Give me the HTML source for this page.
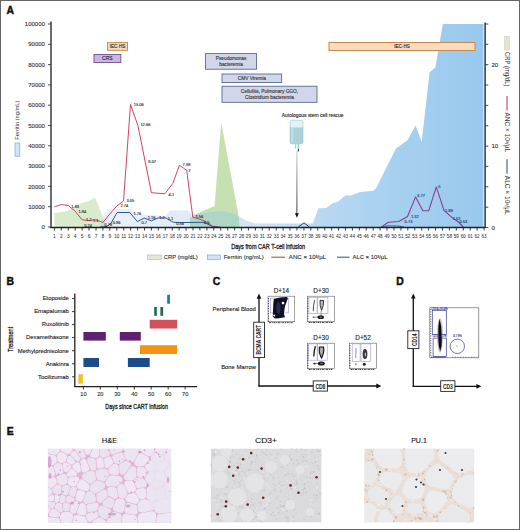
<!DOCTYPE html><html><head><meta charset="utf-8"><style>html,body{margin:0;padding:0;background:#fff;width:520px;height:530px;overflow:hidden}svg{display:block}</style></head><body><svg width="520" height="530" viewBox="0 0 520 530" font-family="Liberation Sans, sans-serif">
<defs>
<linearGradient id="fer" x1="50" y1="0" x2="485" y2="0" gradientUnits="userSpaceOnUse">
<stop offset="0" stop-color="#e8eff9"/><stop offset="0.16" stop-color="#e4ecf8"/><stop offset="0.35" stop-color="#d6e4f5"/><stop offset="0.5" stop-color="#c2daf2"/><stop offset="0.62" stop-color="#a8ceee"/><stop offset="0.8" stop-color="#90c4ec"/><stop offset="1" stop-color="#7ebbe8"/>
</linearGradient>
<linearGradient id="arr" x1="0" y1="151" x2="0" y2="214" gradientUnits="userSpaceOnUse"><stop offset="0" stop-color="#c8c8c8"/><stop offset="1" stop-color="#222"/></linearGradient>
<filter id="soft" x="0" y="0" width="1" height="1"><feGaussianBlur stdDeviation="0.5"/></filter>
<filter id="soft2" x="0" y="0" width="1" height="1"><feGaussianBlur stdDeviation="0.75"/></filter>
</defs>
<rect x="0" y="0" width="520" height="530" fill="#fff"/>
<polygon points="54.4,227.0 54.4,213.0 61.3,212.0 67.5,211.0 75.2,206.0 82.1,203.0 89.0,201.0 95.0,197.4 102.7,216.5 106.0,227.0" fill="#d9ebcc"/>
<polygon points="190.0,227.0 190.0,218.0 194.5,215.3 205.8,209.6 214.5,206.2 221.2,122.5 238.7,216.4 239.5,227.0" fill="#c6e0b2" />
<polygon points="100.0,227.0 104.0,214.0 108.0,209.0 130.0,209.0 137.0,214.0 165.0,216.0 170.8,210.4 188.5,210.4 192.0,215.0 200.0,213.0 222.0,210.7 235.0,214.0 245.0,220.0 255.0,223.6 312.7,223.6 318.5,208.2 326.0,208.0 333.0,203.0 337.9,201.7 345.2,195.6 351.4,195.6 360.0,191.9 373.4,190.7 376.0,188.2 395.8,148.7 407.7,140.0 415.6,125.5 421.7,141.9 429.6,72.2 435.4,67.5 442.8,24.0 483.5,24.0 483.5,227.0" fill="url(#fer)" fill-opacity="0.8"/>
<polygon points="103.0,217.4 100.0,227.0 106.0,227.0 103.0,217.4" fill="#c4dfcf"/>
<polygon points="194.5,215.3 190.0,218.0 190.0,227.0 239.5,227.0 238.7,216.4 238.7,216.2 235.0,214.0 222.0,210.7 200.0,213.0 198.1,213.5 194.5,215.3" fill="#acd6c6"/>
<polyline points="54.4,206.8 61.3,204.5 68.3,205.6 75.2,211.2 82.1,219.8 89.0,220.6 96.0,219.8 102.9,222.5 109.8,214.0 116.8,206.0 123.5,201.0 130.5,104.4 137.9,125.5 151.4,192.7 164.9,193.8 172.8,183.4 179.4,165.3 186.7,170.3 192.8,217.1 204.0,220.6 212.7,226.3 220.0,227.0" fill="none" stroke="#cc3a5e" stroke-width="0.95" stroke-linejoin="round"/>
<polyline points="100.0,227.0 107.0,226.5 110.8,223.5 117.1,212.5 129.8,212.5 137.4,221.6 144.1,218.1 151.5,220.8 158.3,217.9 165.7,217.9 173.1,222.2 179.8,222.6 204.0,222.3 212.7,226.8 218.0,227.0" fill="none" stroke="#2b5a8a" stroke-width="1" stroke-linejoin="round"/>
<polyline points="298.3,227 304,222.8 309.3,227" fill="none" stroke="#2b4a6a" stroke-width="1"/>
<polyline points="381.5,227.0 388.3,222.3 398.8,221.5 407.5,216.5 415.6,196.9 422.9,210.8 428.7,210.8 436.3,186.9 444.0,210.4 452.7,218.1 458.5,222.0 463.3,227.0" fill="none" stroke="#8a3f8f" stroke-width="1.1" stroke-linejoin="round"/>
<polyline points="381.5,227 388,225.8 398,226 404,227" fill="none" stroke="#2b4a7a" stroke-width="0.8"/>
<text x="133.7" y="105.9" font-size="4.0" text-anchor="start" fill="#2a2a2a" font-weight="normal"  stroke="#2a2a2a" stroke-width="0.12">15.06</text>
<text x="140.4" y="125.5" font-size="4.0" text-anchor="start" fill="#2a2a2a" font-weight="normal"  stroke="#2a2a2a" stroke-width="0.12">12.66</text>
<text x="148.3" y="163.4" font-size="4.0" text-anchor="start" fill="#2a2a2a" font-weight="normal"  stroke="#2a2a2a" stroke-width="0.12">8.07</text>
<text x="168.6" y="195.8" font-size="4.0" text-anchor="start" fill="#2a2a2a" font-weight="normal"  stroke="#2a2a2a" stroke-width="0.12">4.1</text>
<text x="182.6" y="166.0" font-size="4.0" text-anchor="start" fill="#2a2a2a" font-weight="normal"  stroke="#2a2a2a" stroke-width="0.12">7.98</text>
<text x="188.2" y="172.3" font-size="4.0" text-anchor="start" fill="#2a2a2a" font-weight="normal"  stroke="#2a2a2a" stroke-width="0.12">7</text>
<text x="126.5" y="201.6" font-size="4.0" text-anchor="start" fill="#2a2a2a" font-weight="normal"  stroke="#2a2a2a" stroke-width="0.12">3.05</text>
<text x="120.4" y="207.0" font-size="4.0" text-anchor="start" fill="#2a2a2a" font-weight="normal"  stroke="#2a2a2a" stroke-width="0.12">2.74</text>
<text x="71.3" y="207.6" font-size="4.0" text-anchor="start" fill="#2a2a2a" font-weight="normal"  stroke="#2a2a2a" stroke-width="0.12">1.83</text>
<text x="78.5" y="212.8" font-size="4.0" text-anchor="start" fill="#2a2a2a" font-weight="normal"  stroke="#2a2a2a" stroke-width="0.12">1.84</text>
<text x="133.4" y="214.9" font-size="4.0" text-anchor="start" fill="#2a2a2a" font-weight="normal"  stroke="#2a2a2a" stroke-width="0.12">1.76</text>
<text x="141.5" y="224.4" font-size="4.0" text-anchor="start" fill="#2a2a2a" font-weight="normal"  stroke="#2a2a2a" stroke-width="0.12">0.7</text>
<text x="147.7" y="219.2" font-size="4.0" text-anchor="start" fill="#2a2a2a" font-weight="normal"  stroke="#2a2a2a" stroke-width="0.12">1.16</text>
<text x="159.2" y="219.2" font-size="4.0" text-anchor="start" fill="#2a2a2a" font-weight="normal"  stroke="#2a2a2a" stroke-width="0.12">1.2</text>
<text x="167.7" y="219.8" font-size="4.0" text-anchor="start" fill="#2a2a2a" font-weight="normal"  stroke="#2a2a2a" stroke-width="0.12">1.1</text>
<text x="84.2" y="226.6" font-size="4.0" text-anchor="start" fill="#2a2a2a" font-weight="normal"  stroke="#2a2a2a" stroke-width="0.12">0.24</text>
<text x="112.7" y="224.3" font-size="4.0" text-anchor="start" fill="#2a2a2a" font-weight="normal"  stroke="#2a2a2a" stroke-width="0.12">0.86</text>
<text x="104.4" y="226.0" font-size="4.0" text-anchor="start" fill="#2a2a2a" font-weight="normal"  stroke="#2a2a2a" stroke-width="0.12">0.76</text>
<text x="176.2" y="225.3" font-size="4.0" text-anchor="start" fill="#2a2a2a" font-weight="normal"  stroke="#2a2a2a" stroke-width="0.12">0.56</text>
<text x="195.4" y="217.6" font-size="4.0" text-anchor="start" fill="#2a2a2a" font-weight="normal"  stroke="#2a2a2a" stroke-width="0.12">1.56</text>
<text x="203.8" y="224.1" font-size="4.0" text-anchor="start" fill="#2a2a2a" font-weight="normal"  stroke="#2a2a2a" stroke-width="0.12">0.5</text>
<text x="86" y="220.9" font-size="4.0" text-anchor="start" fill="#2a2a2a" font-weight="normal"  stroke="#2a2a2a" stroke-width="0.12">1.2</text>
<text x="93" y="221.9" font-size="4.0" text-anchor="start" fill="#2a2a2a" font-weight="normal"  stroke="#2a2a2a" stroke-width="0.12">1.1</text>
<text x="404.6" y="222.9" font-size="4.0" text-anchor="start" fill="#1c3560" font-weight="normal"  stroke="#1c3560" stroke-width="0.12">0.73</text>
<text x="411" y="217.6" font-size="4.0" text-anchor="start" fill="#1c3560" font-weight="normal"  stroke="#1c3560" stroke-width="0.12">1.32</text>
<text x="417.1" y="197.4" font-size="4.0" text-anchor="start" fill="#1c3560" font-weight="normal"  stroke="#1c3560" stroke-width="0.12">3.77</text>
<text x="438.3" y="188.3" font-size="4.0" text-anchor="start" fill="#1c3560" font-weight="normal"  stroke="#1c3560" stroke-width="0.12">5</text>
<text x="445" y="212.4" font-size="4.0" text-anchor="start" fill="#1c3560" font-weight="normal"  stroke="#1c3560" stroke-width="0.12">1.99</text>
<text x="452.7" y="220.4" font-size="4.0" text-anchor="start" fill="#1c3560" font-weight="normal"  stroke="#1c3560" stroke-width="0.12">1.02</text>
<text x="459.4" y="223.4" font-size="4.0" text-anchor="start" fill="#1c3560" font-weight="normal"  stroke="#1c3560" stroke-width="0.12">0.53</text>
<rect x="107.5" y="42.6" width="20.0" height="7.699999999999996" fill="#f7dcc0" stroke="#cf8c48" stroke-width="1"/>
<text x="117.5" y="48.1" font-size="4.6" text-anchor="middle" fill="#222" font-weight="normal"  stroke="#222" stroke-width="0.12">IEC-HS</text>
<rect x="94" y="54.5" width="26.799999999999997" height="8.0" fill="#ccb6de" stroke="#7a5c98" stroke-width="1"/>
<text x="107.4" y="60.3" font-size="5" text-anchor="middle" fill="#1e1e48" font-weight="normal"  stroke="#1e1e48" stroke-width="0.12">CRS</text>
<rect x="205.5" y="53.6" width="51.10000000000002" height="15.600000000000001" fill="#d2d6ea" stroke="#4a5a82" stroke-width="0.8"/>
<text x="231.1" y="60.1" font-size="4.8" text-anchor="middle" fill="#333" font-weight="normal"  stroke="#333" stroke-width="0.12">Pseudomonas</text>
<text x="231.1" y="66.1" font-size="4.8" text-anchor="middle" fill="#333" font-weight="normal"  stroke="#333" stroke-width="0.12">bacteremia</text>
<rect x="222" y="74" width="59.69999999999999" height="8.599999999999994" fill="#d2d6ea" stroke="#4a5a82" stroke-width="0.8"/>
<text x="251.8" y="80.0" font-size="4.8" text-anchor="middle" fill="#333" font-weight="normal"  stroke="#333" stroke-width="0.12">CMV Viremia</text>
<rect x="222" y="86.2" width="95" height="16.099999999999994" fill="#d2d6ea" stroke="#4a5a82" stroke-width="0.8"/>
<text x="269.5" y="93.0" font-size="4.8" text-anchor="middle" fill="#333" font-weight="normal"  stroke="#333" stroke-width="0.12">Cellulitis, Pulmonary GGO,</text>
<text x="269.5" y="99.0" font-size="4.8" text-anchor="middle" fill="#333" font-weight="normal"  stroke="#333" stroke-width="0.12">Clostridium bacteremia</text>
<rect x="329" y="42.5" width="146" height="8.0" fill="#f8dcc2" stroke="#c88848" stroke-width="1"/>
<text x="402.0" y="48.2" font-size="4.6" text-anchor="middle" fill="#222" font-weight="normal"  stroke="#222" stroke-width="0.12">IEC-HS</text>
<text x="312.7" y="117.2" font-size="5.2" text-anchor="middle" fill="#222" font-weight="normal" textLength="61.8" lengthAdjust="spacingAndGlyphs"  stroke="#222" stroke-width="0.12">Autologous stem cell rescue</text>
<rect x="290" y="120.3" width="13" height="23.5" rx="1.6" fill="#a8d3d9" stroke="#8dbcc4" stroke-width="0.5"/>
<rect x="290.3" y="120.6" width="12.4" height="7" rx="1.4" fill="#e2f1f2"/>
<rect x="291.3" y="128" width="1.6" height="14.5" fill="#c6e4e8"/>
<rect x="294.9" y="143.6" width="1.4" height="5" fill="#a8cdd2"/>
<rect x="297.7" y="143.6" width="1.4" height="6" fill="#9cc4ca"/>
<rect x="297.8" y="149" width="1.2" height="2.5" fill="#3a4a50"/>
<line x1="296.9" y1="151" x2="296.9" y2="214" stroke="url(#arr)" stroke-width="0.9"/>
<polygon points="294.9,213.3 298.8,213.3 296.9,217.8" fill="#111"/>
<line x1="51" y1="21.5" x2="51" y2="228" stroke="#3a3a3a" stroke-width="1.5"/>
<line x1="48" y1="227.0" x2="51" y2="227.0" stroke="#3a3a3a" stroke-width="0.9"/>
<text x="44.9" y="229.1" font-size="6.0" text-anchor="end" fill="#333" font-weight="normal"  stroke="#333" stroke-width="0.12">0</text>
<line x1="48" y1="206.7" x2="51" y2="206.7" stroke="#3a3a3a" stroke-width="0.9"/>
<text x="44.9" y="208.8" font-size="6.0" text-anchor="end" fill="#333" font-weight="normal"  stroke="#333" stroke-width="0.12">10000</text>
<line x1="48" y1="186.4" x2="51" y2="186.4" stroke="#3a3a3a" stroke-width="0.9"/>
<text x="44.9" y="188.5" font-size="6.0" text-anchor="end" fill="#333" font-weight="normal"  stroke="#333" stroke-width="0.12">20000</text>
<line x1="48" y1="166.1" x2="51" y2="166.1" stroke="#3a3a3a" stroke-width="0.9"/>
<text x="44.9" y="168.2" font-size="6.0" text-anchor="end" fill="#333" font-weight="normal"  stroke="#333" stroke-width="0.12">30000</text>
<line x1="48" y1="145.8" x2="51" y2="145.8" stroke="#3a3a3a" stroke-width="0.9"/>
<text x="44.9" y="147.9" font-size="6.0" text-anchor="end" fill="#333" font-weight="normal"  stroke="#333" stroke-width="0.12">40000</text>
<line x1="48" y1="125.5" x2="51" y2="125.5" stroke="#3a3a3a" stroke-width="0.9"/>
<text x="44.9" y="127.6" font-size="6.0" text-anchor="end" fill="#333" font-weight="normal"  stroke="#333" stroke-width="0.12">50000</text>
<line x1="48" y1="105.2" x2="51" y2="105.2" stroke="#3a3a3a" stroke-width="0.9"/>
<text x="44.9" y="107.3" font-size="6.0" text-anchor="end" fill="#333" font-weight="normal"  stroke="#333" stroke-width="0.12">60000</text>
<line x1="48" y1="84.9" x2="51" y2="84.9" stroke="#3a3a3a" stroke-width="0.9"/>
<text x="44.9" y="87.0" font-size="6.0" text-anchor="end" fill="#333" font-weight="normal"  stroke="#333" stroke-width="0.12">70000</text>
<line x1="48" y1="64.6" x2="51" y2="64.6" stroke="#3a3a3a" stroke-width="0.9"/>
<text x="44.9" y="66.7" font-size="6.0" text-anchor="end" fill="#333" font-weight="normal"  stroke="#333" stroke-width="0.12">80000</text>
<line x1="48" y1="44.3" x2="51" y2="44.3" stroke="#3a3a3a" stroke-width="0.9"/>
<text x="44.9" y="46.4" font-size="6.0" text-anchor="end" fill="#333" font-weight="normal"  stroke="#333" stroke-width="0.12">90000</text>
<line x1="48" y1="24.0" x2="51" y2="24.0" stroke="#3a3a3a" stroke-width="0.9"/>
<text x="44.9" y="26.1" font-size="6.0" text-anchor="end" fill="#333" font-weight="normal"  stroke="#333" stroke-width="0.12">100000</text>
<line x1="485.1" y1="22.6" x2="485.1" y2="228" stroke="#26364a" stroke-width="1.5"/>
<line x1="485.1" y1="227.5" x2="488.3" y2="227.5" stroke="#26364a" stroke-width="0.9"/>
<line x1="485.1" y1="207.2" x2="488.3" y2="207.2" stroke="#26364a" stroke-width="0.9"/>
<line x1="485.1" y1="186.8" x2="488.3" y2="186.8" stroke="#26364a" stroke-width="0.9"/>
<line x1="485.1" y1="166.4" x2="488.3" y2="166.4" stroke="#26364a" stroke-width="0.9"/>
<line x1="485.1" y1="146.1" x2="488.3" y2="146.1" stroke="#26364a" stroke-width="0.9"/>
<line x1="485.1" y1="125.8" x2="488.3" y2="125.8" stroke="#26364a" stroke-width="0.9"/>
<line x1="485.1" y1="105.4" x2="488.3" y2="105.4" stroke="#26364a" stroke-width="0.9"/>
<line x1="485.1" y1="85.0" x2="488.3" y2="85.0" stroke="#26364a" stroke-width="0.9"/>
<line x1="485.1" y1="64.7" x2="488.3" y2="64.7" stroke="#26364a" stroke-width="0.9"/>
<line x1="485.1" y1="44.3" x2="488.3" y2="44.3" stroke="#26364a" stroke-width="0.9"/>
<line x1="485.1" y1="24.0" x2="488.3" y2="24.0" stroke="#26364a" stroke-width="0.9"/>
<text x="491.4" y="67.3" font-size="6.2" text-anchor="start" fill="#333" font-weight="normal"  stroke="#333" stroke-width="0.12">20</text>
<text x="491.4" y="148.3" font-size="6.2" text-anchor="start" fill="#333" font-weight="normal"  stroke="#333" stroke-width="0.12">10</text>
<text x="491.4" y="229.5" font-size="6.2" text-anchor="start" fill="#333" font-weight="normal"  stroke="#333" stroke-width="0.12">0</text>
<line x1="50.3" y1="227.5" x2="485.5" y2="227.5" stroke="#222" stroke-width="1.6"/>
<line x1="54.4" y1="227.5" x2="54.4" y2="230.5" stroke="#222" stroke-width="0.9"/>
<text x="54.4" y="237.8" font-size="4.9" text-anchor="middle" fill="#333" font-weight="normal" stroke="#333" stroke-width="0.05">1</text>
<line x1="61.3" y1="227.5" x2="61.3" y2="230.5" stroke="#222" stroke-width="0.9"/>
<text x="61.3" y="237.8" font-size="4.9" text-anchor="middle" fill="#333" font-weight="normal" stroke="#333" stroke-width="0.05">2</text>
<line x1="68.3" y1="227.5" x2="68.3" y2="230.5" stroke="#222" stroke-width="0.9"/>
<text x="68.3" y="237.8" font-size="4.9" text-anchor="middle" fill="#333" font-weight="normal" stroke="#333" stroke-width="0.05">3</text>
<line x1="75.2" y1="227.5" x2="75.2" y2="230.5" stroke="#222" stroke-width="0.9"/>
<text x="75.2" y="237.8" font-size="4.9" text-anchor="middle" fill="#333" font-weight="normal" stroke="#333" stroke-width="0.05">4</text>
<line x1="82.1" y1="227.5" x2="82.1" y2="230.5" stroke="#222" stroke-width="0.9"/>
<text x="82.1" y="237.8" font-size="4.9" text-anchor="middle" fill="#333" font-weight="normal" stroke="#333" stroke-width="0.05">5</text>
<line x1="89.0" y1="227.5" x2="89.0" y2="230.5" stroke="#222" stroke-width="0.9"/>
<text x="89.0" y="237.8" font-size="4.9" text-anchor="middle" fill="#333" font-weight="normal" stroke="#333" stroke-width="0.05">6</text>
<line x1="96.0" y1="227.5" x2="96.0" y2="230.5" stroke="#222" stroke-width="0.9"/>
<text x="96.0" y="237.8" font-size="4.9" text-anchor="middle" fill="#333" font-weight="normal" stroke="#333" stroke-width="0.05">7</text>
<line x1="102.9" y1="227.5" x2="102.9" y2="230.5" stroke="#222" stroke-width="0.9"/>
<text x="102.9" y="237.8" font-size="4.9" text-anchor="middle" fill="#333" font-weight="normal" stroke="#333" stroke-width="0.05">8</text>
<line x1="109.8" y1="227.5" x2="109.8" y2="230.5" stroke="#222" stroke-width="0.9"/>
<text x="109.8" y="237.8" font-size="4.9" text-anchor="middle" fill="#333" font-weight="normal" stroke="#333" stroke-width="0.05">9</text>
<line x1="116.8" y1="227.5" x2="116.8" y2="230.5" stroke="#222" stroke-width="0.9"/>
<text x="116.8" y="237.8" font-size="4.9" text-anchor="middle" fill="#333" font-weight="normal" textLength="5.1" lengthAdjust="spacingAndGlyphs" stroke="#333" stroke-width="0.05">10</text>
<line x1="123.7" y1="227.5" x2="123.7" y2="230.5" stroke="#222" stroke-width="0.9"/>
<text x="123.7" y="237.8" font-size="4.9" text-anchor="middle" fill="#333" font-weight="normal" textLength="5.1" lengthAdjust="spacingAndGlyphs" stroke="#333" stroke-width="0.05">11</text>
<line x1="130.6" y1="227.5" x2="130.6" y2="230.5" stroke="#222" stroke-width="0.9"/>
<text x="130.6" y="237.8" font-size="4.9" text-anchor="middle" fill="#333" font-weight="normal" textLength="5.1" lengthAdjust="spacingAndGlyphs" stroke="#333" stroke-width="0.05">12</text>
<line x1="137.6" y1="227.5" x2="137.6" y2="230.5" stroke="#222" stroke-width="0.9"/>
<text x="137.6" y="237.8" font-size="4.9" text-anchor="middle" fill="#333" font-weight="normal" textLength="5.1" lengthAdjust="spacingAndGlyphs" stroke="#333" stroke-width="0.05">13</text>
<line x1="144.5" y1="227.5" x2="144.5" y2="230.5" stroke="#222" stroke-width="0.9"/>
<text x="144.5" y="237.8" font-size="4.9" text-anchor="middle" fill="#333" font-weight="normal" textLength="5.1" lengthAdjust="spacingAndGlyphs" stroke="#333" stroke-width="0.05">14</text>
<line x1="151.4" y1="227.5" x2="151.4" y2="230.5" stroke="#222" stroke-width="0.9"/>
<text x="151.4" y="237.8" font-size="4.9" text-anchor="middle" fill="#333" font-weight="normal" textLength="5.1" lengthAdjust="spacingAndGlyphs" stroke="#333" stroke-width="0.05">15</text>
<line x1="158.3" y1="227.5" x2="158.3" y2="230.5" stroke="#222" stroke-width="0.9"/>
<text x="158.3" y="237.8" font-size="4.9" text-anchor="middle" fill="#333" font-weight="normal" textLength="5.1" lengthAdjust="spacingAndGlyphs" stroke="#333" stroke-width="0.05">16</text>
<line x1="165.3" y1="227.5" x2="165.3" y2="230.5" stroke="#222" stroke-width="0.9"/>
<text x="165.3" y="237.8" font-size="4.9" text-anchor="middle" fill="#333" font-weight="normal" textLength="5.1" lengthAdjust="spacingAndGlyphs" stroke="#333" stroke-width="0.05">17</text>
<line x1="172.2" y1="227.5" x2="172.2" y2="230.5" stroke="#222" stroke-width="0.9"/>
<text x="172.2" y="237.8" font-size="4.9" text-anchor="middle" fill="#333" font-weight="normal" textLength="5.1" lengthAdjust="spacingAndGlyphs" stroke="#333" stroke-width="0.05">18</text>
<line x1="179.1" y1="227.5" x2="179.1" y2="230.5" stroke="#222" stroke-width="0.9"/>
<text x="179.1" y="237.8" font-size="4.9" text-anchor="middle" fill="#333" font-weight="normal" textLength="5.1" lengthAdjust="spacingAndGlyphs" stroke="#333" stroke-width="0.05">19</text>
<line x1="186.1" y1="227.5" x2="186.1" y2="230.5" stroke="#222" stroke-width="0.9"/>
<text x="186.1" y="237.8" font-size="4.9" text-anchor="middle" fill="#333" font-weight="normal" textLength="5.1" lengthAdjust="spacingAndGlyphs" stroke="#333" stroke-width="0.05">20</text>
<line x1="193.0" y1="227.5" x2="193.0" y2="230.5" stroke="#222" stroke-width="0.9"/>
<text x="193.0" y="237.8" font-size="4.9" text-anchor="middle" fill="#333" font-weight="normal" textLength="5.1" lengthAdjust="spacingAndGlyphs" stroke="#333" stroke-width="0.05">21</text>
<line x1="199.9" y1="227.5" x2="199.9" y2="230.5" stroke="#222" stroke-width="0.9"/>
<text x="199.9" y="237.8" font-size="4.9" text-anchor="middle" fill="#333" font-weight="normal" textLength="5.1" lengthAdjust="spacingAndGlyphs" stroke="#333" stroke-width="0.05">22</text>
<line x1="206.9" y1="227.5" x2="206.9" y2="230.5" stroke="#222" stroke-width="0.9"/>
<text x="206.9" y="237.8" font-size="4.9" text-anchor="middle" fill="#333" font-weight="normal" textLength="5.1" lengthAdjust="spacingAndGlyphs" stroke="#333" stroke-width="0.05">23</text>
<line x1="213.8" y1="227.5" x2="213.8" y2="230.5" stroke="#222" stroke-width="0.9"/>
<text x="213.8" y="237.8" font-size="4.9" text-anchor="middle" fill="#333" font-weight="normal" textLength="5.1" lengthAdjust="spacingAndGlyphs" stroke="#333" stroke-width="0.05">24</text>
<line x1="220.7" y1="227.5" x2="220.7" y2="230.5" stroke="#222" stroke-width="0.9"/>
<text x="220.7" y="237.8" font-size="4.9" text-anchor="middle" fill="#333" font-weight="normal" textLength="5.1" lengthAdjust="spacingAndGlyphs" stroke="#333" stroke-width="0.05">25</text>
<line x1="227.7" y1="227.5" x2="227.7" y2="230.5" stroke="#222" stroke-width="0.9"/>
<text x="227.7" y="237.8" font-size="4.9" text-anchor="middle" fill="#333" font-weight="normal" textLength="5.1" lengthAdjust="spacingAndGlyphs" stroke="#333" stroke-width="0.05">26</text>
<line x1="234.6" y1="227.5" x2="234.6" y2="230.5" stroke="#222" stroke-width="0.9"/>
<text x="234.6" y="237.8" font-size="4.9" text-anchor="middle" fill="#333" font-weight="normal" textLength="5.1" lengthAdjust="spacingAndGlyphs" stroke="#333" stroke-width="0.05">27</text>
<line x1="241.5" y1="227.5" x2="241.5" y2="230.5" stroke="#222" stroke-width="0.9"/>
<text x="241.5" y="237.8" font-size="4.9" text-anchor="middle" fill="#333" font-weight="normal" textLength="5.1" lengthAdjust="spacingAndGlyphs" stroke="#333" stroke-width="0.05">28</text>
<line x1="248.4" y1="227.5" x2="248.4" y2="230.5" stroke="#222" stroke-width="0.9"/>
<text x="248.4" y="237.8" font-size="4.9" text-anchor="middle" fill="#333" font-weight="normal" textLength="5.1" lengthAdjust="spacingAndGlyphs" stroke="#333" stroke-width="0.05">29</text>
<line x1="255.4" y1="227.5" x2="255.4" y2="230.5" stroke="#222" stroke-width="0.9"/>
<text x="255.4" y="237.8" font-size="4.9" text-anchor="middle" fill="#333" font-weight="normal" textLength="5.1" lengthAdjust="spacingAndGlyphs" stroke="#333" stroke-width="0.05">30</text>
<line x1="262.3" y1="227.5" x2="262.3" y2="230.5" stroke="#222" stroke-width="0.9"/>
<text x="262.3" y="237.8" font-size="4.9" text-anchor="middle" fill="#333" font-weight="normal" textLength="5.1" lengthAdjust="spacingAndGlyphs" stroke="#333" stroke-width="0.05">31</text>
<line x1="269.2" y1="227.5" x2="269.2" y2="230.5" stroke="#222" stroke-width="0.9"/>
<text x="269.2" y="237.8" font-size="4.9" text-anchor="middle" fill="#333" font-weight="normal" textLength="5.1" lengthAdjust="spacingAndGlyphs" stroke="#333" stroke-width="0.05">32</text>
<line x1="276.2" y1="227.5" x2="276.2" y2="230.5" stroke="#222" stroke-width="0.9"/>
<text x="276.2" y="237.8" font-size="4.9" text-anchor="middle" fill="#333" font-weight="normal" textLength="5.1" lengthAdjust="spacingAndGlyphs" stroke="#333" stroke-width="0.05">33</text>
<line x1="283.1" y1="227.5" x2="283.1" y2="230.5" stroke="#222" stroke-width="0.9"/>
<text x="283.1" y="237.8" font-size="4.9" text-anchor="middle" fill="#333" font-weight="normal" textLength="5.1" lengthAdjust="spacingAndGlyphs" stroke="#333" stroke-width="0.05">34</text>
<line x1="290.0" y1="227.5" x2="290.0" y2="230.5" stroke="#222" stroke-width="0.9"/>
<text x="290.0" y="237.8" font-size="4.9" text-anchor="middle" fill="#333" font-weight="normal" textLength="5.1" lengthAdjust="spacingAndGlyphs" stroke="#333" stroke-width="0.05">35</text>
<line x1="296.9" y1="227.5" x2="296.9" y2="230.5" stroke="#222" stroke-width="0.9"/>
<text x="296.9" y="237.8" font-size="4.9" text-anchor="middle" fill="#333" font-weight="normal" textLength="5.1" lengthAdjust="spacingAndGlyphs" stroke="#333" stroke-width="0.05">36</text>
<line x1="303.9" y1="227.5" x2="303.9" y2="230.5" stroke="#222" stroke-width="0.9"/>
<text x="303.9" y="237.8" font-size="4.9" text-anchor="middle" fill="#333" font-weight="normal" textLength="5.1" lengthAdjust="spacingAndGlyphs" stroke="#333" stroke-width="0.05">37</text>
<line x1="310.8" y1="227.5" x2="310.8" y2="230.5" stroke="#222" stroke-width="0.9"/>
<text x="310.8" y="237.8" font-size="4.9" text-anchor="middle" fill="#333" font-weight="normal" textLength="5.1" lengthAdjust="spacingAndGlyphs" stroke="#333" stroke-width="0.05">38</text>
<line x1="317.7" y1="227.5" x2="317.7" y2="230.5" stroke="#222" stroke-width="0.9"/>
<text x="317.7" y="237.8" font-size="4.9" text-anchor="middle" fill="#333" font-weight="normal" textLength="5.1" lengthAdjust="spacingAndGlyphs" stroke="#333" stroke-width="0.05">39</text>
<line x1="324.7" y1="227.5" x2="324.7" y2="230.5" stroke="#222" stroke-width="0.9"/>
<text x="324.7" y="237.8" font-size="4.9" text-anchor="middle" fill="#333" font-weight="normal" textLength="5.1" lengthAdjust="spacingAndGlyphs" stroke="#333" stroke-width="0.05">40</text>
<line x1="331.6" y1="227.5" x2="331.6" y2="230.5" stroke="#222" stroke-width="0.9"/>
<text x="331.6" y="237.8" font-size="4.9" text-anchor="middle" fill="#333" font-weight="normal" textLength="5.1" lengthAdjust="spacingAndGlyphs" stroke="#333" stroke-width="0.05">41</text>
<line x1="338.5" y1="227.5" x2="338.5" y2="230.5" stroke="#222" stroke-width="0.9"/>
<text x="338.5" y="237.8" font-size="4.9" text-anchor="middle" fill="#333" font-weight="normal" textLength="5.1" lengthAdjust="spacingAndGlyphs" stroke="#333" stroke-width="0.05">42</text>
<line x1="345.5" y1="227.5" x2="345.5" y2="230.5" stroke="#222" stroke-width="0.9"/>
<text x="345.5" y="237.8" font-size="4.9" text-anchor="middle" fill="#333" font-weight="normal" textLength="5.1" lengthAdjust="spacingAndGlyphs" stroke="#333" stroke-width="0.05">43</text>
<line x1="352.4" y1="227.5" x2="352.4" y2="230.5" stroke="#222" stroke-width="0.9"/>
<text x="352.4" y="237.8" font-size="4.9" text-anchor="middle" fill="#333" font-weight="normal" textLength="5.1" lengthAdjust="spacingAndGlyphs" stroke="#333" stroke-width="0.05">44</text>
<line x1="359.3" y1="227.5" x2="359.3" y2="230.5" stroke="#222" stroke-width="0.9"/>
<text x="359.3" y="237.8" font-size="4.9" text-anchor="middle" fill="#333" font-weight="normal" textLength="5.1" lengthAdjust="spacingAndGlyphs" stroke="#333" stroke-width="0.05">45</text>
<line x1="366.2" y1="227.5" x2="366.2" y2="230.5" stroke="#222" stroke-width="0.9"/>
<text x="366.2" y="237.8" font-size="4.9" text-anchor="middle" fill="#333" font-weight="normal" textLength="5.1" lengthAdjust="spacingAndGlyphs" stroke="#333" stroke-width="0.05">46</text>
<line x1="373.2" y1="227.5" x2="373.2" y2="230.5" stroke="#222" stroke-width="0.9"/>
<text x="373.2" y="237.8" font-size="4.9" text-anchor="middle" fill="#333" font-weight="normal" textLength="5.1" lengthAdjust="spacingAndGlyphs" stroke="#333" stroke-width="0.05">47</text>
<line x1="380.1" y1="227.5" x2="380.1" y2="230.5" stroke="#222" stroke-width="0.9"/>
<text x="380.1" y="237.8" font-size="4.9" text-anchor="middle" fill="#333" font-weight="normal" textLength="5.1" lengthAdjust="spacingAndGlyphs" stroke="#333" stroke-width="0.05">48</text>
<line x1="387.0" y1="227.5" x2="387.0" y2="230.5" stroke="#222" stroke-width="0.9"/>
<text x="387.0" y="237.8" font-size="4.9" text-anchor="middle" fill="#333" font-weight="normal" textLength="5.1" lengthAdjust="spacingAndGlyphs" stroke="#333" stroke-width="0.05">49</text>
<line x1="394.0" y1="227.5" x2="394.0" y2="230.5" stroke="#222" stroke-width="0.9"/>
<text x="394.0" y="237.8" font-size="4.9" text-anchor="middle" fill="#333" font-weight="normal" textLength="5.1" lengthAdjust="spacingAndGlyphs" stroke="#333" stroke-width="0.05">50</text>
<line x1="400.9" y1="227.5" x2="400.9" y2="230.5" stroke="#222" stroke-width="0.9"/>
<text x="400.9" y="237.8" font-size="4.9" text-anchor="middle" fill="#333" font-weight="normal" textLength="5.1" lengthAdjust="spacingAndGlyphs" stroke="#333" stroke-width="0.05">51</text>
<line x1="407.8" y1="227.5" x2="407.8" y2="230.5" stroke="#222" stroke-width="0.9"/>
<text x="407.8" y="237.8" font-size="4.9" text-anchor="middle" fill="#333" font-weight="normal" textLength="5.1" lengthAdjust="spacingAndGlyphs" stroke="#333" stroke-width="0.05">52</text>
<line x1="414.8" y1="227.5" x2="414.8" y2="230.5" stroke="#222" stroke-width="0.9"/>
<text x="414.8" y="237.8" font-size="4.9" text-anchor="middle" fill="#333" font-weight="normal" textLength="5.1" lengthAdjust="spacingAndGlyphs" stroke="#333" stroke-width="0.05">53</text>
<line x1="421.7" y1="227.5" x2="421.7" y2="230.5" stroke="#222" stroke-width="0.9"/>
<text x="421.7" y="237.8" font-size="4.9" text-anchor="middle" fill="#333" font-weight="normal" textLength="5.1" lengthAdjust="spacingAndGlyphs" stroke="#333" stroke-width="0.05">54</text>
<line x1="428.6" y1="227.5" x2="428.6" y2="230.5" stroke="#222" stroke-width="0.9"/>
<text x="428.6" y="237.8" font-size="4.9" text-anchor="middle" fill="#333" font-weight="normal" textLength="5.1" lengthAdjust="spacingAndGlyphs" stroke="#333" stroke-width="0.05">55</text>
<line x1="435.5" y1="227.5" x2="435.5" y2="230.5" stroke="#222" stroke-width="0.9"/>
<text x="435.5" y="237.8" font-size="4.9" text-anchor="middle" fill="#333" font-weight="normal" textLength="5.1" lengthAdjust="spacingAndGlyphs" stroke="#333" stroke-width="0.05">56</text>
<line x1="442.5" y1="227.5" x2="442.5" y2="230.5" stroke="#222" stroke-width="0.9"/>
<text x="442.5" y="237.8" font-size="4.9" text-anchor="middle" fill="#333" font-weight="normal" textLength="5.1" lengthAdjust="spacingAndGlyphs" stroke="#333" stroke-width="0.05">57</text>
<line x1="449.4" y1="227.5" x2="449.4" y2="230.5" stroke="#222" stroke-width="0.9"/>
<text x="449.4" y="237.8" font-size="4.9" text-anchor="middle" fill="#333" font-weight="normal" textLength="5.1" lengthAdjust="spacingAndGlyphs" stroke="#333" stroke-width="0.05">58</text>
<line x1="456.3" y1="227.5" x2="456.3" y2="230.5" stroke="#222" stroke-width="0.9"/>
<text x="456.3" y="237.8" font-size="4.9" text-anchor="middle" fill="#333" font-weight="normal" textLength="5.1" lengthAdjust="spacingAndGlyphs" stroke="#333" stroke-width="0.05">59</text>
<line x1="463.3" y1="227.5" x2="463.3" y2="230.5" stroke="#222" stroke-width="0.9"/>
<text x="463.3" y="237.8" font-size="4.9" text-anchor="middle" fill="#333" font-weight="normal" textLength="5.1" lengthAdjust="spacingAndGlyphs" stroke="#333" stroke-width="0.05">60</text>
<line x1="470.2" y1="227.5" x2="470.2" y2="230.5" stroke="#222" stroke-width="0.9"/>
<text x="470.2" y="237.8" font-size="4.9" text-anchor="middle" fill="#333" font-weight="normal" textLength="5.1" lengthAdjust="spacingAndGlyphs" stroke="#333" stroke-width="0.05">61</text>
<line x1="477.1" y1="227.5" x2="477.1" y2="230.5" stroke="#222" stroke-width="0.9"/>
<text x="477.1" y="237.8" font-size="4.9" text-anchor="middle" fill="#333" font-weight="normal" textLength="5.1" lengthAdjust="spacingAndGlyphs" stroke="#333" stroke-width="0.05">62</text>
<line x1="484.1" y1="227.5" x2="484.1" y2="230.5" stroke="#222" stroke-width="0.9"/>
<text x="484.1" y="237.8" font-size="4.9" text-anchor="middle" fill="#333" font-weight="normal" textLength="5.1" lengthAdjust="spacingAndGlyphs" stroke="#333" stroke-width="0.05">63</text>
<text x="268.2" y="249.2" font-size="7.6" text-anchor="middle" fill="#222" font-weight="normal" textLength="74" lengthAdjust="spacingAndGlyphs" stroke="#222" stroke-width="0.32">Days from CAR T-cell infusion</text>
<rect x="147.5" y="255" width="13.8" height="4.5" fill="#e4e8d2" stroke="#b8bca0" stroke-width="0.6"/>
<text x="163.8" y="259.3" font-size="5.6" text-anchor="start" fill="#333" font-weight="normal" textLength="34" lengthAdjust="spacingAndGlyphs"  stroke="#333" stroke-width="0.12">CRP (mg/dL)</text>
<rect x="207.5" y="255" width="13" height="4.5" fill="#cfe2f6" stroke="#6ea4d8" stroke-width="0.6"/>
<text x="223.8" y="259.3" font-size="5.6" text-anchor="start" fill="#333" font-weight="normal" textLength="40" lengthAdjust="spacingAndGlyphs"  stroke="#333" stroke-width="0.12">Ferritin (ng/mL)</text>
<line x1="271.3" y1="257.2" x2="285" y2="257.2" stroke="#c0304a" stroke-width="1"/>
<text x="288.8" y="259.3" font-size="5.6" text-anchor="start" fill="#333" font-weight="normal" textLength="37.5" lengthAdjust="spacingAndGlyphs"  stroke="#333" stroke-width="0.12">ANC × 10³/µL</text>
<line x1="337" y1="257.2" x2="349.5" y2="257.2" stroke="#2b4f80" stroke-width="1"/>
<text x="352.5" y="259.3" font-size="5.6" text-anchor="start" fill="#333" font-weight="normal" textLength="35" lengthAdjust="spacingAndGlyphs"  stroke="#333" stroke-width="0.12">ALC × 10³/µL</text>
<text x="0" y="0" font-size="5.6" fill="#333" text-anchor="middle" textLength="39" lengthAdjust="spacingAndGlyphs" transform="translate(18.6,120.2) rotate(-90)">Ferritin (ng/mL)</text>
<rect x="15" y="143" width="4.8" height="13.2" fill="#cfe2f6" stroke="#6ea4d8" stroke-width="0.6"/>
<rect x="504.5" y="36.4" width="4.8" height="13.6" fill="#e2e6d0" stroke="#c4c8b0" stroke-width="0.5"/>
<text x="0" y="0" font-size="6.3" fill="#333" text-anchor="middle" textLength="34.3" lengthAdjust="spacingAndGlyphs" transform="translate(505.2,69.25) rotate(90)">CRP (mg/dL)</text>
<line x1="507" y1="95.9" x2="507" y2="110.5" stroke="#c0406a" stroke-width="1.1"/>
<text x="0" y="0" font-size="6.3" fill="#333" text-anchor="middle" textLength="39.6" lengthAdjust="spacingAndGlyphs" transform="translate(505.2,132.3) rotate(90)">ANC × 10³/µL</text>
<line x1="507" y1="159.2" x2="507" y2="173.8" stroke="#3a5a80" stroke-width="1.1"/>
<text x="0" y="0" font-size="6.3" fill="#333" text-anchor="middle" textLength="38.9" lengthAdjust="spacingAndGlyphs" transform="translate(505.2,195.25) rotate(90)">ALC × 10³/µL</text>
<text x="6.6" y="14.3" font-size="10.4" text-anchor="start" fill="#111" font-weight="bold" stroke="#111" stroke-width="0.45">A</text>
<text x="6.6" y="285" font-size="10.4" text-anchor="start" fill="#111" font-weight="bold" stroke="#111" stroke-width="0.45">B</text>
<text x="212.8" y="285" font-size="10.4" text-anchor="start" fill="#111" font-weight="bold" stroke="#111" stroke-width="0.45">C</text>
<text x="396.2" y="285" font-size="10.4" text-anchor="start" fill="#111" font-weight="bold" stroke="#111" stroke-width="0.45">D</text>
<text x="6.8" y="434.6" font-size="10.4" text-anchor="start" fill="#111" font-weight="bold" stroke="#111" stroke-width="0.45">E</text>
<text x="68.9" y="300.3" font-size="5.9" text-anchor="end" fill="#222" font-weight="normal"  stroke="#222" stroke-width="0.12">Etoposide</text>
<line x1="72" y1="298.5" x2="74.8" y2="298.5" stroke="#222" stroke-width="0.9"/>
<text x="68.9" y="313.4" font-size="5.9" text-anchor="end" fill="#222" font-weight="normal"  stroke="#222" stroke-width="0.12">Emapalumab</text>
<line x1="72" y1="311.6" x2="74.8" y2="311.6" stroke="#222" stroke-width="0.9"/>
<text x="68.9" y="326.4" font-size="5.9" text-anchor="end" fill="#222" font-weight="normal"  stroke="#222" stroke-width="0.12">Ruxolitinib</text>
<line x1="72" y1="324.6" x2="74.8" y2="324.6" stroke="#222" stroke-width="0.9"/>
<text x="68.9" y="339.4" font-size="5.9" text-anchor="end" fill="#222" font-weight="normal"  stroke="#222" stroke-width="0.12">Dexamethasone</text>
<line x1="72" y1="337.6" x2="74.8" y2="337.6" stroke="#222" stroke-width="0.9"/>
<text x="68.9" y="352.5" font-size="5.9" text-anchor="end" fill="#222" font-weight="normal"  stroke="#222" stroke-width="0.12">Methylprednisolone</text>
<line x1="72" y1="350.7" x2="74.8" y2="350.7" stroke="#222" stroke-width="0.9"/>
<text x="68.9" y="365.6" font-size="5.9" text-anchor="end" fill="#222" font-weight="normal"  stroke="#222" stroke-width="0.12">Anakinra</text>
<line x1="72" y1="363.8" x2="74.8" y2="363.8" stroke="#222" stroke-width="0.9"/>
<text x="68.9" y="378.6" font-size="5.9" text-anchor="end" fill="#222" font-weight="normal"  stroke="#222" stroke-width="0.12">Tocilizumab</text>
<line x1="72" y1="376.8" x2="74.8" y2="376.8" stroke="#222" stroke-width="0.9"/>
<line x1="74.8" y1="293.5" x2="74.8" y2="387" stroke="#222" stroke-width="1.3"/>
<line x1="74.2" y1="386.6" x2="197" y2="386.6" stroke="#222" stroke-width="1.3"/>
<line x1="83.4" y1="386.6" x2="83.4" y2="389.5" stroke="#222" stroke-width="0.9"/>
<text x="83.4" y="396.2" font-size="5.6" text-anchor="middle" fill="#333" font-weight="normal"  stroke="#333" stroke-width="0.12">10</text>
<line x1="100.3" y1="386.6" x2="100.3" y2="389.5" stroke="#222" stroke-width="0.9"/>
<text x="100.3" y="396.2" font-size="5.6" text-anchor="middle" fill="#333" font-weight="normal"  stroke="#333" stroke-width="0.12">20</text>
<line x1="117.3" y1="386.6" x2="117.3" y2="389.5" stroke="#222" stroke-width="0.9"/>
<text x="117.3" y="396.2" font-size="5.6" text-anchor="middle" fill="#333" font-weight="normal"  stroke="#333" stroke-width="0.12">30</text>
<line x1="134.3" y1="386.6" x2="134.3" y2="389.5" stroke="#222" stroke-width="0.9"/>
<text x="134.3" y="396.2" font-size="5.6" text-anchor="middle" fill="#333" font-weight="normal"  stroke="#333" stroke-width="0.12">40</text>
<line x1="151.2" y1="386.6" x2="151.2" y2="389.5" stroke="#222" stroke-width="0.9"/>
<text x="151.2" y="396.2" font-size="5.6" text-anchor="middle" fill="#333" font-weight="normal"  stroke="#333" stroke-width="0.12">50</text>
<line x1="168.2" y1="386.6" x2="168.2" y2="389.5" stroke="#222" stroke-width="0.9"/>
<text x="168.2" y="396.2" font-size="5.6" text-anchor="middle" fill="#333" font-weight="normal"  stroke="#333" stroke-width="0.12">60</text>
<line x1="185.2" y1="386.6" x2="185.2" y2="389.5" stroke="#222" stroke-width="0.9"/>
<text x="185.2" y="396.2" font-size="5.6" text-anchor="middle" fill="#333" font-weight="normal"  stroke="#333" stroke-width="0.12">70</text>
<text x="0" y="0" font-size="7.6" font-weight="normal" stroke="#222" stroke-width="0.3" fill="#222" text-anchor="middle" textLength="25.2" lengthAdjust="spacingAndGlyphs" transform="translate(13.4,339.4) rotate(-90)">Treatment</text>
<text x="136.6" y="408.8" font-size="7.7" text-anchor="middle" fill="#222" font-weight="normal" textLength="62.6" lengthAdjust="spacingAndGlyphs" stroke="#222" stroke-width="0.32">Days since CART infusion</text>
<rect x="167.2" y="294.8" width="2.7" height="8.9" fill="#1f7a78"/>
<rect x="154.2" y="307" width="2.6" height="8.8" fill="#1b6a4a"/>
<rect x="160.4" y="307" width="2.7" height="8.8" fill="#1b6a4a"/>
<rect x="149.7" y="319.8" width="27.4" height="8.7" fill="#d2505a"/>
<rect x="83.4" y="332" width="22.4" height="8.6" fill="#5e2070"/>
<rect x="119.8" y="332" width="21.0" height="8.6" fill="#5e2070"/>
<rect x="140" y="345.2" width="37.1" height="8.8" fill="#f39214"/>
<rect x="83.4" y="358" width="15.6" height="9.0" fill="#1d4d88"/>
<rect x="127.9" y="358" width="21.8" height="9.0" fill="#1d4d88"/>
<rect x="78.3" y="374.2" width="4.6" height="9.5" fill="#f2c22a"/>
<line x1="259" y1="297" x2="259" y2="386.6" stroke="#111" stroke-width="1.3"/>
<polygon points="256.7,298.7 261.3,298.7 259,293.6" fill="#111"/>
<line x1="258.4" y1="386" x2="377" y2="386" stroke="#111" stroke-width="1.3"/>
<polygon points="376.3,383.6 376.3,388.4 381.3,386" fill="#111"/>
<rect x="253.7" y="322.2" width="10.8" height="35.4" fill="#fff" stroke="#222" stroke-width="0.9"/>
<text x="0" y="0" font-size="7" font-weight="bold" fill="#222" text-anchor="middle" textLength="29.7" lengthAdjust="spacingAndGlyphs" transform="translate(261.3,339.75) rotate(-90)">BCMA CART</text>
<rect x="313.2" y="380.9" width="14.2" height="10.2" fill="#fff" stroke="#222" stroke-width="0.9"/>
<text x="320.4" y="388.8" font-size="7" text-anchor="middle" fill="#222" font-weight="bold" textLength="10" lengthAdjust="spacingAndGlyphs" >CD8</text>
<text x="255.9" y="311.3" font-size="5.85" text-anchor="end" fill="#222" font-weight="normal" textLength="43.4" lengthAdjust="spacingAndGlyphs"  stroke="#222" stroke-width="0.12">Peripheral Blood</text>
<text x="255.9" y="369.3" font-size="5.85" text-anchor="end" fill="#222" font-weight="normal" textLength="34.7" lengthAdjust="spacingAndGlyphs"  stroke="#222" stroke-width="0.12">Bone Marrow</text>
<rect x="268.1" y="296.2" width="26.6" height="25.5" fill="#fff" stroke="#666" stroke-width="0.6"/>
<text x="281.4" y="293.2" font-size="6.4" text-anchor="middle" fill="#222" font-weight="normal"  stroke="#222" stroke-width="0.12">D+14</text>
<line x1="268.40000000000003" y1="298.2" x2="268.40000000000003" y2="321.7" stroke="#222" stroke-width="1" stroke-dasharray="0.9,1.6"/>
<line x1="269.1" y1="322.7" x2="292.7" y2="322.7" stroke="#333" stroke-width="1" stroke-dasharray="2,0.7,1,0.7"/>
<rect x="270.5" y="298.2" width="18" height="14.7" fill="none" stroke="#9c9cc6" stroke-width="0.6"/>
<path d="M273.8,298.9 L280,297.6 L286.9,296.9 L287.9,298.2 L284.9,306.4 L283.9,313.6 L284.9,317.2 L279,318.2 L275.1,318.5 L272.8,316.8 L273.2,305.1 Z" fill="#0e0e24"/>
<ellipse cx="278.5" cy="308" rx="2.2" ry="6" fill="#2a2a4c"/>
<circle cx="283" cy="303.1" r="1.3" fill="#fff"/><circle cx="274.2" cy="315.5" r="1" fill="#fff"/>
<rect x="307.6" y="296.2" width="27.1" height="25.2" fill="#fff" stroke="#666" stroke-width="0.6"/>
<text x="321.1" y="293.2" font-size="6.4" text-anchor="middle" fill="#222" font-weight="normal"  stroke="#222" stroke-width="0.12">D+30</text>
<line x1="307.90000000000003" y1="298.2" x2="307.90000000000003" y2="321.4" stroke="#222" stroke-width="1" stroke-dasharray="0.9,1.6"/>
<line x1="308.6" y1="322.4" x2="332.7" y2="322.4" stroke="#333" stroke-width="1" stroke-dasharray="2,0.7,1,0.7"/>
<rect x="308.9" y="297.6" width="8.2" height="16" fill="none" stroke="#9c9cc6" stroke-width="0.6"/>
<rect x="317.4" y="297.6" width="10.5" height="16" fill="none" stroke="#9c9cc6" stroke-width="0.6"/>
<path d="M314.6,300.2 Q313.4,305 313.2,311" fill="none" stroke="#333" stroke-width="0.9"/>
<path d="M320,300.5 L323.6,300.5 Q324,305 321.6,310.3 Q319.6,306 320,300.5 Z" fill="#bbb" stroke="#222" stroke-width="0.9"/>
<line x1="321.2" y1="310.3" x2="321" y2="315.5" stroke="#555" stroke-width="0.6"/>
<ellipse cx="320.7" cy="317.2" rx="3.3" ry="1.9" fill="#1c1c1c"/><ellipse cx="320.9" cy="317.2" rx="1.2" ry="0.7" fill="#777"/>
<line x1="313" y1="317.2" x2="317.5" y2="317.2" stroke="#333" stroke-width="0.6"/><circle cx="313.3" cy="317.2" r="0.6" fill="#333"/>
<rect x="307.6" y="343.2" width="26.8" height="25.2" fill="#fff" stroke="#666" stroke-width="0.6"/>
<text x="321.0" y="340.2" font-size="6.4" text-anchor="middle" fill="#222" font-weight="normal"  stroke="#222" stroke-width="0.12">D+30</text>
<line x1="307.90000000000003" y1="345.2" x2="307.90000000000003" y2="368.4" stroke="#222" stroke-width="1" stroke-dasharray="0.9,1.6"/>
<line x1="308.6" y1="369.4" x2="332.4" y2="369.4" stroke="#333" stroke-width="1" stroke-dasharray="2,0.7,1,0.7"/>
<rect x="308.6" y="343.9" width="8.5" height="16.3" fill="none" stroke="#9c9cc6" stroke-width="0.6"/>
<rect x="317.4" y="343.9" width="9.8" height="16.3" fill="none" stroke="#9c9cc6" stroke-width="0.6"/>
<path d="M315.4,346.2 Q313.8,351 313.8,356.6" fill="none" stroke="#111" stroke-width="1.3"/>
<path d="M319.4,347 L323.6,347 Q324.6,352 321.6,358 Q318.6,353 319.4,347 Z" fill="#aaa" stroke="#111" stroke-width="1.1"/>
<ellipse cx="321.3" cy="363.5" rx="3.5" ry="2" fill="#151515"/><ellipse cx="321.5" cy="363.5" rx="1.3" ry="0.7" fill="#888"/>
<ellipse cx="314.5" cy="363.6" rx="1.2" ry="0.9" fill="#222"/><line x1="315" y1="363.5" x2="318" y2="363.5" stroke="#333" stroke-width="0.6"/>
<rect x="349.6" y="343.2" width="26.8" height="25.2" fill="#fff" stroke="#666" stroke-width="0.6"/>
<text x="363.0" y="340.2" font-size="6.4" text-anchor="middle" fill="#222" font-weight="normal"  stroke="#222" stroke-width="0.12">D+52</text>
<line x1="349.90000000000003" y1="345.2" x2="349.90000000000003" y2="368.4" stroke="#222" stroke-width="1" stroke-dasharray="0.9,1.6"/>
<line x1="350.6" y1="369.4" x2="374.4" y2="369.4" stroke="#333" stroke-width="1" stroke-dasharray="2,0.7,1,0.7"/>
<rect x="352.2" y="343.9" width="7.9" height="17.6" fill="none" stroke="#9c9cc6" stroke-width="0.6"/>
<rect x="361" y="343.9" width="9.5" height="17.6" fill="none" stroke="#9c9cc6" stroke-width="0.6"/>
<line x1="356" y1="348" x2="355.8" y2="358" stroke="#777" stroke-width="0.8"/>
<ellipse cx="365" cy="354" rx="2.4" ry="5" fill="#3a3a3a"/><ellipse cx="365.4" cy="354.5" rx="0.6" ry="2" fill="#ccc"/>
<circle cx="355.8" cy="364.2" r="0.9" fill="#888"/><circle cx="364.3" cy="364.2" r="1.5" fill="#222"/>
<line x1="413.3" y1="297" x2="413.3" y2="386.9" stroke="#111" stroke-width="1.3"/>
<polygon points="411,298.5 415.6,298.5 413.3,293.4" fill="#111"/>
<line x1="412.7" y1="386.3" x2="477" y2="386.3" stroke="#111" stroke-width="1.3"/>
<polygon points="476.4,383.9 476.4,388.7 481.4,386.3" fill="#111"/>
<rect x="407.8" y="330.8" width="11.1" height="17.8" fill="#fff" stroke="#222" stroke-width="0.9"/>
<text x="0" y="0" font-size="7" font-weight="bold" fill="#222" text-anchor="middle" textLength="12.5" lengthAdjust="spacingAndGlyphs" transform="translate(416.5,339.75) rotate(-90)">CD14</text>
<rect x="440.7" y="380.7" width="14.2" height="10.7" fill="#fff" stroke="#222" stroke-width="0.9"/>
<text x="447.9" y="388.8" font-size="7" text-anchor="middle" fill="#222" font-weight="bold" textLength="9.8" lengthAdjust="spacingAndGlyphs" >CD3</text>
<rect x="429.8" y="307.8" width="49" height="50" fill="#fff" stroke="#555" stroke-width="0.6"/>
<line x1="430.8" y1="309" x2="430.8" y2="357" stroke="#222" stroke-width="0.8" stroke-dasharray="1,1.4"/>
<line x1="431" y1="357.2" x2="446" y2="357.2" stroke="#222" stroke-width="0.9" stroke-dasharray="1.5,0.6"/>
<line x1="452" y1="357.2" x2="477" y2="357.2" stroke="#444" stroke-width="0.6" stroke-dasharray="1.2,1.5"/>
<rect x="432.3" y="310.3" width="14" height="24.1" fill="none" stroke="#3a3a96" stroke-width="0.7"/>
<rect x="433.1" y="338.1" width="13.2" height="18.2" fill="none" stroke="#3a3a96" stroke-width="0.7"/>
<circle cx="457.3" cy="346.3" r="7.2" fill="none" stroke="#3a3a96" stroke-width="0.7"/>
<ellipse cx="440" cy="335.5" rx="3" ry="17" fill="#888" opacity="0.5"/>
<path d="M439.5,318.8 Q441.8,326 441.6,334 Q441.4,336 441.8,340 Q442,347 440.2,351.3 Q438.4,347 438.4,340 Q438.6,336 438.3,333 Q438,326 439.5,318.8Z" fill="#0a0a0a"/>
<path d="M456,345 l1,2 l1.5,-1" fill="none" stroke="#777" stroke-width="0.4"/>
<text x="439.5" y="309.5" font-size="2.6" text-anchor="middle" fill="#3a3a96" font-weight="normal"  stroke="#3a3a96" stroke-width="0.12">CD14+ 92.4%</text>
<text x="439.5" y="337.3" font-size="2.6" text-anchor="middle" fill="#3a3a96" font-weight="normal"  stroke="#3a3a96" stroke-width="0.12">CD14- 7.2%</text>
<text x="457.5" y="337.3" font-size="3" text-anchor="middle" fill="#3a3a96" font-weight="normal"  stroke="#3a3a96" stroke-width="0.12">0.73%</text>
<clipPath id="c1"><rect x="47.8" y="448.4" width="123.5" height="74.6"/></clipPath>
<g clip-path="url(#c1)" filter="url(#soft)"><rect x="47.8" y="448.4" width="123.5" height="74.6" fill="#e0b6d8"/>
<path d="M60.3,449.2 L60.3,449.5 L60.4,449.7 L60.4,449.9 L60.5,450.2 L60.6,450.4 L60.8,450.6 L60.9,450.8 L61.1,451.0 L61.3,451.2 L61.5,451.3 L61.7,451.4 L66.8,454.0 L67.0,454.1 L67.2,454.2 L67.5,454.3 L67.7,454.3 L68.0,454.3 L68.2,454.3 L68.5,454.3 L68.7,454.2 L68.9,454.1 L69.2,454.0 L69.4,453.9 L69.6,453.7 L69.8,453.6 L69.9,453.4 L72.9,450.0 L73.0,449.8 L73.2,449.6 L73.3,449.3 L73.4,449.1 L73.4,448.8 L73.5,448.6 L73.5,448.3 L73.5,448.1 L73.4,447.8 L73.4,447.6 L73.3,447.3 L73.2,447.1 L73.1,446.9 L72.9,446.7 L72.7,446.5 L72.5,446.3 L72.3,446.1 L72.1,446.0 L71.9,445.9 L71.6,445.8 L71.4,445.8 L71.1,445.7 L70.9,445.7 L62.9,445.7 L62.6,445.7 L62.4,445.8 L62.1,445.8 L61.9,445.9 L61.6,446.0 L61.4,446.2 L61.2,446.3 L61.0,446.5 L60.8,446.7 L60.7,446.9 L60.6,447.1 L60.5,447.4 L60.4,447.6 L60.3,447.9 L60.3,448.1 L60.3,448.4Z" fill="#eee6f3"/>
<path d="M121.3,482.4 L121.6,482.1 L121.8,481.9 L122.0,481.7 L122.1,481.4 L122.2,481.1 L122.3,480.8 L122.4,480.5 L122.5,480.2 L122.5,479.9 L122.5,479.6 L122.4,479.3 L122.3,478.9 L122.2,478.7 L122.2,478.6 L122.1,478.3 L121.9,478.0 L121.7,477.8 L121.5,477.5 L121.3,477.3 L120.5,476.7 L120.2,476.5 L120.0,476.3 L119.7,476.2 L119.4,476.1 L119.0,476.0 L118.7,475.9 L111.8,475.3 L111.5,475.3 L111.2,475.3 L110.8,475.3 L110.5,475.4 L110.2,475.5 L109.9,475.7 L109.6,475.9 L109.4,476.1 L109.1,476.3 L108.9,476.5 L108.7,476.8 L105.8,481.4 L105.6,481.7 L105.5,482.0 L105.4,482.3 L105.4,482.6 L105.3,482.9 L105.3,483.2 L105.3,483.5 L105.4,483.8 L105.4,484.2 L105.5,484.4 L105.6,484.5 L105.7,484.8 L105.9,485.0 L106.0,485.3 L106.3,485.5 L106.5,485.7 L106.8,485.9 L107.0,486.1 L107.3,486.2 L107.6,486.3 L107.9,486.4 L108.2,486.5 L108.6,486.5 L115.2,486.6 L115.5,486.6 L115.9,486.5 L116.2,486.4 L116.5,486.3 L116.8,486.2 L117.1,486.0 L117.4,485.8Z" fill="#ece4f1"/>
<path d="M119.7,472.1 L119.7,472.4 L119.8,472.7 L119.9,472.9 L120.1,473.2 L120.2,473.4 L120.4,473.7 L120.6,473.9 L120.8,474.1 L121.1,474.2 L121.3,474.4 L121.6,474.5 L121.8,474.6 L122.1,474.7 L122.4,474.7 L122.7,474.7 L123.0,474.7 L123.3,474.6 L123.6,474.5 L123.8,474.4 L124.1,474.3 L124.4,474.2 L124.6,474.0 L124.8,473.8 L125.0,473.6 L130.3,466.8 L130.4,466.5 L130.6,466.3 L130.7,466.0 L130.8,465.7 L130.9,465.4 L130.9,465.2 L130.9,464.9 L130.9,464.6 L130.8,464.3 L130.7,464.0 L130.6,463.7 L130.5,463.5 L130.4,463.2 L130.2,463.0 L130.0,462.8 L129.7,462.6 L129.5,462.4 L129.3,462.3 L127.2,461.3 L127.0,461.2 L126.7,461.1 L126.4,461.0 L126.1,461.0 L125.8,461.0 L125.5,461.0 L125.2,461.1 L125.0,461.1 L124.7,461.2 L124.4,461.4 L120.5,463.7 L120.2,463.8 L120.0,464.0 L119.8,464.2 L119.6,464.4 L119.5,464.7 L119.3,464.9 L119.2,465.2 L119.1,465.5 L119.1,465.7 L119.0,466.0 L119.0,466.3 L119.0,466.6Z" fill="#eae2ef"/>
<path d="M49.3,513.2 L49.2,513.4 L49.1,513.6 L49.0,513.8 L49.0,514.0 L49.0,514.2 L49.0,514.4 L49.0,514.7 L49.0,514.9 L49.1,515.1 L49.1,515.3 L49.2,515.5 L49.4,515.7 L49.5,515.9 L49.6,516.1 L49.8,516.2 L50.0,516.3 L50.2,516.5 L50.4,516.6 L50.6,516.6 L50.8,516.7 L51.0,516.7 L57.3,517.3 L57.6,517.3 L57.8,517.3 L58.0,517.3 L58.2,517.2 L58.4,517.2 L58.6,517.1 L58.8,517.0 L59.0,516.8 L59.2,516.7 L59.3,516.5 L59.5,516.3 L59.6,516.2 L59.7,516.0 L59.8,515.8 L59.9,515.2 L60.0,514.9 L60.0,514.7 L60.1,514.5 L60.1,514.2 L60.0,514.0 L60.0,513.8 L59.9,513.6 L59.8,513.4 L59.7,513.2 L59.5,513.0 L59.4,512.8 L59.2,512.6 L55.0,509.3 L54.9,509.2 L54.7,509.1 L54.5,509.0 L54.2,508.9 L54.0,508.9 L53.8,508.8 L53.6,508.8 L53.4,508.8 L53.1,508.9 L52.9,508.9 L52.6,509.0 L52.4,509.1 L52.2,509.2 L52.0,509.3 L51.8,509.5 L51.6,509.6 L51.5,509.8 L51.3,510.0Z" fill="#ece4f1"/>
<path d="M63.3,509.5 L63.4,509.7 L63.4,509.9 L63.5,510.1 L63.6,510.3 L63.7,510.4 L63.8,510.6 L64.0,510.7 L64.1,510.8 L64.3,510.9 L64.5,511.0 L64.7,511.1 L64.8,511.2 L65.0,511.2 L65.2,511.2 L65.4,511.2 L67.5,511.1 L67.7,511.1 L67.9,511.1 L68.1,511.0 L68.3,510.9 L68.4,510.8 L68.6,510.7 L68.8,510.6 L68.9,510.5 L69.0,510.3 L69.1,510.1 L69.2,510.0 L69.3,509.8 L69.4,509.6 L69.4,509.4 L69.9,505.8 L70.0,505.6 L70.0,505.4 L69.9,505.2 L69.9,505.0 L69.8,504.8 L69.8,504.6 L69.7,504.4 L69.5,504.3 L69.4,504.1 L69.3,504.0 L69.1,503.9 L68.9,503.7 L66.7,502.5 L66.5,502.4 L66.4,502.4 L66.1,502.3 L65.9,502.3 L65.7,502.3 L65.5,502.3 L65.3,502.3 L65.1,502.4 L64.9,502.4 L64.7,502.5 L63.6,503.2 L63.4,503.3 L63.2,503.4 L63.1,503.6 L63.0,503.7 L62.8,503.9 L62.7,504.1 L62.7,504.3 L62.6,504.5 L62.6,504.7 L62.6,504.9 L62.6,505.1 L62.6,505.3Z" fill="#eae2ef"/>
<path d="M156.1,497.3 L156.2,497.6 L156.2,497.9 L156.3,498.1 L156.4,498.4 L156.5,498.6 L156.7,498.9 L156.9,499.1 L157.1,499.3 L157.3,499.4 L157.5,499.6 L157.8,499.7 L158.0,499.8 L158.3,499.9 L158.5,499.9 L158.8,500.0 L159.1,499.9 L159.4,499.9 L159.6,499.9 L163.7,498.8 L163.9,498.7 L164.2,498.6 L164.4,498.4 L164.6,498.3 L164.8,498.1 L165.0,497.9 L165.2,497.7 L165.3,497.5 L165.5,497.2 L165.6,497.0 L165.6,496.7 L165.7,496.5 L165.7,496.2 L165.7,495.9 L165.7,495.6 L165.6,495.4 L164.0,489.4 L163.9,489.1 L163.8,488.9 L163.7,488.6 L163.6,488.4 L163.4,488.2 L163.2,488.0 L163.0,487.9 L162.8,487.7 L162.5,487.6 L162.3,487.5 L162.0,487.4 L161.8,487.4 L161.5,487.3 L161.2,487.3 L161.0,487.4 L160.7,487.4 L160.4,487.5 L160.2,487.6 L157.4,488.9 L157.2,489.0 L156.9,489.1 L156.7,489.3 L156.5,489.5 L156.3,489.7 L156.2,489.9 L156.1,490.2 L156.0,490.4 L155.9,490.7 L155.8,491.0 L155.8,491.3 L155.8,491.5Z" fill="#eae2ef"/>
<path d="M54.5,500.6 L54.5,500.8 L54.5,500.9 L54.6,501.1 L54.6,501.3 L54.7,501.4 L54.8,501.6 L54.9,501.7 L55.0,501.9 L55.2,502.1 L55.4,502.3 L55.5,502.4 L55.7,502.4 L55.8,502.5 L56.0,502.6 L56.1,502.6 L56.3,502.7 L56.5,502.7 L56.7,502.7 L56.8,502.6 L57.8,502.4 L58.0,502.4 L58.2,502.3 L58.3,502.2 L58.5,502.2 L58.6,502.0 L58.7,501.9 L58.8,501.8 L58.9,501.6 L59.0,501.5 L59.1,501.3 L59.2,501.2 L59.2,501.0 L59.9,496.6 L59.9,496.4 L59.9,496.3 L59.9,496.1 L59.8,495.9 L59.8,495.7 L59.7,495.6 L59.6,495.4 L59.5,495.3 L59.4,495.2 L59.3,495.0 L59.2,494.9 L59.0,494.8 L58.9,494.8 L58.7,494.7 L58.5,494.6 L58.4,494.6 L58.2,494.6 L56.4,494.6 L56.3,494.6 L56.1,494.6 L55.9,494.6 L55.8,494.7 L55.6,494.7 L55.5,494.8 L55.3,494.9 L55.2,495.0 L55.1,495.1 L55.0,495.3 L54.9,495.4 L54.8,495.6 L54.7,495.7 L54.7,495.9 L54.7,496.1 L54.7,496.2Z" fill="#eee6f3"/>
<path d="M62.9,494.9 L62.7,494.9 L62.6,494.8 L62.4,494.8 L62.2,494.8 L62.0,494.8 L61.9,494.9 L61.7,494.9 L61.5,495.0 L61.4,495.1 L61.2,495.2 L61.1,495.3 L61.0,495.4 L60.8,495.5 L60.7,495.7 L60.7,495.8 L60.6,496.0 L60.5,496.1 L60.5,496.3 L59.8,501.0 L59.8,501.1 L59.8,501.3 L59.8,501.5 L59.8,501.7 L59.9,501.8 L59.9,502.0 L60.0,502.1 L60.1,502.3 L60.2,502.4 L60.4,502.5 L60.5,502.7 L60.6,502.8 L60.8,502.8 L61.2,503.0 L61.3,503.1 L61.5,503.1 L61.6,503.2 L61.8,503.2 L62.0,503.2 L62.2,503.2 L62.3,503.1 L62.5,503.1 L62.6,503.0 L62.8,502.9 L64.6,501.9 L64.8,501.8 L64.9,501.7 L65.0,501.6 L65.1,501.5 L65.2,501.3 L65.3,501.2 L65.4,501.0 L65.4,500.8 L65.5,500.7 L65.5,500.5 L65.7,497.3 L65.7,497.2 L65.7,497.0 L65.7,496.8 L65.6,496.7 L65.6,496.5 L65.5,496.3 L65.4,496.2 L65.3,496.1 L65.2,495.9 L65.0,495.8 L64.9,495.7 L64.7,495.6 L64.6,495.6Z" fill="#eae2ef"/>
<path d="M157.5,501.1 L157.1,501.2 L156.8,501.3 L156.4,501.5 L156.1,501.8 L155.8,502.0 L155.5,502.3 L155.2,502.6 L155.0,503.0 L154.8,503.3 L154.7,503.7 L154.6,504.1 L154.5,504.5 L154.5,504.9 L154.4,508.9 L154.4,509.3 L154.4,509.7 L154.5,510.1 L154.6,510.4 L154.7,510.8 L154.9,511.1 L155.1,511.4 L155.3,511.7 L155.5,512.0 L155.8,512.3 L156.1,512.5 L156.4,512.8 L156.8,513.0 L157.1,513.1 L157.5,513.2 L157.9,513.3 L158.3,513.4 L158.7,513.4 L159.1,513.4 L170.3,512.1 L170.7,512.0 L171.1,511.9 L171.5,511.8 L171.9,511.6 L172.2,511.4 L172.5,511.2 L172.8,510.9 L173.1,510.6 L173.3,510.3 L173.5,509.9 L173.7,509.6 L173.8,509.2 L173.9,508.8 L174.0,508.4 L174.0,508.0 L174.0,504.0 L174.0,503.6 L173.9,503.2 L173.8,502.9 L173.7,502.5 L173.5,502.1 L173.3,501.8 L173.1,501.5 L172.9,501.2 L172.6,500.9 L172.3,500.7 L171.9,500.5 L171.6,500.3 L171.2,500.1 L167.9,499.0 L167.5,498.9 L167.1,498.8 L166.7,498.8 L166.3,498.8 L165.9,498.8 L165.5,498.9Z" fill="#efe8f4"/>
<path d="M126.2,514.0 L125.9,513.9 L125.5,513.9 L125.2,514.0 L124.9,514.0 L124.5,514.1 L124.2,514.3 L123.9,514.4 L123.6,514.6 L123.3,514.8 L123.1,515.1 L122.9,515.4 L122.7,515.6 L122.5,516.0 L122.4,516.3 L122.3,516.6 L122.2,517.0 L121.6,521.8 L121.6,522.1 L121.6,522.4 L121.6,522.8 L121.7,523.1 L121.8,523.5 L121.9,523.8 L122.1,524.1 L122.3,524.4 L122.5,524.6 L122.8,524.9 L123.1,525.1 L123.4,525.3 L123.7,525.4 L124.0,525.5 L124.4,525.6 L124.7,525.7 L125.0,525.7 L134.1,525.7 L134.4,525.7 L134.7,525.6 L135.1,525.5 L135.4,525.4 L135.7,525.3 L136.0,525.1 L136.3,524.9 L136.5,524.7 L136.8,524.4 L137.0,524.1 L137.1,523.8 L137.3,523.5 L137.4,523.2 L137.5,522.9 L137.5,522.5 L137.6,522.2 L137.5,521.9 L137.2,518.4 L137.1,518.0 L137.0,517.7 L136.9,517.4 L136.8,517.1 L136.6,516.8 L136.4,516.5 L136.1,516.2 L135.9,516.0 L135.6,515.8 L135.3,515.6 L135.0,515.5 L134.6,515.4 L134.3,515.3Z" fill="#efe8f4"/>
<path d="M90.4,457.6 L90.1,457.5 L89.9,457.5 L89.6,457.5 L89.4,457.5 L89.1,457.6 L88.9,457.7 L88.7,457.8 L88.4,457.9 L88.2,458.0 L88.0,458.2 L87.8,458.4 L87.7,458.6 L87.5,458.8 L87.4,459.0 L87.3,459.3 L87.3,459.5 L87.2,459.8 L87.2,460.0 L87.2,460.3 L87.2,460.5 L87.3,460.8 L87.3,461.0 L90.0,468.7 L90.1,469.0 L90.2,469.2 L90.4,469.4 L90.5,469.6 L90.7,469.8 L90.9,470.0 L91.2,470.1 L91.4,470.3 L91.6,470.4 L91.9,470.4 L93.1,470.7 L93.4,470.8 L93.7,470.8 L93.9,470.8 L94.2,470.8 L94.4,470.7 L94.7,470.6 L94.9,470.5 L95.2,470.4 L95.4,470.2 L95.6,470.1 L95.8,469.9 L95.9,469.7 L96.1,469.4 L96.2,469.2 L96.3,469.0 L96.3,468.7 L96.4,468.4 L96.4,468.2 L96.4,467.9 L95.8,460.7 L95.8,460.4 L95.7,460.1 L95.6,459.9 L95.5,459.7 L95.4,459.4 L95.2,459.2 L95.1,459.0 L94.9,458.8 L94.7,458.7 L94.4,458.5 L94.2,458.4 L94.0,458.3 L93.7,458.3Z" fill="#eae2ef"/>
<path d="M109.9,487.1 L109.6,487.1 L109.4,487.2 L109.1,487.2 L108.8,487.3 L108.6,487.4 L108.4,487.5 L108.2,487.7 L108.0,487.9 L107.8,488.1 L107.6,488.3 L107.5,488.5 L107.3,488.7 L107.2,489.0 L107.2,489.2 L107.1,489.5 L107.1,489.8 L107.1,490.0 L107.1,490.3 L107.2,490.5 L108.3,494.8 L108.4,495.0 L108.5,495.3 L108.6,495.5 L108.7,495.8 L108.9,496.0 L109.1,496.2 L109.3,496.3 L109.5,496.5 L109.8,496.6 L114.0,498.6 L114.3,498.7 L114.5,498.7 L114.8,498.8 L115.1,498.8 L115.3,498.8 L115.6,498.8 L115.9,498.7 L116.1,498.6 L116.4,498.5 L116.6,498.4 L116.9,498.3 L117.1,498.1 L117.2,497.9 L117.4,497.7 L117.6,497.4 L117.7,497.2 L117.8,496.9 L117.9,496.7 L117.9,496.4 L117.9,496.1 L117.9,495.9 L117.9,495.6 L116.7,489.4 L116.7,489.1 L116.6,488.9 L116.5,488.6 L116.3,488.4 L116.2,488.2 L116.0,488.0 L115.8,487.8 L115.6,487.6 L115.4,487.5 L115.1,487.4 L114.9,487.3 L114.6,487.2 L114.3,487.2 L114.1,487.2Z" fill="#ece4f1"/>
<path d="M129.6,461.8 L130.0,462.0 L130.3,462.1 L130.7,462.1 L131.0,462.2 L131.4,462.2 L131.8,462.2 L132.1,462.1 L132.5,462.0 L132.8,461.9 L133.1,461.7 L133.5,461.5 L133.7,461.3 L134.0,461.1 L134.3,460.8 L134.5,460.5 L134.7,460.2 L138.4,452.9 L138.6,452.6 L138.7,452.2 L138.8,451.9 L138.8,451.5 L138.9,451.1 L138.8,450.7 L138.8,450.4 L138.4,448.6 L138.3,448.3 L138.2,448.0 L138.0,447.6 L137.8,447.3 L137.6,447.0 L137.3,446.8 L137.1,446.5 L136.8,446.3 L136.4,446.1 L136.1,446.0 L135.8,445.9 L135.4,445.8 L135.1,445.7 L134.7,445.7 L127.6,445.7 L127.2,445.7 L126.8,445.8 L126.5,445.9 L126.1,446.0 L125.8,446.2 L125.5,446.4 L125.2,446.6 L124.9,446.8 L124.6,447.1 L124.4,447.4 L124.2,447.8 L124.1,448.1 L123.9,448.5 L123.5,450.3 L123.4,450.6 L123.3,451.0 L123.3,451.4 L123.3,451.7 L123.4,452.1 L123.5,452.5 L125.5,458.5 L125.7,458.9 L125.8,459.2 L126.0,459.5 L126.3,459.8 L126.5,460.1 L126.8,460.3 L127.1,460.5 L127.4,460.7Z" fill="#ece4f1"/>
<path d="M77.1,485.1 L77.0,485.3 L76.9,485.6 L76.8,485.8 L76.8,486.1 L76.8,486.4 L76.8,486.7 L76.9,486.9 L76.9,487.2 L77.0,487.4 L77.1,487.7 L77.3,487.9 L77.5,488.1 L77.6,488.3 L77.8,488.5 L78.1,488.7 L78.3,488.8 L78.6,488.9 L78.8,489.0 L85.5,491.0 L85.8,491.1 L86.0,491.1 L86.3,491.1 L86.6,491.1 L86.8,491.1 L87.1,491.0 L87.3,491.0 L87.6,490.8 L87.6,490.8 L87.9,490.7 L88.1,490.5 L88.3,490.4 L88.5,490.2 L88.7,490.0 L88.8,489.7 L88.9,489.5 L89.1,489.2 L89.1,489.0 L89.2,488.7 L89.5,486.6 L89.5,486.3 L89.5,486.0 L89.5,485.8 L89.5,485.5 L89.4,485.2 L89.2,484.9 L89.1,484.7 L88.9,484.5 L88.8,484.2 L88.5,484.0 L83.6,479.9 L83.4,479.7 L83.2,479.5 L82.9,479.4 L82.6,479.3 L82.4,479.3 L82.1,479.2 L81.8,479.2 L81.5,479.2 L81.3,479.3 L81.0,479.3 L80.7,479.4 L80.5,479.5 L80.2,479.7 L80.0,479.9 L79.8,480.1 L79.6,480.3 L79.4,480.5 L79.3,480.7Z" fill="#efe8f4"/>
<path d="M60.0,516.8 L59.9,517.2 L59.9,517.5 L59.9,517.8 L59.9,518.2 L59.9,518.5 L60.0,518.8 L61.4,523.3 L61.5,523.6 L61.6,523.9 L61.8,524.2 L62.0,524.5 L62.2,524.7 L62.4,524.9 L62.7,525.1 L63.0,525.3 L63.3,525.4 L63.6,525.6 L63.9,525.6 L64.2,525.7 L64.5,525.7 L68.2,525.7 L68.6,525.7 L68.9,525.6 L69.2,525.6 L69.5,525.4 L69.8,525.3 L70.1,525.1 L70.4,524.9 L70.6,524.7 L70.8,524.5 L71.0,524.2 L71.2,523.9 L71.3,523.6 L71.4,523.3 L73.2,517.2 L73.3,516.9 L73.3,516.5 L73.3,516.2 L73.3,515.9 L73.2,515.5 L73.2,515.2 L73.0,514.9 L72.9,514.6 L72.7,514.3 L72.5,514.0 L72.2,513.8 L72.0,513.6 L70.3,512.3 L70.0,512.2 L69.7,512.0 L69.4,511.9 L69.1,511.8 L68.8,511.7 L68.5,511.7 L68.1,511.7 L64.5,511.9 L64.2,511.9 L63.9,512.0 L63.5,512.1 L63.2,512.2 L63.0,512.3 L62.7,512.5 L61.9,513.1 L61.6,513.3 L61.4,513.6 L61.2,513.8 L61.0,514.1 L60.9,514.4 L60.7,514.7Z" fill="#eee6f3"/>
<path d="M141.0,513.3 L140.6,513.4 L140.2,513.5 L139.8,513.7 L139.5,513.9 L139.2,514.1 L138.9,514.4 L138.6,514.7 L138.4,515.0 L138.2,515.4 L138.0,515.7 L137.9,516.1 L137.8,516.5 L137.7,516.9 L137.7,517.3 L137.7,517.7 L138.2,522.0 L138.2,522.4 L138.3,522.8 L138.4,523.2 L138.6,523.6 L138.8,523.9 L139.1,524.2 L139.3,524.5 L139.6,524.8 L139.9,525.0 L140.3,525.2 L140.7,525.4 L141.0,525.5 L141.4,525.6 L141.8,525.7 L142.2,525.7 L151.6,525.7 L152.0,525.7 L152.4,525.6 L152.8,525.5 L153.2,525.4 L153.6,525.2 L153.9,525.0 L154.2,524.7 L154.5,524.5 L154.8,524.2 L155.0,523.8 L155.2,523.5 L155.4,523.1 L155.5,522.7 L155.6,522.3 L155.7,521.9 L156.1,515.5 L156.1,515.2 L156.1,514.8 L156.0,514.4 L155.9,514.0 L155.8,513.6 L155.6,513.3 L155.4,512.9 L155.2,512.6 L154.9,512.3 L154.6,512.1 L154.3,511.8 L153.9,511.6 L153.6,511.5 L153.2,511.4 L152.8,511.3 L152.4,511.2 L152.1,511.2 L151.7,511.2 L151.3,511.3Z" fill="#efe8f4"/>
<path d="M134.2,514.7 L134.5,514.7 L134.8,514.7 L135.1,514.7 L135.4,514.6 L135.7,514.5 L136.0,514.4 L136.3,514.3 L136.5,514.1 L136.8,513.9 L137.0,513.7 L137.2,513.5 L137.4,513.2 L137.5,512.9 L137.6,512.6 L137.7,512.3 L137.8,512.0 L137.8,511.7 L137.8,511.4 L137.7,511.1 L137.1,506.9 L137.0,506.6 L136.9,506.3 L136.8,506.0 L136.6,505.8 L136.4,505.5 L136.2,505.3 L136.0,505.1 L135.7,504.9 L135.4,504.7 L135.2,504.6 L134.9,504.5 L129.3,502.9 L129.0,502.8 L128.7,502.7 L128.4,502.7 L128.1,502.8 L127.8,502.8 L127.5,502.9 L127.2,503.0 L127.0,503.1 L126.7,503.3 L126.5,503.5 L126.2,503.7 L126.0,503.9 L125.9,504.1 L125.7,504.4 L125.6,504.7 L125.5,504.9 L125.4,505.2 L124.5,509.9 L124.5,510.2 L124.5,510.5 L124.5,510.8 L124.5,511.1 L124.6,511.4 L124.7,511.7 L124.8,511.9 L125.0,512.2 L125.2,512.5 L125.4,512.7 L125.6,512.9 L125.9,513.1 L126.2,513.2 L126.4,513.3 L126.7,513.4 L127.0,513.5Z" fill="#ece4f1"/>
<path d="M110.2,452.4 L110.3,452.7 L110.4,452.9 L110.5,453.2 L110.7,453.4 L110.8,453.6 L111.0,453.8 L111.2,453.9 L111.5,454.1 L111.7,454.2 L111.9,454.3 L112.2,454.4 L112.5,454.4 L112.7,454.4 L113.0,454.4 L113.2,454.4 L113.5,454.3 L113.8,454.3 L121.2,451.6 L121.5,451.5 L121.7,451.4 L121.9,451.3 L122.1,451.1 L122.3,450.9 L122.5,450.7 L122.6,450.5 L122.8,450.3 L122.9,450.0 L123.0,449.8 L123.1,449.2 L123.2,448.9 L123.2,448.7 L123.2,448.4 L123.2,448.1 L123.2,447.9 L123.1,447.6 L123.0,447.4 L122.9,447.1 L122.7,446.9 L122.6,446.7 L122.4,446.5 L122.2,446.3 L122.0,446.2 L121.8,446.0 L121.5,445.9 L121.3,445.8 L121.0,445.8 L120.7,445.7 L120.5,445.7 L111.9,445.7 L111.6,445.7 L111.4,445.8 L111.1,445.8 L110.9,445.9 L110.6,446.0 L110.4,446.2 L110.2,446.3 L110.0,446.5 L109.8,446.7 L109.6,446.9 L109.5,447.1 L109.4,447.4 L109.3,447.6 L109.2,447.9 L109.2,448.2 L109.2,448.4 L109.2,448.7 L109.2,449.0 L109.3,449.2Z" fill="#ece4f1"/>
<path d="M149.8,472.2 L149.5,472.2 L149.3,472.3 L149.1,472.3 L148.8,472.4 L148.6,472.5 L148.4,472.6 L148.2,472.7 L148.0,472.9 L147.9,473.1 L147.7,473.2 L147.6,473.4 L147.5,473.7 L145.5,477.9 L145.4,478.1 L145.3,478.3 L145.3,478.6 L145.2,478.8 L145.2,479.0 L145.3,479.3 L145.3,479.5 L145.4,479.7 L145.5,480.0 L145.6,480.2 L146.6,481.9 L146.7,482.1 L146.8,482.3 L147.0,482.5 L147.2,482.7 L147.4,482.8 L147.6,482.9 L147.8,483.0 L148.1,483.1 L148.3,483.1 L148.5,483.2 L148.8,483.2 L149.0,483.2 L149.3,483.1 L149.5,483.1 L149.7,483.0 L149.9,482.9 L150.1,482.7 L150.3,482.6 L154.4,479.1 L154.5,478.9 L154.7,478.7 L154.8,478.5 L154.9,478.3 L155.0,478.1 L155.1,477.9 L155.2,477.7 L155.2,477.4 L155.2,477.2 L155.2,477.0 L154.9,474.5 L154.9,474.3 L154.8,474.0 L154.8,473.8 L154.7,473.6 L154.5,473.4 L154.4,473.2 L154.2,473.0 L154.1,472.8 L153.9,472.7 L153.7,472.6 L153.4,472.5 L153.2,472.4 L153.0,472.3 L152.8,472.3 L152.5,472.3Z" fill="#eee6f3"/>
<path d="M123.6,454.5 L123.4,454.2 L123.3,454.0 L123.2,453.7 L123.0,453.5 L122.8,453.3 L122.6,453.1 L122.4,453.0 L122.1,452.8 L121.9,452.7 L121.6,452.7 L121.3,452.6 L121.0,452.6 L120.8,452.6 L120.5,452.6 L120.2,452.6 L120.0,452.7 L114.1,454.8 L113.8,454.9 L113.6,455.0 L113.4,455.2 L113.2,455.3 L113.0,455.5 L112.8,455.7 L112.7,455.9 L112.5,456.2 L112.4,456.4 L112.3,456.7 L112.3,456.9 L112.2,457.2 L112.2,457.5 L112.2,457.7 L112.3,458.0 L112.3,458.3 L112.4,458.5 L113.7,461.6 L113.8,461.9 L114.0,462.1 L114.1,462.3 L114.3,462.5 L114.5,462.7 L114.7,462.9 L115.0,463.0 L115.2,463.1 L115.5,463.2 L117.3,463.8 L117.5,463.9 L117.8,463.9 L118.1,463.9 L118.4,463.9 L118.7,463.9 L119.0,463.8 L119.3,463.7 L119.5,463.6 L123.5,461.2 L123.7,461.1 L123.9,460.9 L124.1,460.7 L124.3,460.5 L124.4,460.3 L124.6,460.1 L124.7,459.8 L124.8,459.5 L124.8,459.3 L124.8,459.0 L124.9,458.7 L124.8,458.5 L124.8,458.2 L124.7,457.9Z" fill="#ece4f1"/>
<path d="M174.0,516.7 L174.0,516.3 L173.9,515.9 L173.8,515.5 L173.7,515.2 L173.5,514.8 L173.3,514.5 L173.1,514.2 L172.8,513.9 L172.6,513.6 L172.2,513.4 L171.9,513.2 L171.6,513.0 L171.2,512.9 L170.8,512.8 L170.4,512.8 L170.0,512.8 L169.7,512.8 L160.0,513.9 L159.7,513.9 L159.3,514.0 L158.9,514.2 L158.6,514.3 L158.3,514.5 L157.9,514.8 L157.7,515.0 L157.4,515.3 L157.2,515.7 L157.0,516.0 L156.8,516.3 L156.7,516.7 L156.6,517.1 L156.6,517.5 L156.3,521.5 L156.3,521.9 L156.3,522.3 L156.4,522.6 L156.5,523.0 L156.6,523.4 L156.8,523.7 L157.0,524.0 L157.2,524.3 L157.5,524.6 L157.7,524.8 L158.1,525.1 L158.4,525.3 L158.7,525.4 L159.1,525.5 L159.4,525.6 L159.8,525.7 L160.2,525.7 L170.1,525.7 L170.5,525.7 L170.9,525.6 L171.2,525.5 L171.6,525.4 L171.9,525.2 L172.3,525.0 L172.6,524.8 L172.9,524.6 L173.1,524.3 L173.3,524.0 L173.5,523.6 L173.7,523.3 L173.8,522.9 L173.9,522.6 L174.0,522.2 L174.0,521.8Z" fill="#eee6f3"/>
<path d="M66.8,460.2 L66.7,460.4 L66.7,460.6 L66.7,460.8 L66.7,461.0 L66.7,461.2 L66.7,461.4 L66.8,461.5 L66.9,461.7 L66.9,461.9 L67.1,462.0 L67.2,462.2 L67.3,462.3 L67.5,462.5 L67.6,462.6 L70.7,464.5 L70.9,464.6 L71.1,464.6 L71.3,464.7 L71.5,464.7 L71.7,464.8 L71.9,464.7 L72.1,464.7 L72.3,464.7 L72.5,464.6 L72.7,464.5 L72.9,464.4 L73.0,464.3 L74.5,463.1 L74.6,463.0 L74.8,462.8 L74.9,462.7 L75.0,462.5 L75.1,462.3 L75.2,462.1 L75.2,461.9 L75.2,461.7 L75.2,461.5 L75.2,461.3 L75.2,461.1 L75.2,460.9 L75.1,460.7 L75.0,460.6 L74.9,460.4 L74.8,460.2 L74.6,460.1 L71.0,456.6 L70.8,456.5 L70.6,456.4 L70.5,456.3 L70.3,456.2 L70.1,456.1 L69.9,456.1 L69.7,456.1 L69.5,456.1 L69.4,456.1 L69.2,456.1 L69.0,456.1 L68.8,456.2 L68.6,456.3 L68.4,456.4 L68.3,456.5 L68.1,456.6 L68.0,456.8 L67.9,456.9 L67.8,457.1 L67.7,457.3 L67.6,457.5Z" fill="#eee6f3"/>
<path d="M115.5,463.9 L115.3,463.8 L115.0,463.8 L114.8,463.8 L114.5,463.8 L114.3,463.8 L114.0,463.9 L113.8,463.9 L113.6,464.0 L113.3,464.2 L113.1,464.3 L112.9,464.5 L109.1,468.0 L108.9,468.2 L108.7,468.4 L108.6,468.7 L108.4,468.9 L108.3,469.2 L108.3,469.4 L108.2,469.7 L108.2,470.0 L108.2,470.2 L108.2,470.5 L108.3,470.8 L108.4,471.0 L109.2,473.0 L109.3,473.2 L109.5,473.5 L109.6,473.7 L109.8,473.9 L110.0,474.0 L110.2,474.2 L110.4,474.3 L110.7,474.4 L110.9,474.5 L111.2,474.6 L111.4,474.6 L116.2,475.1 L116.4,475.1 L116.7,475.1 L117.0,475.0 L117.2,475.0 L117.5,474.9 L117.7,474.8 L117.9,474.6 L118.2,474.5 L118.4,474.3 L118.5,474.1 L118.7,473.9 L118.8,473.6 L118.9,473.4 L119.0,473.2 L119.1,472.9 L119.1,472.6 L119.1,472.4 L119.1,472.1 L118.4,466.4 L118.4,466.2 L118.3,465.9 L118.2,465.7 L118.1,465.5 L118.0,465.3 L117.8,465.1 L117.6,464.9 L117.4,464.7 L117.2,464.5 L117.0,464.4 L116.8,464.3 L116.5,464.2Z" fill="#ece4f1"/>
<path d="M98.0,469.6 L97.7,469.7 L97.4,469.8 L97.1,469.9 L96.9,470.1 L96.6,470.3 L96.4,470.5 L96.2,470.7 L96.0,471.0 L95.8,471.2 L95.7,471.5 L95.6,471.8 L95.6,472.1 L95.5,472.4 L95.5,472.8 L95.5,473.1 L95.6,473.4 L96.7,477.9 L96.8,478.2 L96.9,478.5 L97.0,478.8 L97.2,479.0 L97.4,479.2 L97.6,479.5 L97.8,479.7 L98.0,479.8 L98.3,480.0 L98.6,480.1 L102.0,481.5 L102.3,481.6 L102.6,481.7 L102.9,481.7 L103.2,481.7 L103.5,481.7 L103.8,481.7 L104.1,481.6 L104.4,481.5 L104.7,481.3 L105.0,481.2 L105.2,481.0 L105.5,480.8 L105.7,480.5 L105.8,480.3 L108.4,476.1 L108.6,475.9 L108.7,475.6 L108.8,475.3 L108.9,475.0 L108.9,474.7 L108.9,474.4 L108.9,474.1 L108.9,473.8 L108.8,473.5 L108.7,473.2 L107.6,470.6 L107.4,470.3 L107.3,470.1 L107.1,469.8 L106.9,469.6 L106.7,469.4 L106.5,469.2 L106.2,469.1 L105.9,468.9 L105.4,468.7 L105.1,468.6 L104.8,468.5 L104.4,468.4 L104.1,468.4 L103.8,468.4 L103.5,468.5Z" fill="#eae2ef"/>
<path d="M99.2,448.3 L99.2,448.0 L99.1,447.8 L99.1,447.5 L99.0,447.3 L98.9,447.1 L98.7,446.8 L98.6,446.6 L98.4,446.5 L98.2,446.3 L98.0,446.1 L97.8,446.0 L97.6,445.9 L97.4,445.8 L97.1,445.7 L96.9,445.7 L96.6,445.7 L95.9,445.7 L95.6,445.7 L95.4,445.8 L95.1,445.8 L94.9,445.9 L94.6,446.0 L94.4,446.2 L94.2,446.3 L94.0,446.5 L93.9,446.7 L93.7,446.9 L93.6,447.1 L90.4,453.7 L90.3,453.9 L90.2,454.2 L90.1,454.4 L90.1,454.7 L90.1,454.9 L90.1,455.2 L90.2,455.4 L90.3,455.7 L90.4,455.9 L90.5,456.2 L90.6,456.4 L90.8,456.6 L91.0,456.7 L91.2,456.9 L91.4,457.0 L91.6,457.2 L91.9,457.2 L92.1,457.3 L95.0,457.9 L95.2,458.0 L95.5,458.0 L95.7,458.0 L96.0,457.9 L96.2,457.9 L96.5,457.8 L96.7,457.7 L97.8,457.2 L98.0,457.0 L98.2,456.9 L98.4,456.7 L98.6,456.5 L98.7,456.3 L98.9,456.1 L99.0,455.9 L99.1,455.6 L99.1,455.4 L99.2,455.1 L99.2,454.9Z" fill="#efe8f4"/>
<path d="M107.3,519.6 L107.1,519.9 L107.0,520.2 L106.9,520.6 L106.8,520.9 L106.8,521.2 L106.8,521.6 L106.8,521.9 L106.8,522.2 L107.0,523.0 L107.1,523.3 L107.2,523.7 L107.4,524.0 L107.6,524.2 L107.8,524.5 L108.0,524.7 L108.3,525.0 L108.5,525.1 L108.8,525.3 L109.1,525.4 L109.4,525.6 L109.7,525.6 L110.1,525.7 L110.4,525.7 L117.4,525.7 L117.8,525.7 L118.1,525.6 L118.4,525.6 L118.7,525.4 L119.0,525.3 L119.3,525.1 L119.6,524.9 L119.8,524.7 L120.1,524.5 L120.3,524.2 L120.4,523.9 L120.6,523.6 L120.7,523.3 L120.8,523.0 L120.9,522.7 L121.6,517.0 L121.6,516.7 L121.6,516.4 L121.6,516.0 L121.5,515.7 L121.4,515.4 L121.3,515.0 L121.1,514.8 L120.9,514.5 L120.7,514.2 L120.4,514.0 L120.2,513.8 L119.9,513.6 L119.6,513.4 L119.3,513.3 L115.2,511.9 L114.9,511.8 L114.6,511.8 L114.2,511.7 L113.9,511.7 L113.6,511.8 L113.2,511.8 L112.9,511.9 L112.6,512.0 L112.3,512.2 L112.0,512.4 L111.8,512.6 L111.5,512.8 L111.3,513.1 L111.1,513.4Z" fill="#ece4f1"/>
<path d="M80.1,490.1 L79.9,490.0 L79.6,490.0 L79.4,489.9 L79.1,490.0 L78.9,490.0 L78.6,490.1 L78.4,490.2 L78.2,490.3 L78.0,490.4 L77.8,490.6 L77.6,490.8 L77.4,491.0 L77.3,491.2 L77.1,491.4 L77.0,491.6 L77.0,491.9 L75.6,497.4 L75.5,497.7 L75.5,497.9 L75.5,498.2 L75.6,498.4 L75.6,498.7 L75.7,498.9 L75.8,499.2 L75.8,499.3 L76.0,499.5 L76.1,499.7 L76.3,499.9 L76.4,500.1 L76.6,500.2 L76.9,500.4 L77.1,500.5 L79.3,501.5 L79.5,501.6 L79.8,501.6 L80.0,501.7 L80.3,501.7 L80.5,501.7 L80.8,501.7 L81.0,501.6 L81.3,501.5 L81.5,501.4 L81.7,501.3 L81.9,501.2 L82.1,501.0 L82.3,500.8 L82.4,500.6 L82.5,500.4 L82.7,500.2 L85.1,494.5 L85.2,494.2 L85.2,494.0 L85.3,493.7 L85.3,493.5 L85.3,493.2 L85.2,493.0 L85.2,492.7 L85.1,492.5 L85.0,492.3 L84.9,492.1 L84.7,491.9 L84.5,491.7 L84.4,491.5 L84.2,491.4 L83.9,491.2 L83.7,491.1 L83.5,491.0Z" fill="#efe8f4"/>
<path d="M142.1,466.3 L142.4,466.3 L142.7,466.2 L143.1,466.2 L143.3,466.1 L143.6,465.9 L143.9,465.8 L144.1,465.6 L144.4,465.4 L144.6,465.2 L148.1,461.1 L148.3,460.9 L148.4,460.6 L148.6,460.3 L148.7,460.0 L148.8,459.7 L148.8,459.4 L148.9,459.1 L148.8,458.8 L148.8,458.5 L148.7,458.2 L148.6,457.9 L148.5,457.6 L148.3,457.3 L148.1,457.0 L147.9,456.8 L147.7,456.6 L147.4,456.4 L147.2,456.3 L142.3,453.7 L142.0,453.5 L141.8,453.4 L141.5,453.4 L141.1,453.3 L140.8,453.3 L140.5,453.3 L140.2,453.4 L139.9,453.4 L139.6,453.5 L139.3,453.7 L139.1,453.8 L138.8,454.0 L138.6,454.2 L138.4,454.5 L138.2,454.7 L138.0,455.0 L134.7,461.5 L134.5,461.7 L134.4,462.0 L134.4,462.3 L134.3,462.6 L134.3,462.9 L134.3,463.2 L134.4,463.6 L134.4,463.8 L134.5,464.1 L134.7,464.4 L134.8,464.7 L135.0,464.9 L135.2,465.2 L135.4,465.4 L135.6,465.5 L135.8,465.6 L136.1,465.8 L136.3,465.9 L136.6,466.0 L136.9,466.1 L137.2,466.2 L137.5,466.2Z" fill="#eee6f3"/>
<path d="M151.0,482.8 L150.8,483.0 L150.6,483.2 L150.5,483.4 L150.4,483.6 L150.3,483.8 L150.2,484.0 L150.1,484.3 L150.1,484.5 L150.1,484.8 L150.1,485.0 L150.1,485.3 L150.2,485.5 L150.3,485.7 L150.4,485.9 L150.5,486.2 L150.7,486.3 L150.8,486.5 L151.0,486.7 L151.2,486.8 L151.4,487.0 L154.3,488.5 L154.5,488.6 L154.8,488.7 L155.0,488.8 L155.3,488.8 L155.5,488.8 L155.8,488.8 L156.1,488.8 L156.3,488.7 L156.5,488.6 L161.1,486.5 L161.3,486.4 L161.5,486.2 L161.7,486.1 L161.9,485.9 L162.1,485.7 L162.2,485.5 L162.3,485.3 L162.4,485.1 L162.5,484.8 L162.5,484.6 L162.6,484.3 L162.6,484.1 L162.5,483.8 L162.5,483.6 L162.4,483.3 L162.3,483.1 L162.2,482.9 L162.0,482.7 L161.9,482.5 L161.7,482.3 L161.5,482.1 L161.3,482.0 L157.2,479.6 L157.0,479.5 L156.8,479.4 L156.6,479.4 L156.3,479.3 L156.1,479.3 L155.8,479.3 L155.6,479.3 L155.4,479.4 L155.1,479.4 L154.9,479.5 L154.7,479.6 L154.5,479.8 L154.3,479.9Z" fill="#eae2ef"/>
<path d="M62.0,452.2 L61.7,452.1 L61.5,452.1 L61.3,452.0 L61.0,452.0 L60.8,452.0 L60.5,452.0 L60.3,452.0 L60.1,452.1 L59.8,452.2 L59.6,452.3 L59.4,452.4 L59.2,452.5 L59.0,452.7 L58.8,452.9 L57.5,454.6 L57.3,454.8 L57.2,455.0 L57.1,455.3 L57.0,455.5 L56.9,455.8 L56.9,456.0 L56.9,456.3 L56.9,456.5 L57.4,460.3 L57.4,460.6 L57.5,460.8 L57.6,461.0 L57.7,461.3 L57.9,461.5 L58.1,461.7 L58.2,461.9 L58.4,462.0 L58.7,462.2 L58.9,462.3 L59.1,462.4 L60.9,463.0 L61.2,463.0 L61.5,463.1 L61.7,463.1 L62.0,463.1 L62.2,463.0 L62.5,463.0 L62.7,462.9 L64.6,462.1 L64.8,462.0 L65.0,461.9 L65.2,461.7 L65.4,461.6 L65.6,461.4 L65.7,461.2 L65.8,461.0 L65.9,460.8 L66.0,460.5 L67.1,457.3 L67.1,457.0 L67.2,456.8 L67.2,456.5 L67.2,456.2 L67.2,456.0 L67.1,455.7 L67.0,455.5 L66.9,455.3 L66.8,455.0 L66.6,454.8 L66.4,454.7 L66.2,454.5 L66.0,454.3 L65.8,454.2Z" fill="#eee6f3"/>
<path d="M97.0,500.6 L97.1,500.8 L97.2,501.1 L97.3,501.3 L97.5,501.6 L97.7,501.8 L97.9,502.0 L98.1,502.2 L98.3,502.3 L98.5,502.5 L98.8,502.6 L99.1,502.6 L99.3,502.7 L99.6,502.7 L99.9,502.7 L100.2,502.7 L100.5,502.6 L100.7,502.6 L101.0,502.4 L101.2,502.3 L101.5,502.2 L101.7,502.0 L106.8,497.3 L107.0,497.1 L107.1,496.9 L107.3,496.7 L107.4,496.4 L107.5,496.2 L107.6,495.9 L107.6,495.6 L107.7,495.3 L107.7,495.1 L107.6,494.8 L107.6,494.5 L106.9,491.7 L106.8,491.4 L106.7,491.1 L106.5,490.9 L106.4,490.7 L106.2,490.5 L106.0,490.3 L105.8,490.1 L105.6,489.9 L105.4,489.8 L105.1,489.7 L104.8,489.6 L104.6,489.6 L104.3,489.5 L104.0,489.5 L103.8,489.6 L103.5,489.6 L103.2,489.7 L103.0,489.8 L102.7,489.9 L102.5,490.0 L97.2,493.7 L97.0,493.9 L96.8,494.1 L96.6,494.3 L96.4,494.5 L96.3,494.8 L96.2,495.0 L96.1,495.3 L96.0,495.6 L96.0,495.9 L96.0,496.1 L96.0,496.4 L96.1,496.7Z" fill="#eae2ef"/>
<path d="M81.0,460.4 L80.8,460.6 L80.6,460.8 L80.5,461.0 L80.4,461.2 L80.3,461.5 L80.2,461.7 L80.1,462.0 L80.1,462.3 L80.1,462.5 L80.2,462.8 L81.5,470.4 L81.6,470.6 L81.7,470.9 L81.8,471.1 L81.9,471.3 L82.1,471.5 L82.2,471.7 L82.4,471.9 L82.6,472.1 L82.9,472.2 L83.1,472.3 L83.3,472.4 L83.6,472.5 L83.9,472.5 L84.1,472.5 L84.4,472.5 L84.6,472.5 L84.9,472.4 L85.1,472.3 L87.7,471.2 L87.9,471.1 L88.1,470.9 L88.3,470.8 L88.5,470.6 L88.7,470.4 L88.8,470.2 L88.9,469.9 L89.0,469.7 L89.1,469.5 L89.2,469.2 L89.2,469.0 L89.2,468.7 L89.2,468.4 L89.1,468.2 L89.1,467.9 L86.6,460.9 L86.5,460.6 L86.4,460.4 L86.3,460.2 L86.1,460.0 L85.9,459.8 L85.7,459.6 L85.5,459.5 L85.3,459.4 L85.0,459.3 L84.8,459.2 L84.5,459.1 L84.3,459.1 L84.0,459.1 L83.7,459.1 L83.5,459.2 L82.4,459.5 L82.2,459.6 L81.9,459.7 L81.7,459.8 L81.5,459.9 L81.3,460.1Z" fill="#efe8f4"/>
<path d="M59.7,448.5 L59.7,448.2 L59.6,447.9 L59.5,447.7 L59.4,447.4 L59.3,447.2 L59.2,446.9 L59.0,446.7 L58.8,446.5 L58.6,446.3 L58.4,446.2 L58.1,446.0 L57.9,445.9 L57.6,445.8 L57.4,445.8 L57.1,445.7 L56.8,445.7 L48.0,445.7 L47.7,445.7 L47.4,445.8 L47.1,445.8 L46.9,445.9 L46.6,446.0 L46.4,446.2 L46.2,446.4 L45.9,446.5 L45.8,446.8 L45.6,447.0 L45.4,447.2 L45.3,447.5 L45.2,447.7 L45.2,448.0 L45.1,448.3 L45.1,448.6 L45.1,450.3 L45.1,450.6 L45.2,450.9 L45.2,451.1 L45.3,451.4 L45.4,451.7 L45.6,451.9 L45.7,452.1 L45.9,452.3 L46.1,452.5 L46.4,452.7 L46.6,452.8 L46.9,453.0 L47.1,453.1 L47.4,453.1 L54.6,454.7 L54.9,454.7 L55.2,454.7 L55.5,454.7 L55.7,454.7 L56.0,454.6 L56.3,454.5 L56.5,454.4 L56.8,454.2 L57.0,454.1 L57.2,453.9 L57.4,453.7 L59.1,451.7 L59.2,451.4 L59.4,451.2 L59.5,450.9 L59.6,450.6 L59.7,450.3 L59.7,450.0 L59.7,449.7Z" fill="#eee6f3"/>
<path d="M151.4,456.4 L151.2,456.6 L151.1,456.8 L151.0,457.0 L150.9,457.2 L150.8,457.5 L150.8,457.7 L150.8,458.0 L150.8,458.2 L150.8,458.5 L150.8,458.7 L150.9,459.0 L151.0,459.2 L151.1,459.4 L151.3,459.6 L151.4,459.8 L151.6,460.0 L154.7,462.7 L154.9,462.9 L155.1,463.0 L155.3,463.1 L155.6,463.2 L155.8,463.3 L156.1,463.3 L156.3,463.3 L156.6,463.3 L156.9,463.3 L157.1,463.2 L157.4,463.1 L157.6,463.0 L162.3,460.5 L162.5,460.4 L162.7,460.2 L162.9,460.1 L163.0,459.9 L163.2,459.7 L163.3,459.5 L163.4,459.2 L163.5,459.0 L163.6,458.7 L163.6,458.5 L163.6,458.2 L163.6,458.0 L163.6,457.7 L163.5,457.5 L163.4,457.2 L163.3,457.0 L163.2,456.8 L163.0,456.6 L162.8,456.4 L162.7,456.2 L162.5,456.1 L162.2,456.0 L162.0,455.9 L156.2,453.5 L156.0,453.4 L155.7,453.4 L155.5,453.3 L155.3,453.3 L155.0,453.3 L154.8,453.4 L154.5,453.4 L154.3,453.5 L154.1,453.6 L153.9,453.7 L153.7,453.9 L153.5,454.0 L153.3,454.2Z" fill="#eee6f3"/>
<path d="M103.8,488.4 L104.1,488.2 L104.3,488.0 L104.5,487.8 L104.7,487.5 L104.8,487.3 L105.0,487.0 L105.1,486.7 L105.1,486.4 L105.2,486.1 L105.2,485.8 L105.2,485.5 L105.1,485.2 L105.1,484.9 L105.0,484.6 L104.8,484.3 L104.7,484.0 L104.5,483.8 L104.4,483.5 L104.1,483.3 L103.9,483.1 L103.7,482.9 L103.4,482.7 L103.1,482.6 L98.5,480.7 L98.2,480.6 L98.0,480.6 L97.7,480.5 L97.4,480.5 L97.1,480.5 L96.8,480.6 L96.5,480.6 L96.2,480.7 L95.9,480.9 L95.7,481.0 L95.4,481.2 L91.3,484.3 L91.1,484.5 L90.9,484.7 L90.7,485.0 L90.6,485.2 L90.4,485.5 L90.3,485.8 L90.2,486.1 L90.2,486.3 L89.9,488.3 L89.8,488.6 L89.8,488.9 L89.9,489.3 L89.9,489.6 L90.0,489.9 L90.1,490.2 L90.3,490.4 L90.5,490.7 L90.7,490.9 L90.9,491.2 L91.1,491.4 L93.4,493.0 L93.7,493.2 L94.0,493.3 L94.2,493.4 L94.5,493.5 L94.8,493.6 L95.1,493.6 L95.4,493.6 L95.7,493.6 L96.0,493.5 L96.3,493.4 L96.6,493.3 L96.8,493.2 L97.1,493.1Z" fill="#eae2ef"/>
<path d="M61.7,492.1 L61.7,492.3 L61.7,492.5 L61.7,492.7 L61.8,493.0 L61.9,493.2 L62.0,493.4 L62.1,493.6 L62.2,493.7 L62.4,493.9 L62.6,494.0 L62.7,494.2 L62.9,494.3 L63.1,494.4 L65.3,495.2 L65.5,495.2 L65.7,495.3 L65.9,495.3 L66.1,495.3 L66.3,495.3 L66.5,495.3 L66.7,495.2 L67.0,495.1 L67.1,495.1 L67.3,494.9 L67.5,494.8 L67.7,494.7 L67.8,494.5 L67.9,494.3 L68.0,494.1 L68.1,494.0 L68.2,493.8 L69.9,488.3 L70.0,488.1 L70.0,487.9 L70.0,487.7 L70.0,487.5 L70.0,487.3 L70.0,487.1 L69.9,486.9 L69.8,486.7 L69.7,486.5 L69.6,486.3 L69.4,486.1 L69.3,486.0 L69.1,485.8 L68.4,485.3 L68.2,485.2 L68.0,485.1 L67.8,485.0 L67.6,484.9 L67.4,484.9 L67.1,484.9 L66.9,484.9 L66.7,484.9 L66.5,485.0 L63.7,485.7 L63.5,485.8 L63.3,485.9 L63.1,486.0 L62.9,486.1 L62.8,486.3 L62.6,486.4 L62.5,486.6 L62.3,486.8 L62.2,487.0 L62.2,487.2 L62.1,487.5 L62.1,487.7Z" fill="#eae2ef"/>
<path d="M124.5,475.1 L124.3,475.4 L124.2,475.7 L124.1,475.9 L124.0,476.2 L123.9,476.5 L123.9,476.9 L123.9,477.2 L123.9,477.5 L123.9,477.8 L124.0,478.1 L124.1,478.4 L124.3,478.7 L124.5,478.9 L124.7,479.2 L124.9,479.4 L125.1,479.6 L125.4,479.8 L125.7,479.9 L126.0,480.0 L126.3,480.1 L126.6,480.2 L126.9,480.2 L131.6,480.4 L131.9,480.4 L132.2,480.4 L132.5,480.3 L132.9,480.2 L133.1,480.1 L133.4,479.9 L133.7,479.8 L133.9,479.5 L135.5,478.0 L135.7,477.8 L135.9,477.6 L136.0,477.3 L136.2,477.1 L136.3,476.8 L136.4,476.5 L136.4,476.2 L136.5,475.9 L136.5,475.6 L136.1,469.3 L136.1,468.9 L136.0,468.6 L136.0,468.4 L135.8,468.1 L135.7,467.8 L135.5,467.5 L135.3,467.3 L135.1,467.1 L134.9,466.9 L134.6,466.7 L134.4,466.6 L134.1,466.4 L133.8,466.4 L133.5,466.3 L133.2,466.3 L132.9,466.3 L132.6,466.3 L132.3,466.3 L132.0,466.4 L131.7,466.5 L131.4,466.7 L131.2,466.8 L130.9,467.0 L130.7,467.2 L130.5,467.5Z" fill="#ece4f1"/>
<path d="M76.3,488.0 L76.2,487.8 L76.0,487.7 L75.8,487.6 L75.7,487.4 L75.5,487.3 L75.3,487.3 L75.1,487.2 L74.9,487.2 L74.7,487.1 L72.6,487.1 L72.4,487.1 L72.2,487.1 L72.0,487.1 L71.8,487.2 L71.6,487.3 L71.4,487.4 L71.2,487.5 L71.1,487.7 L70.9,487.8 L70.8,488.0 L70.7,488.2 L70.6,488.4 L70.5,488.6 L69.1,493.1 L69.0,493.3 L69.0,493.5 L69.0,493.7 L69.0,493.9 L69.0,494.1 L69.0,494.3 L69.1,494.5 L69.2,494.7 L69.3,494.9 L69.4,495.0 L69.5,495.2 L69.7,495.3 L69.8,495.5 L70.0,495.6 L70.2,495.7 L72.5,496.8 L72.7,496.9 L72.9,496.9 L73.1,497.0 L73.3,497.0 L73.5,497.0 L73.7,497.0 L73.9,496.9 L74.1,496.9 L74.3,496.8 L74.5,496.7 L74.7,496.6 L74.8,496.4 L75.0,496.3 L75.1,496.1 L75.3,495.9 L75.4,495.8 L75.4,495.6 L75.5,495.3 L76.8,490.0 L76.9,489.8 L76.9,489.6 L76.9,489.4 L76.8,489.1 L76.8,488.9 L76.7,488.7 L76.7,488.5 L76.6,488.3 L76.4,488.2Z" fill="#eae2ef"/>
<path d="M158.4,471.0 L158.2,471.0 L157.9,471.0 L157.6,471.0 L157.4,471.1 L157.1,471.1 L156.9,471.3 L156.7,471.4 L156.5,471.5 L156.3,471.7 L156.1,471.9 L155.9,472.1 L155.8,472.3 L155.7,472.6 L155.6,472.8 L155.5,473.1 L155.5,473.3 L155.5,473.6 L155.5,473.9 L155.8,476.8 L155.8,477.1 L155.9,477.3 L156.0,477.6 L156.1,477.8 L156.2,478.0 L156.3,478.2 L156.5,478.4 L156.7,478.6 L156.9,478.7 L157.1,478.9 L162.6,482.1 L162.9,482.2 L163.1,482.3 L163.4,482.4 L163.6,482.4 L163.9,482.4 L164.1,482.4 L164.4,482.4 L164.6,482.4 L164.9,482.3 L165.1,482.2 L165.4,482.1 L165.6,481.9 L165.8,481.7 L165.9,481.6 L166.1,481.4 L166.2,481.1 L166.4,480.9 L166.5,480.7 L166.5,480.4 L166.6,480.2 L166.6,479.9 L166.6,479.7 L166.6,479.4 L166.5,479.2 L166.5,478.9 L164.4,473.2 L164.3,472.9 L164.1,472.7 L164.0,472.5 L163.8,472.3 L163.6,472.1 L163.4,471.9 L163.2,471.8 L163.0,471.6 L162.7,471.5 L162.5,471.5 L162.2,471.4Z" fill="#eee6f3"/>
<path d="M76.1,460.6 L76.2,460.8 L76.4,460.9 L76.6,461.0 L76.8,461.1 L77.0,461.2 L77.3,461.2 L77.5,461.2 L77.7,461.2 L77.9,461.2 L78.6,461.1 L78.8,461.1 L79.0,461.0 L79.2,460.9 L79.4,460.8 L79.6,460.7 L79.7,460.6 L79.9,460.4 L80.0,460.2 L80.1,460.1 L80.2,459.9 L80.3,459.7 L80.4,459.5 L80.4,459.3 L80.4,459.1 L80.4,458.8 L80.4,458.6 L80.4,458.4 L80.3,458.2 L80.2,458.0 L80.1,457.8 L80.0,457.7 L75.7,451.7 L75.5,451.6 L75.4,451.4 L75.2,451.3 L75.0,451.2 L74.8,451.1 L74.6,451.0 L74.4,450.9 L74.2,450.9 L74.0,450.9 L73.8,450.9 L73.6,450.9 L73.3,450.9 L73.1,451.0 L72.9,451.1 L72.7,451.2 L72.6,451.3 L72.4,451.5 L72.3,451.6 L71.1,453.0 L70.9,453.2 L70.8,453.4 L70.7,453.6 L70.6,453.8 L70.6,454.0 L70.5,454.2 L70.5,454.4 L70.5,454.7 L70.6,454.9 L70.6,455.1 L70.7,455.3 L70.8,455.5 L70.9,455.7 L71.1,455.9 L71.2,456.0Z" fill="#ece4f1"/>
<path d="M52.5,476.5 L52.8,476.4 L53.1,476.4 L53.3,476.3 L53.5,476.2 L53.8,476.0 L54.0,475.9 L54.2,475.7 L54.4,475.5 L54.5,475.3 L54.6,475.1 L54.8,474.9 L54.9,474.6 L54.9,474.4 L55.0,474.1 L55.0,473.8 L55.0,473.6 L55.0,473.3 L54.9,473.0 L53.5,467.7 L53.4,467.4 L53.3,467.2 L53.1,466.9 L53.0,466.7 L52.8,466.5 L52.6,466.3 L52.4,466.2 L52.1,466.0 L51.9,465.9 L51.6,465.8 L51.3,465.7 L51.1,465.7 L48.1,465.4 L47.8,465.4 L47.6,465.4 L47.3,465.4 L47.0,465.5 L46.8,465.6 L46.5,465.7 L46.3,465.9 L46.1,466.0 L45.9,466.2 L45.7,466.4 L45.6,466.6 L45.4,466.8 L45.3,467.1 L45.2,467.3 L45.2,467.6 L45.1,467.9 L45.1,468.1 L45.1,474.2 L45.1,474.5 L45.2,474.8 L45.2,475.0 L45.3,475.3 L45.4,475.5 L45.6,475.8 L45.7,476.0 L45.9,476.2 L46.1,476.3 L46.3,476.5 L46.6,476.6 L46.8,476.8 L47.1,476.9 L47.3,476.9 L47.6,477.0 L47.9,477.0 L48.1,477.0Z" fill="#eee6f3"/>
<path d="M70.2,485.9 L70.5,486.1 L70.7,486.2 L70.9,486.3 L71.2,486.3 L71.4,486.4 L71.7,486.4 L74.0,486.5 L74.2,486.5 L74.5,486.5 L74.7,486.4 L74.9,486.4 L75.2,486.3 L75.4,486.2 L75.6,486.0 L75.8,485.9 L76.0,485.7 L76.2,485.5 L76.3,485.3 L76.4,485.1 L78.8,480.3 L79.0,480.1 L79.0,479.8 L79.1,479.6 L79.1,479.3 L79.1,479.1 L79.1,478.8 L79.1,478.5 L79.0,478.3 L78.9,478.1 L78.8,477.8 L78.7,477.6 L78.5,477.4 L78.3,477.2 L78.1,477.0 L77.9,476.9 L77.7,476.8 L77.5,476.7 L77.2,476.6 L77.0,476.5 L76.7,476.5 L76.5,476.5 L76.2,476.5 L70.6,477.1 L70.3,477.2 L70.1,477.3 L69.8,477.3 L69.6,477.5 L69.4,477.6 L69.2,477.8 L69.0,477.9 L68.8,478.1 L68.7,478.3 L68.5,478.6 L68.4,478.8 L68.3,479.0 L68.3,479.3 L68.2,479.6 L68.0,482.7 L68.0,483.0 L68.0,483.3 L68.1,483.5 L68.1,483.8 L68.2,484.0 L68.4,484.3 L68.5,484.5 L68.7,484.7 L68.9,484.9 L69.1,485.1Z" fill="#efe8f4"/>
<path d="M98.2,513.2 L98.1,513.0 L98.0,512.8 L97.8,512.6 L97.7,512.4 L97.5,512.2 L97.3,512.0 L97.1,511.9 L96.9,511.7 L96.7,511.6 L96.5,511.5 L96.2,511.5 L96.0,511.4 L95.7,511.4 L95.5,511.4 L95.2,511.4 L95.0,511.5 L88.3,513.3 L88.0,513.4 L87.8,513.5 L87.5,513.6 L87.3,513.8 L87.1,513.9 L86.9,514.1 L86.8,514.4 L86.6,514.6 L86.3,515.3 L86.2,515.5 L86.1,515.7 L86.0,516.0 L86.0,516.2 L86.0,516.5 L86.0,516.7 L86.0,517.0 L86.1,517.2 L86.1,517.5 L87.2,520.2 L87.3,520.4 L87.4,520.6 L87.6,520.9 L87.7,521.0 L87.9,521.2 L88.1,521.4 L88.4,521.5 L88.6,521.6 L88.8,521.7 L89.1,521.8 L89.3,521.8 L89.6,521.9 L89.8,521.8 L90.1,521.8 L90.3,521.8 L90.6,521.7 L90.8,521.6 L91.1,521.4 L97.4,517.4 L97.6,517.3 L97.8,517.1 L98.0,516.9 L98.2,516.7 L98.3,516.5 L98.4,516.2 L98.5,516.0 L98.6,515.7 L98.6,515.5 L98.7,515.2 L98.6,514.9 L98.6,514.7 L98.5,514.4Z" fill="#ece4f1"/>
<path d="M99.8,454.5 L99.8,454.8 L99.8,455.1 L99.9,455.3 L100.0,455.6 L100.1,455.8 L100.3,456.1 L100.4,456.3 L100.6,456.5 L100.8,456.7 L101.1,456.8 L101.3,457.0 L101.6,457.1 L102.7,457.5 L102.9,457.6 L103.2,457.6 L103.5,457.7 L103.7,457.7 L104.0,457.6 L104.3,457.6 L104.5,457.5 L108.0,456.2 L108.3,456.1 L108.5,456.0 L108.7,455.8 L108.9,455.6 L109.1,455.4 L109.3,455.2 L109.4,455.0 L109.6,454.8 L109.7,454.5 L109.7,454.2 L109.8,454.0 L109.8,453.7 L109.8,453.4 L109.8,453.1 L109.7,452.9 L108.2,447.7 L108.1,447.4 L108.0,447.2 L107.9,446.9 L107.7,446.7 L107.5,446.5 L107.3,446.3 L107.1,446.2 L106.9,446.0 L106.6,445.9 L106.4,445.8 L106.1,445.8 L105.8,445.7 L105.6,445.7 L102.5,445.7 L102.3,445.7 L102.0,445.8 L101.7,445.8 L101.5,445.9 L101.2,446.0 L101.0,446.2 L100.8,446.3 L100.6,446.5 L100.4,446.7 L100.2,446.9 L100.1,447.1 L100.0,447.4 L99.9,447.6 L99.8,447.9 L99.8,448.2 L99.8,448.4Z" fill="#eae2ef"/>
<path d="M161.4,454.9 L161.6,455.0 L161.8,455.1 L162.1,455.1 L162.4,455.1 L162.6,455.1 L162.9,455.1 L163.1,455.0 L163.4,454.9 L163.6,454.8 L163.8,454.7 L164.0,454.6 L164.2,454.4 L164.4,454.2 L164.5,454.0 L164.7,453.8 L164.8,453.5 L166.6,449.4 L166.7,449.2 L166.8,448.9 L166.8,448.7 L166.8,448.4 L166.8,448.1 L166.8,447.9 L166.7,447.6 L166.6,447.4 L166.5,447.1 L166.4,446.9 L166.2,446.7 L166.1,446.5 L165.9,446.3 L165.7,446.2 L165.4,446.0 L165.2,445.9 L164.9,445.8 L164.7,445.8 L164.4,445.7 L164.2,445.7 L157.5,445.7 L157.3,445.7 L157.0,445.7 L156.8,445.8 L156.6,445.9 L156.3,446.0 L156.1,446.1 L155.9,446.3 L155.7,446.4 L155.5,446.6 L155.4,446.8 L155.2,447.1 L155.1,447.3 L155.0,447.5 L155.0,447.8 L154.9,448.0 L154.9,448.3 L154.8,450.4 L154.8,450.7 L154.8,450.9 L154.9,451.2 L155.0,451.5 L155.1,451.7 L155.2,452.0 L155.4,452.2 L155.6,452.4 L155.8,452.6 L156.0,452.7 L156.2,452.9 L156.5,453.0Z" fill="#ece4f1"/>
<path d="M127.3,480.8 L127.0,480.8 L126.8,480.9 L126.5,480.9 L126.2,481.0 L126.0,481.1 L125.7,481.2 L125.5,481.4 L125.3,481.6 L125.1,481.7 L124.9,482.0 L124.8,482.2 L124.6,482.4 L124.5,482.7 L124.4,482.9 L124.4,483.2 L124.3,483.5 L124.3,483.7 L124.4,484.0 L124.4,484.3 L124.5,484.5 L124.6,484.8 L127.3,491.3 L127.5,491.6 L127.6,491.8 L127.8,492.1 L128.0,492.3 L128.2,492.5 L128.4,492.6 L128.7,492.8 L129.0,492.9 L129.2,493.0 L129.5,493.0 L129.8,493.1 L130.1,493.1 L130.4,493.0 L130.6,493.0 L133.5,492.3 L133.8,492.2 L134.0,492.1 L134.3,491.9 L134.5,491.8 L134.7,491.6 L134.9,491.4 L135.1,491.2 L135.2,491.0 L135.4,490.8 L135.8,490.0 L135.9,489.7 L136.0,489.4 L136.0,489.2 L136.1,488.9 L136.1,488.6 L136.1,488.3 L136.0,488.0 L135.9,487.8 L135.8,487.5 L133.6,482.7 L133.5,482.4 L133.3,482.2 L133.1,482.0 L132.9,481.8 L132.7,481.6 L132.5,481.4 L132.2,481.3 L132.0,481.2 L131.7,481.1 L131.4,481.0 L131.1,481.0Z" fill="#efe8f4"/>
<path d="M93.6,520.6 L93.4,520.7 L93.1,520.9 L93.0,521.1 L92.8,521.3 L92.6,521.6 L92.5,521.8 L92.4,522.1 L92.3,522.3 L92.3,522.6 L92.3,522.9 L92.3,523.1 L92.3,523.4 L92.4,523.7 L92.5,524.0 L92.6,524.2 L92.7,524.4 L92.9,524.7 L93.1,524.9 L93.3,525.1 L93.5,525.2 L93.7,525.4 L94.0,525.5 L94.2,525.6 L94.5,525.6 L94.8,525.7 L95.1,525.7 L103.5,525.7 L103.8,525.7 L104.1,525.6 L104.4,525.6 L104.6,525.5 L104.9,525.4 L105.1,525.2 L105.3,525.0 L105.5,524.9 L105.7,524.6 L105.9,524.4 L106.0,524.2 L106.1,523.9 L106.2,523.7 L106.3,523.4 L106.3,523.1 L106.3,522.8 L106.3,522.6 L106.2,522.3 L106.2,522.1 L106.1,521.8 L106.0,521.6 L105.9,521.3 L105.8,521.1 L105.6,520.9 L105.4,520.7 L105.2,520.5 L105.0,520.4 L101.0,517.8 L100.8,517.7 L100.5,517.5 L100.3,517.5 L100.0,517.4 L99.8,517.4 L99.5,517.3 L99.2,517.4 L99.0,517.4 L98.7,517.5 L98.5,517.5 L98.2,517.6 L98.0,517.8Z" fill="#eee6f3"/>
<path d="M48.4,517.1 L48.1,517.0 L47.8,517.1 L47.5,517.1 L47.2,517.2 L46.9,517.3 L46.7,517.4 L46.4,517.5 L46.2,517.7 L46.0,517.9 L45.8,518.1 L45.6,518.4 L45.5,518.6 L45.3,518.9 L45.2,519.2 L45.2,519.4 L45.1,519.7 L45.1,520.0 L45.1,522.7 L45.1,523.0 L45.2,523.3 L45.2,523.6 L45.3,523.9 L45.5,524.1 L45.6,524.4 L45.8,524.6 L46.0,524.8 L46.2,525.0 L46.4,525.2 L46.7,525.3 L46.9,525.5 L47.2,525.6 L47.5,525.6 L47.8,525.7 L48.1,525.7 L57.4,525.7 L57.7,525.7 L58.0,525.6 L58.3,525.6 L58.6,525.5 L58.8,525.3 L59.1,525.2 L59.3,525.0 L59.5,524.8 L59.7,524.6 L59.9,524.4 L60.1,524.1 L60.2,523.9 L60.3,523.6 L60.3,523.3 L60.4,523.0 L60.4,522.7 L60.4,522.4 L60.4,522.1 L60.3,521.9 L59.7,520.0 L59.6,519.7 L59.5,519.5 L59.4,519.2 L59.2,519.0 L59.0,518.8 L58.8,518.6 L58.5,518.4 L58.3,518.3 L58.0,518.1 L57.7,518.0 L57.5,518.0 L57.2,517.9Z" fill="#eee6f3"/>
<path d="M69.1,495.8 L69.0,495.8 L68.8,495.7 L68.6,495.7 L68.4,495.6 L68.2,495.6 L68.0,495.7 L67.8,495.7 L67.6,495.7 L67.5,495.8 L67.3,495.9 L67.1,496.0 L67.0,496.1 L66.8,496.3 L66.7,496.4 L66.6,496.6 L66.5,496.7 L66.4,496.9 L66.4,497.1 L66.3,497.3 L66.3,497.5 L66.1,500.2 L66.1,500.4 L66.1,500.6 L66.2,500.8 L66.2,500.9 L66.3,501.1 L66.4,501.3 L66.5,501.4 L66.6,501.6 L66.7,501.7 L66.8,501.8 L67.0,502.0 L67.1,502.1 L69.4,503.3 L69.6,503.4 L69.7,503.5 L69.9,503.5 L70.1,503.6 L70.3,503.6 L70.5,503.6 L70.7,503.5 L70.9,503.5 L71.1,503.4 L71.3,503.3 L71.5,503.2 L74.0,501.4 L74.1,501.3 L74.3,501.2 L74.4,501.0 L74.5,500.9 L74.6,500.7 L74.7,500.5 L74.8,500.3 L74.8,500.1 L74.8,499.9 L74.8,499.7 L74.8,499.6 L74.8,499.4 L74.7,499.2 L74.6,499.0 L74.6,498.8 L74.4,498.7 L74.3,498.5 L74.2,498.4 L74.0,498.2 L73.9,498.1 L73.7,498.0Z" fill="#eae2ef"/>
<path d="M169.1,462.1 L169.4,462.3 L169.7,462.4 L169.9,462.5 L170.2,462.6 L170.5,462.7 L170.8,462.7 L171.1,462.7 L171.5,462.6 L171.8,462.6 L172.0,462.5 L172.3,462.4 L172.6,462.2 L172.8,462.0 L173.1,461.8 L173.3,461.6 L173.5,461.4 L173.6,461.1 L173.8,460.8 L173.9,460.5 L173.9,460.2 L174.0,459.9 L174.0,459.6 L174.0,448.8 L174.0,448.5 L173.9,448.2 L173.9,447.9 L173.8,447.6 L173.6,447.3 L173.5,447.1 L173.3,446.8 L173.1,446.6 L172.9,446.4 L172.6,446.2 L172.4,446.1 L172.1,445.9 L171.8,445.8 L171.5,445.8 L171.2,445.7 L170.9,445.7 L170.9,445.7 L170.6,445.7 L170.3,445.8 L170.0,445.8 L169.7,445.9 L169.5,446.0 L169.2,446.2 L169.0,446.4 L168.8,446.6 L168.6,446.8 L168.4,447.0 L168.2,447.3 L168.1,447.5 L164.7,455.2 L164.6,455.5 L164.5,455.8 L164.5,456.0 L164.5,456.3 L164.5,456.6 L164.5,456.9 L164.5,457.2 L164.6,457.4 L164.9,458.3 L165.0,458.6 L165.2,458.9 L165.3,459.1 L165.5,459.4 L165.8,459.6 L166.0,459.8Z" fill="#efe8f4"/>
<path d="M102.9,505.8 L102.6,505.7 L102.3,505.6 L102.0,505.6 L101.7,505.6 L101.4,505.6 L101.1,505.6 L100.8,505.7 L100.5,505.8 L100.2,505.9 L99.9,506.1 L99.7,506.3 L99.5,506.5 L99.3,506.7 L99.1,507.0 L98.9,507.2 L98.8,507.5 L98.7,507.8 L98.2,509.6 L98.1,509.9 L98.1,510.2 L98.1,510.5 L98.1,510.8 L98.1,511.1 L98.2,511.4 L99.4,515.2 L99.5,515.5 L99.7,515.8 L99.8,516.0 L100.0,516.3 L100.2,516.5 L100.4,516.7 L100.7,516.9 L103.5,518.7 L103.7,518.8 L104.0,519.0 L104.3,519.1 L104.6,519.1 L104.9,519.2 L105.2,519.2 L105.5,519.1 L105.8,519.1 L106.1,519.0 L106.4,518.9 L106.7,518.8 L106.9,518.6 L107.2,518.4 L107.4,518.2 L107.6,518.0 L107.7,517.7 L110.6,513.1 L110.8,512.8 L110.9,512.5 L111.0,512.2 L111.0,511.9 L111.1,511.6 L111.1,511.3 L111.0,511.0 L111.0,510.7 L110.9,510.4 L110.8,510.1 L110.6,509.8 L110.4,509.6 L110.2,509.3 L110.0,509.1 L109.8,508.9 L109.5,508.8 L109.2,508.6Z" fill="#eae2ef"/>
<path d="M126.1,497.5 L126.0,497.7 L125.8,498.0 L125.7,498.3 L125.7,498.5 L125.6,498.8 L125.6,499.1 L125.6,499.4 L125.7,499.6 L125.8,499.9 L125.9,500.2 L126.0,500.4 L126.1,500.6 L126.3,500.9 L126.5,501.1 L126.7,501.2 L126.9,501.4 L127.1,501.5 L127.4,501.7 L127.7,501.8 L134.9,503.8 L135.1,503.9 L135.4,504.0 L135.7,504.0 L135.9,503.9 L136.2,503.9 L136.5,503.8 L136.7,503.7 L137.0,503.6 L137.2,503.5 L137.5,503.3 L137.7,503.1 L137.8,502.9 L138.0,502.7 L138.7,501.6 L138.8,501.4 L138.9,501.1 L139.0,500.9 L139.1,500.6 L139.1,500.3 L139.1,500.1 L139.1,499.8 L139.1,499.5 L139.0,499.3 L138.9,499.0 L138.8,498.8 L138.7,498.6 L135.9,494.2 L135.8,494.0 L135.6,493.8 L135.4,493.6 L135.2,493.5 L135.0,493.3 L134.7,493.2 L134.5,493.1 L134.2,493.0 L134.0,493.0 L133.7,492.9 L133.4,493.0 L133.1,493.0 L132.9,493.0 L129.4,493.9 L129.1,494.0 L128.9,494.1 L128.6,494.2 L128.4,494.3 L128.2,494.5 L128.0,494.7 L127.9,494.9 L127.7,495.1Z" fill="#efe8f4"/>
<path d="M48.6,454.0 L48.3,454.0 L48.0,453.9 L47.7,453.9 L47.4,454.0 L47.2,454.1 L46.9,454.1 L46.6,454.3 L46.4,454.4 L46.2,454.6 L46.0,454.8 L45.8,455.0 L45.6,455.2 L45.4,455.5 L45.3,455.7 L45.2,456.0 L45.2,456.3 L45.1,456.5 L45.1,456.8 L45.1,461.9 L45.1,462.2 L45.2,462.5 L45.2,462.7 L45.3,463.0 L45.4,463.3 L45.6,463.5 L45.8,463.7 L45.9,463.9 L46.2,464.1 L46.4,464.3 L46.6,464.4 L46.9,464.6 L47.2,464.7 L47.4,464.7 L47.7,464.8 L51.9,465.2 L52.2,465.2 L52.5,465.2 L52.8,465.1 L53.0,465.0 L53.3,464.9 L53.6,464.8 L53.8,464.7 L54.0,464.5 L55.8,463.0 L56.0,462.8 L56.2,462.6 L56.4,462.4 L56.5,462.1 L56.6,461.8 L56.7,461.6 L56.8,461.3 L56.8,461.0 L56.8,460.7 L56.8,460.4 L56.4,457.6 L56.4,457.3 L56.3,457.1 L56.2,456.8 L56.1,456.6 L55.9,456.4 L55.8,456.1 L55.6,455.9 L55.4,455.8 L55.2,455.6 L54.9,455.5 L54.7,455.3 L54.4,455.2 L54.2,455.2Z" fill="#eee6f3"/>
<path d="M50.1,487.8 L50.4,487.8 L50.7,487.9 L51.0,487.9 L51.2,487.9 L51.5,487.8 L51.8,487.7 L52.0,487.6 L52.3,487.5 L52.5,487.4 L52.7,487.2 L55.8,484.5 L56.0,484.3 L56.2,484.1 L56.3,483.9 L56.4,483.7 L56.6,483.4 L56.6,483.2 L56.7,482.9 L56.7,482.6 L56.7,482.3 L56.7,482.1 L56.7,481.8 L56.0,479.1 L55.9,478.9 L55.8,478.6 L55.7,478.4 L55.6,478.2 L55.4,478.0 L55.2,477.8 L55.0,477.6 L54.8,477.5 L54.6,477.3 L54.3,477.2 L54.1,477.1 L53.8,477.1 L53.6,477.0 L53.3,477.0 L53.0,477.0 L47.6,477.6 L47.3,477.7 L47.0,477.7 L46.8,477.8 L46.5,477.9 L46.3,478.1 L46.1,478.2 L45.9,478.4 L45.7,478.6 L45.6,478.8 L45.4,479.1 L45.3,479.3 L45.2,479.6 L45.2,479.8 L45.1,480.1 L45.1,480.4 L45.1,484.3 L45.1,484.5 L45.2,484.8 L45.2,485.1 L45.3,485.3 L45.4,485.6 L45.6,485.8 L45.7,486.0 L45.9,486.2 L46.1,486.4 L46.4,486.6 L46.6,486.7 L46.8,486.8 L47.1,486.9Z" fill="#eee6f3"/>
<path d="M142.2,445.7 L141.9,445.7 L141.6,445.8 L141.3,445.8 L141.0,445.9 L140.7,446.1 L140.4,446.2 L140.2,446.4 L140.0,446.6 L139.8,446.9 L139.6,447.1 L139.4,447.4 L139.3,447.6 L139.2,447.9 L139.1,448.2 L139.1,448.5 L139.1,448.8 L139.1,449.1 L139.2,449.4 L139.3,450.2 L139.4,450.5 L139.5,450.7 L139.7,451.0 L139.8,451.3 L140.0,451.5 L140.2,451.7 L140.4,451.9 L140.6,452.1 L140.9,452.2 L147.8,455.9 L148.1,456.1 L148.4,456.2 L148.7,456.2 L149.0,456.3 L149.3,456.3 L149.5,456.3 L149.8,456.2 L150.1,456.2 L150.4,456.1 L150.7,456.0 L150.9,455.8 L151.2,455.7 L151.4,455.5 L151.6,455.3 L153.4,453.2 L153.6,452.9 L153.8,452.7 L153.9,452.4 L154.0,452.1 L154.1,451.9 L154.2,451.6 L154.2,451.3 L154.3,448.9 L154.3,448.6 L154.2,448.3 L154.2,448.0 L154.1,447.7 L153.9,447.4 L153.8,447.1 L153.6,446.9 L153.4,446.6 L153.2,446.4 L152.9,446.2 L152.7,446.1 L152.4,445.9 L152.1,445.8 L151.8,445.8 L151.5,445.7 L151.2,445.7Z" fill="#eee6f3"/>
<path d="M113.1,507.2 L113.0,507.5 L113.0,507.8 L112.9,508.1 L112.9,508.4 L113.0,508.7 L113.0,509.0 L113.1,509.3 L113.3,509.6 L113.4,509.9 L113.6,510.1 L113.8,510.4 L114.0,510.6 L114.2,510.8 L114.5,511.0 L114.8,511.1 L115.1,511.2 L119.7,512.8 L120.0,512.9 L120.3,512.9 L120.6,513.0 L120.9,513.0 L121.2,512.9 L121.5,512.9 L121.8,512.7 L122.1,512.6 L122.4,512.5 L122.7,512.3 L122.9,512.1 L123.1,511.8 L123.3,511.6 L123.5,511.3 L123.6,511.0 L123.7,510.7 L123.8,510.4 L125.3,502.9 L125.3,502.6 L125.3,502.3 L125.3,502.0 L125.2,501.6 L125.2,501.3 L125.1,501.1 L124.9,500.8 L124.8,500.5 L124.6,500.3 L124.4,500.0 L124.1,499.8 L123.9,499.6 L123.6,499.5 L123.3,499.3 L123.0,499.2 L122.7,499.2 L119.7,498.6 L119.4,498.6 L119.0,498.6 L118.7,498.6 L118.4,498.6 L118.1,498.7 L117.8,498.9 L116.9,499.2 L116.6,499.4 L116.4,499.6 L116.1,499.8 L115.9,500.0 L115.7,500.2 L115.6,500.5 L115.4,500.8 L115.3,501.0Z" fill="#ece4f1"/>
<path d="M83.5,499.7 L83.4,499.9 L83.4,500.2 L83.3,500.5 L83.3,500.8 L83.3,501.1 L83.3,501.3 L83.4,501.6 L83.5,501.9 L83.6,502.2 L83.8,502.4 L83.9,502.6 L84.1,502.8 L84.3,503.0 L84.6,503.2 L84.8,503.4 L85.0,503.5 L85.3,503.6 L85.5,503.7 L85.8,503.8 L86.1,503.9 L86.4,503.9 L86.7,503.9 L87.0,503.8 L93.7,502.5 L94.0,502.4 L94.3,502.3 L94.5,502.2 L94.8,502.0 L95.0,501.8 L95.2,501.6 L95.4,501.4 L95.6,501.2 L95.8,500.9 L95.9,500.6 L96.0,500.3 L96.0,500.1 L96.1,499.8 L96.1,499.5 L96.0,499.2 L96.0,498.9 L95.2,495.9 L95.2,495.6 L95.0,495.4 L94.9,495.1 L94.7,494.8 L94.5,494.6 L94.3,494.4 L94.1,494.2 L90.7,491.8 L90.5,491.7 L90.2,491.5 L90.0,491.4 L89.7,491.3 L89.4,491.3 L89.1,491.3 L88.8,491.3 L88.5,491.3 L88.2,491.4 L88.0,491.5 L87.7,491.6 L87.4,491.7 L87.2,491.9 L87.0,492.1 L86.8,492.3 L86.6,492.5 L86.5,492.8 L86.3,493.1Z" fill="#eae2ef"/>
<path d="M98.6,506.0 L98.6,505.8 L98.7,505.5 L98.7,505.2 L98.7,505.0 L98.6,504.7 L98.6,504.5 L98.5,504.2 L98.4,504.0 L98.2,503.8 L98.1,503.6 L97.9,503.4 L97.7,503.2 L97.5,503.1 L97.3,503.0 L97.0,502.8 L96.8,502.8 L96.6,502.7 L96.3,502.7 L96.0,502.7 L95.8,502.7 L95.5,502.7 L88.5,504.1 L88.2,504.2 L88.0,504.3 L87.7,504.4 L87.5,504.5 L87.3,504.7 L87.1,504.9 L86.9,505.1 L86.8,505.3 L86.6,505.5 L86.5,505.8 L86.5,506.0 L86.4,506.3 L86.4,506.5 L86.4,506.8 L86.4,507.1 L86.8,510.0 L86.8,510.3 L86.9,510.5 L87.0,510.7 L87.1,511.0 L87.3,511.2 L87.5,511.4 L87.6,511.6 L87.8,511.7 L88.1,511.9 L88.3,512.0 L88.5,512.1 L88.8,512.2 L89.0,512.2 L89.3,512.3 L89.6,512.3 L89.8,512.2 L90.1,512.2 L95.9,510.6 L96.2,510.5 L96.4,510.4 L96.7,510.3 L96.9,510.1 L97.1,509.9 L97.3,509.8 L97.4,509.5 L97.6,509.3 L97.7,509.1 L97.8,508.8Z" fill="#ece4f1"/>
<path d="M59.5,512.1 L59.6,512.2 L59.8,512.3 L60.0,512.4 L60.2,512.5 L60.4,512.5 L60.6,512.5 L60.8,512.6 L61.0,512.5 L61.2,512.5 L61.4,512.5 L61.6,512.4 L61.7,512.3 L61.9,512.2 L62.1,512.1 L62.2,512.0 L62.4,511.8 L62.5,511.6 L62.6,511.5 L62.7,511.3 L62.8,511.1 L62.8,510.9 L62.8,510.7 L62.8,510.5 L62.8,510.3 L62.8,510.1 L61.9,505.0 L61.9,504.8 L61.8,504.6 L61.7,504.4 L61.6,504.3 L61.5,504.1 L61.4,504.0 L61.3,503.8 L61.1,503.7 L60.9,503.6 L60.8,503.5 L59.9,503.1 L59.7,503.0 L59.5,502.9 L59.3,502.9 L59.1,502.9 L58.9,502.9 L58.7,502.9 L58.6,502.9 L57.2,503.2 L57.0,503.2 L56.8,503.3 L56.7,503.4 L56.5,503.5 L56.3,503.6 L56.2,503.7 L56.0,503.9 L55.9,504.0 L55.8,504.2 L55.7,504.4 L55.7,504.6 L54.9,506.8 L54.9,507.0 L54.9,507.2 L54.8,507.4 L54.8,507.6 L54.9,507.8 L54.9,508.0 L55.0,508.2 L55.1,508.4 L55.2,508.6 L55.3,508.7 L55.5,508.9 L55.6,509.0Z" fill="#eae2ef"/>
<path d="M63.8,470.4 L63.9,470.6 L64.0,470.8 L64.0,471.0 L64.2,471.2 L64.3,471.3 L64.4,471.5 L64.6,471.6 L64.8,471.7 L64.9,471.8 L65.1,471.9 L65.3,472.0 L65.5,472.0 L65.7,472.1 L65.9,472.1 L66.1,472.1 L66.3,472.0 L66.5,472.0 L66.7,471.9 L66.9,471.8 L67.1,471.7 L67.3,471.6 L67.4,471.5 L70.7,468.3 L70.8,468.1 L70.9,467.9 L71.1,467.8 L71.2,467.6 L71.2,467.4 L71.3,467.1 L71.3,466.9 L71.3,466.7 L71.3,466.5 L71.3,466.3 L71.2,466.1 L71.1,465.9 L71.0,465.7 L70.9,465.5 L70.8,465.3 L70.6,465.2 L70.5,465.0 L70.3,464.9 L66.8,462.8 L66.6,462.7 L66.5,462.6 L66.3,462.5 L66.1,462.5 L65.9,462.5 L65.7,462.5 L65.5,462.5 L65.2,462.5 L65.0,462.6 L64.9,462.6 L63.9,463.0 L63.7,463.1 L63.5,463.3 L63.3,463.4 L63.2,463.5 L63.0,463.7 L62.9,463.9 L62.8,464.1 L62.7,464.3 L62.7,464.5 L62.6,464.7 L62.6,464.9 L62.6,465.1 L62.6,465.3 L62.6,465.5Z" fill="#eee6f3"/>
<path d="M49.0,501.5 L48.8,501.5 L48.7,501.6 L48.5,501.6 L48.3,501.6 L48.1,501.7 L48.0,501.8 L47.8,501.9 L47.7,502.0 L47.6,502.1 L47.5,502.3 L47.3,502.4 L47.3,502.6 L47.2,502.8 L47.1,502.9 L47.1,503.1 L47.1,503.3 L47.1,503.5 L47.1,503.7 L47.1,503.8 L47.2,504.0 L47.2,504.2 L47.3,504.3 L47.4,504.5 L47.5,504.6 L47.6,504.8 L50.9,507.9 L51.0,508.0 L51.2,508.1 L51.3,508.2 L51.5,508.3 L51.7,508.4 L51.8,508.4 L52.0,508.4 L52.2,508.4 L52.4,508.4 L52.6,508.4 L52.7,508.3 L53.0,508.3 L53.2,508.2 L53.3,508.1 L53.5,508.0 L53.6,507.9 L53.7,507.8 L53.9,507.7 L54.0,507.5 L54.1,507.4 L54.1,507.2 L54.2,507.1 L55.1,504.3 L55.2,504.1 L55.2,503.9 L55.2,503.8 L55.2,503.6 L55.2,503.4 L55.1,503.2 L55.1,503.0 L55.0,502.9 L54.9,502.7 L54.8,502.5 L54.7,502.4 L54.6,502.3 L54.4,502.2 L54.3,502.1 L54.1,502.0 L54.0,501.9 L53.8,501.8 L53.6,501.8 L53.5,501.7 L53.3,501.7Z" fill="#eae2ef"/>
<path d="M155.8,465.5 L155.7,465.2 L155.7,465.0 L155.6,464.7 L155.5,464.5 L155.4,464.3 L155.2,464.1 L155.1,463.9 L154.9,463.7 L152.2,461.3 L152.0,461.2 L151.8,461.0 L151.6,460.9 L151.3,460.8 L151.1,460.7 L150.8,460.7 L150.6,460.7 L150.3,460.7 L150.0,460.7 L149.8,460.8 L149.5,460.8 L149.3,460.9 L149.1,461.1 L148.9,461.2 L148.7,461.4 L148.5,461.6 L145.6,465.0 L145.4,465.2 L145.3,465.4 L145.2,465.6 L145.1,465.9 L145.0,466.1 L144.9,466.4 L144.9,466.6 L144.9,466.9 L145.0,467.1 L145.0,467.4 L145.1,467.6 L145.2,467.9 L145.4,468.1 L145.5,468.3 L147.4,470.6 L147.5,470.8 L147.7,471.0 L147.9,471.2 L148.1,471.3 L148.4,471.4 L148.6,471.5 L148.9,471.6 L149.1,471.6 L149.4,471.6 L153.4,471.7 L153.6,471.7 L153.9,471.6 L154.2,471.6 L154.4,471.5 L154.6,471.4 L154.9,471.3 L155.1,471.1 L155.3,470.9 L155.4,470.8 L155.6,470.5 L155.7,470.3 L155.8,470.1 L155.9,469.9 L156.0,469.6 L156.0,469.3 L156.1,469.1 L156.1,468.8Z" fill="#efe8f4"/>
<path d="M105.7,457.7 L105.5,457.8 L105.2,457.9 L105.0,458.1 L104.9,458.2 L104.7,458.4 L104.5,458.6 L104.4,458.8 L104.3,459.0 L104.2,459.3 L104.1,459.5 L104.1,459.7 L104.1,460.0 L104.1,460.2 L104.6,465.9 L104.6,466.2 L104.7,466.4 L104.8,466.6 L104.9,466.8 L105.0,467.1 L105.1,467.2 L105.3,467.4 L105.5,467.6 L105.6,467.7 L105.8,467.9 L106.1,468.0 L106.3,468.1 L106.5,468.1 L106.7,468.2 L107.0,468.2 L107.2,468.2 L107.5,468.1 L107.7,468.1 L107.9,468.0 L108.1,467.9 L108.3,467.8 L108.5,467.7 L108.7,467.5 L112.4,464.2 L112.5,464.0 L112.7,463.8 L112.8,463.6 L112.9,463.4 L113.0,463.1 L113.1,462.9 L113.1,462.7 L113.2,462.4 L113.2,462.2 L113.1,461.9 L113.1,461.7 L113.0,461.4 L111.6,458.1 L111.5,457.8 L111.4,457.6 L111.2,457.4 L111.1,457.3 L110.9,457.1 L110.7,457.0 L110.5,456.8 L110.3,456.7 L110.1,456.7 L109.9,456.6 L109.6,456.6 L109.4,456.5 L109.2,456.5 L108.9,456.6 L108.7,456.6 L108.5,456.7Z" fill="#eee6f3"/>
<path d="M58.3,475.5 L58.1,475.6 L57.8,475.7 L57.6,475.9 L57.4,476.0 L57.2,476.2 L57.0,476.4 L56.9,476.7 L56.7,476.9 L56.6,477.1 L56.5,477.4 L56.5,477.7 L56.5,477.9 L56.5,478.2 L56.5,478.5 L56.5,478.8 L57.3,482.1 L57.4,482.4 L57.5,482.6 L57.6,482.8 L57.8,483.1 L57.9,483.3 L58.1,483.5 L58.3,483.6 L58.5,483.8 L58.8,483.9 L61.0,485.1 L61.3,485.2 L61.5,485.3 L61.7,485.3 L62.0,485.4 L62.2,485.4 L62.5,485.4 L62.8,485.3 L63.0,485.3 L65.4,484.6 L65.7,484.5 L65.9,484.4 L66.1,484.3 L66.4,484.2 L66.6,484.0 L66.7,483.8 L66.9,483.6 L67.1,483.4 L67.2,483.2 L67.3,482.9 L67.4,482.7 L67.4,482.4 L67.4,482.2 L67.7,478.2 L67.8,478.0 L67.7,477.7 L67.7,477.4 L67.6,477.1 L67.5,476.9 L67.4,476.6 L67.2,476.4 L66.1,474.9 L65.9,474.7 L65.8,474.5 L65.5,474.4 L65.3,474.2 L65.1,474.1 L64.9,474.0 L64.6,473.9 L64.3,473.8 L64.1,473.8 L63.8,473.8 L63.6,473.8 L63.3,473.9 L63.0,473.9Z" fill="#ece4f1"/>
<path d="M144.6,487.2 L144.9,487.2 L145.1,487.1 L145.4,487.0 L145.6,486.9 L145.8,486.7 L146.0,486.6 L146.2,486.4 L146.4,486.2 L146.5,485.9 L146.7,485.7 L146.8,485.5 L146.8,485.2 L146.9,485.0 L146.9,484.7 L146.9,484.4 L146.9,484.2 L146.9,483.9 L146.8,483.7 L146.7,483.4 L146.6,483.2 L145.0,480.4 L144.8,480.1 L144.7,479.9 L144.5,479.7 L144.2,479.5 L144.0,479.4 L143.8,479.2 L143.5,479.1 L143.2,479.0 L138.4,477.8 L138.1,477.8 L137.8,477.8 L137.6,477.8 L137.3,477.8 L137.0,477.9 L136.8,477.9 L136.5,478.1 L136.3,478.2 L136.0,478.4 L135.8,478.5 L134.8,479.5 L134.6,479.7 L134.5,479.9 L134.3,480.1 L134.2,480.4 L134.1,480.6 L134.1,480.9 L134.0,481.1 L134.0,481.4 L134.0,481.6 L134.0,481.9 L134.1,482.1 L134.1,482.4 L134.2,482.6 L136.0,486.5 L136.2,486.8 L136.3,487.0 L136.5,487.2 L136.7,487.4 L136.9,487.6 L137.1,487.7 L137.4,487.9 L137.6,488.0 L137.9,488.1 L138.1,488.1 L138.4,488.1 L138.7,488.1 L138.9,488.1Z" fill="#ece4f1"/>
<path d="M67.5,475.8 L67.6,476.0 L67.8,476.1 L68.0,476.2 L68.1,476.4 L68.3,476.5 L68.5,476.5 L68.7,476.6 L68.9,476.6 L69.1,476.7 L69.3,476.7 L69.5,476.7 L75.1,476.0 L75.3,476.0 L75.5,475.9 L75.7,475.9 L75.9,475.8 L76.1,475.6 L76.3,475.5 L76.4,475.4 L76.6,475.2 L76.7,475.0 L76.8,474.8 L76.9,474.6 L76.9,474.4 L77.0,474.2 L77.0,474.0 L77.0,473.8 L77.0,473.6 L77.0,473.4 L76.9,473.1 L76.8,472.9 L76.7,472.8 L76.6,472.6 L76.5,472.4 L76.3,472.2 L73.4,469.4 L73.2,469.3 L73.0,469.2 L72.8,469.1 L72.7,469.0 L72.5,468.9 L72.2,468.9 L72.0,468.8 L71.8,468.8 L71.6,468.9 L71.4,468.9 L71.2,468.9 L71.0,469.0 L70.8,469.1 L70.6,469.2 L70.5,469.3 L70.3,469.5 L67.3,472.4 L67.2,472.5 L67.1,472.7 L67.0,472.9 L66.9,473.1 L66.8,473.3 L66.7,473.5 L66.7,473.7 L66.7,473.9 L66.7,474.1 L66.7,474.3 L66.8,474.5 L66.8,474.7 L66.9,474.9 L67.0,475.1 L67.1,475.3Z" fill="#efe8f4"/>
<path d="M53.3,492.3 L53.3,492.6 L53.4,492.8 L53.6,493.0 L53.7,493.2 L53.9,493.3 L54.1,493.5 L54.3,493.6 L54.5,493.7 L54.7,493.8 L54.9,493.9 L55.1,493.9 L55.4,493.9 L58.8,494.0 L59.0,494.0 L59.2,494.0 L59.4,493.9 L59.7,493.9 L59.9,493.8 L60.1,493.6 L60.3,493.5 L60.4,493.4 L60.6,493.2 L60.7,493.0 L60.8,492.8 L60.9,492.6 L61.0,492.4 L61.1,492.2 L61.1,491.9 L61.5,487.6 L61.5,487.4 L61.5,487.1 L61.4,486.9 L61.4,486.7 L61.3,486.5 L61.2,486.3 L61.1,486.1 L61.0,485.9 L60.8,485.7 L60.6,485.6 L60.4,485.5 L60.2,485.3 L58.8,484.6 L58.6,484.5 L58.4,484.4 L58.2,484.4 L57.9,484.4 L57.7,484.4 L57.5,484.4 L57.3,484.4 L57.0,484.5 L56.8,484.6 L56.6,484.7 L56.4,484.8 L56.3,484.9 L53.2,487.6 L53.0,487.8 L52.9,487.9 L52.7,488.1 L52.6,488.3 L52.5,488.5 L52.5,488.7 L52.4,489.0 L52.4,489.2 L52.4,489.4 L52.4,489.6 L52.4,489.8 L52.5,490.1Z" fill="#eae2ef"/>
<path d="M122.6,498.5 L122.9,498.6 L123.1,498.6 L123.4,498.6 L123.7,498.5 L124.0,498.5 L124.2,498.4 L124.5,498.2 L124.7,498.1 L125.0,497.9 L125.2,497.7 L125.3,497.5 L125.5,497.3 L126.9,495.2 L127.1,494.9 L127.2,494.7 L127.3,494.4 L127.4,494.1 L127.4,493.9 L127.4,493.6 L127.4,493.3 L127.3,493.0 L127.3,492.7 L127.2,492.5 L124.3,485.6 L124.1,485.4 L124.0,485.1 L123.8,484.9 L123.6,484.7 L123.4,484.5 L123.2,484.3 L122.9,484.2 L122.7,484.1 L122.4,484.0 L122.1,483.9 L121.8,483.9 L121.6,483.9 L121.3,483.9 L121.0,483.9 L120.7,484.0 L120.4,484.1 L120.2,484.2 L119.9,484.4 L119.7,484.6 L118.1,485.9 L117.9,486.1 L117.8,486.3 L117.6,486.5 L117.5,486.8 L117.4,487.0 L117.3,487.3 L117.2,487.6 L117.2,487.8 L117.1,488.1 L117.2,488.4 L117.2,488.6 L118.5,495.9 L118.6,496.2 L118.7,496.5 L118.8,496.7 L119.0,497.0 L119.1,497.2 L119.3,497.4 L119.5,497.6 L119.8,497.8 L120.0,497.9 L120.3,498.0 L120.6,498.1 L120.8,498.2Z" fill="#ece4f1"/>
<path d="M162.5,470.9 L162.7,470.9 L163.0,470.9 L163.3,470.8 L163.5,470.8 L163.8,470.7 L164.0,470.6 L164.2,470.5 L164.5,470.3 L164.7,470.1 L164.8,469.9 L168.3,465.8 L168.5,465.6 L168.6,465.4 L168.7,465.1 L168.8,464.9 L168.9,464.6 L169.0,464.4 L169.0,464.1 L169.0,463.9 L168.9,463.6 L168.9,463.4 L168.8,463.1 L168.7,462.9 L168.6,462.7 L168.4,462.5 L168.3,462.3 L168.1,462.1 L167.9,461.9 L166.3,460.8 L166.1,460.6 L165.9,460.5 L165.7,460.4 L165.4,460.3 L165.2,460.3 L164.9,460.2 L164.7,460.2 L164.4,460.3 L164.2,460.3 L163.9,460.4 L163.7,460.4 L163.5,460.6 L157.8,463.6 L157.6,463.7 L157.4,463.9 L157.2,464.1 L157.0,464.2 L156.9,464.5 L156.7,464.7 L156.6,464.9 L156.5,465.1 L156.5,465.4 L156.4,465.7 L156.4,465.9 L156.4,466.2 L156.6,468.0 L156.6,468.3 L156.7,468.5 L156.8,468.8 L156.9,469.0 L157.0,469.2 L157.2,469.4 L157.3,469.6 L157.5,469.8 L157.7,470.0 L157.9,470.1 L158.2,470.2 L158.4,470.3 L158.7,470.4 L158.9,470.4Z" fill="#efe8f4"/>
<path d="M51.8,489.8 L51.7,489.6 L51.6,489.4 L51.5,489.3 L51.4,489.1 L51.2,489.0 L51.1,488.8 L50.9,488.7 L50.7,488.6 L50.6,488.5 L50.4,488.5 L47.8,487.7 L47.6,487.7 L47.4,487.6 L47.2,487.6 L47.0,487.7 L46.8,487.7 L46.6,487.7 L46.4,487.8 L46.2,487.9 L46.0,488.0 L45.8,488.1 L45.7,488.3 L45.6,488.4 L45.4,488.6 L45.3,488.8 L45.3,488.9 L45.2,489.1 L45.1,489.3 L45.1,489.5 L45.1,489.7 L45.1,494.5 L45.1,494.7 L45.1,494.9 L45.2,495.1 L45.3,495.3 L45.3,495.5 L45.5,495.7 L45.6,495.8 L45.7,496.0 L45.9,496.1 L46.0,496.3 L46.2,496.4 L46.4,496.4 L46.6,496.5 L46.8,496.6 L47.0,496.6 L47.2,496.6 L47.4,496.6 L47.6,496.6 L47.8,496.5 L48.0,496.5 L48.2,496.4 L48.3,496.3 L51.6,494.1 L51.8,494.0 L51.9,493.8 L52.0,493.7 L52.2,493.5 L52.3,493.3 L52.4,493.1 L52.4,492.9 L52.5,492.7 L52.5,492.5 L52.5,492.3 L52.5,492.1 L52.5,491.9 L52.4,491.7Z" fill="#ece4f1"/>
<path d="M137.0,474.9 L137.0,475.2 L137.1,475.4 L137.2,475.7 L137.3,475.9 L137.4,476.2 L137.6,476.4 L137.7,476.6 L137.9,476.8 L138.1,476.9 L138.3,477.1 L138.6,477.2 L138.8,477.3 L139.1,477.4 L142.3,478.2 L142.6,478.2 L142.8,478.3 L143.1,478.3 L143.3,478.2 L143.6,478.2 L143.8,478.1 L144.1,478.0 L144.3,477.9 L144.5,477.7 L144.7,477.6 L144.9,477.4 L145.1,477.2 L145.2,477.0 L145.4,476.7 L146.9,473.5 L147.0,473.2 L147.1,473.0 L147.1,472.7 L147.2,472.4 L147.2,472.2 L147.1,471.9 L147.1,471.6 L147.0,471.4 L146.9,471.1 L146.8,470.9 L146.6,470.7 L144.4,467.9 L144.2,467.7 L144.0,467.5 L143.8,467.4 L143.6,467.2 L143.4,467.1 L143.1,467.0 L142.9,466.9 L142.6,466.9 L142.3,466.9 L139.5,466.8 L139.2,466.8 L139.0,466.9 L138.7,466.9 L138.5,467.0 L138.2,467.1 L138.0,467.2 L137.8,467.4 L137.6,467.6 L137.4,467.7 L137.3,467.9 L137.1,468.2 L137.0,468.4 L136.9,468.6 L136.8,468.9 L136.8,469.1 L136.8,469.4 L136.8,469.6Z" fill="#ece4f1"/>
<path d="M71.6,503.8 L71.4,504.0 L71.2,504.2 L71.1,504.4 L70.9,504.6 L70.8,504.8 L70.7,505.0 L70.7,505.2 L70.6,505.5 L70.0,509.7 L69.9,510.0 L69.9,510.2 L70.0,510.4 L70.0,510.7 L70.1,510.9 L70.2,511.1 L70.3,511.4 L70.4,511.6 L70.6,511.8 L70.7,511.9 L70.9,512.1 L72.4,513.2 L72.6,513.3 L72.9,513.4 L73.1,513.5 L73.3,513.6 L73.5,513.6 L73.8,513.7 L74.0,513.7 L74.3,513.6 L74.5,513.6 L74.7,513.5 L75.0,513.4 L75.2,513.3 L75.4,513.2 L75.6,513.0 L75.7,512.9 L75.9,512.7 L76.0,512.5 L76.1,512.3 L76.2,512.1 L79.0,504.6 L79.1,504.3 L79.1,504.1 L79.2,503.8 L79.2,503.6 L79.1,503.3 L79.1,503.1 L79.0,502.9 L78.9,502.6 L78.8,502.4 L78.7,502.2 L78.5,502.0 L78.3,501.8 L78.1,501.7 L77.9,501.5 L77.7,501.4 L77.3,501.3 L77.1,501.2 L76.9,501.1 L76.7,501.1 L76.4,501.1 L76.2,501.1 L76.0,501.1 L75.7,501.1 L75.5,501.2 L75.3,501.3 L75.1,501.4 L74.9,501.5Z" fill="#ece4f1"/>
<path d="M62.0,465.2 L61.9,465.0 L61.8,464.7 L61.7,464.5 L61.5,464.3 L61.3,464.1 L61.2,463.9 L60.9,463.7 L60.7,463.6 L60.5,463.5 L60.3,463.4 L58.8,462.9 L58.5,462.8 L58.3,462.8 L58.0,462.8 L57.7,462.8 L57.5,462.8 L57.2,462.9 L57.0,463.0 L56.8,463.1 L56.5,463.2 L56.3,463.4 L54.8,464.6 L54.6,464.8 L54.5,465.0 L54.3,465.2 L54.2,465.4 L54.1,465.6 L54.0,465.8 L53.9,466.1 L53.9,466.3 L53.9,466.6 L53.9,466.8 L53.9,467.0 L54.0,467.3 L55.5,473.0 L55.6,473.2 L55.7,473.4 L55.8,473.6 L55.9,473.8 L56.1,474.0 L56.3,474.2 L56.4,474.4 L56.6,474.5 L56.9,474.6 L57.1,474.7 L57.3,474.8 L57.6,474.8 L57.8,474.9 L58.0,474.9 L58.3,474.8 L58.5,474.8 L58.8,474.7 L61.6,473.8 L61.8,473.7 L62.1,473.6 L62.3,473.5 L62.5,473.3 L62.7,473.1 L62.8,472.9 L63.0,472.7 L63.1,472.5 L63.2,472.3 L63.3,472.0 L63.3,471.8 L63.4,471.5 L63.4,471.3 L63.3,471.0 L63.3,470.8Z" fill="#ece4f1"/>
<path d="M45.1,512.1 L45.1,512.3 L45.1,512.5 L45.2,512.7 L45.2,512.9 L45.3,513.0 L45.4,513.2 L45.5,513.3 L45.7,513.5 L45.8,513.6 L46.0,513.7 L46.1,513.8 L46.3,513.9 L46.5,514.0 L46.7,514.0 L46.8,514.0 L47.0,514.0 L47.2,514.0 L47.4,514.0 L47.6,513.9 L47.8,513.9 L47.9,513.8 L48.1,513.7 L48.3,513.6 L48.4,513.4 L48.5,513.3 L48.6,513.1 L50.4,510.4 L50.5,510.2 L50.5,510.1 L50.6,509.9 L50.6,509.7 L50.7,509.5 L50.7,509.3 L50.7,509.1 L50.6,509.0 L50.6,508.8 L50.5,508.6 L50.4,508.4 L50.3,508.3 L50.2,508.1 L50.1,508.0 L48.3,506.3 L48.2,506.2 L48.1,506.0 L47.9,506.0 L47.7,505.9 L47.5,505.8 L47.4,505.8 L47.2,505.7 L47.0,505.7 L46.8,505.8 L46.6,505.8 L46.4,505.8 L46.3,505.9 L46.1,506.0 L45.9,506.1 L45.8,506.2 L45.7,506.3 L45.5,506.4 L45.4,506.6 L45.3,506.8 L45.2,506.9 L45.2,507.1 L45.1,507.3 L45.1,507.5 L45.1,507.7Z" fill="#ece4f1"/>
<path d="M83.9,473.5 L83.6,473.6 L83.4,473.8 L83.1,474.0 L82.9,474.2 L82.7,474.4 L82.5,474.6 L82.4,474.9 L82.3,475.2 L82.2,475.4 L82.1,475.7 L82.1,476.0 L82.1,476.3 L82.1,476.6 L82.1,476.9 L82.2,477.2 L82.3,477.5 L82.4,477.7 L82.6,478.0 L82.7,478.2 L82.9,478.5 L83.1,478.7 L88.2,482.9 L88.4,483.1 L88.7,483.3 L88.9,483.4 L89.2,483.5 L89.5,483.6 L89.8,483.6 L90.1,483.7 L90.4,483.7 L90.7,483.6 L91.0,483.6 L91.3,483.5 L91.5,483.3 L91.8,483.2 L92.0,483.0 L94.9,480.8 L95.1,480.6 L95.3,480.4 L95.5,480.2 L95.7,479.9 L95.8,479.7 L95.9,479.4 L96.0,479.1 L96.1,478.8 L96.1,478.5 L96.1,478.2 L96.1,478.0 L96.0,477.7 L95.0,473.5 L94.9,473.2 L94.8,472.9 L94.7,472.7 L94.5,472.4 L94.3,472.2 L94.1,471.9 L93.8,471.8 L93.6,471.6 L93.3,471.4 L93.0,471.3 L92.7,471.2 L91.3,470.9 L91.0,470.9 L90.7,470.8 L90.4,470.8 L90.1,470.9 L89.9,470.9 L89.6,471.0 L89.3,471.1Z" fill="#eae2ef"/>
<path d="M136.0,490.8 L135.9,491.1 L135.8,491.3 L135.8,491.5 L135.7,491.8 L135.7,492.0 L135.7,492.3 L135.8,492.5 L135.8,492.8 L135.9,493.0 L136.0,493.2 L136.1,493.4 L139.2,498.2 L139.3,498.4 L139.5,498.6 L139.7,498.8 L139.9,498.9 L140.1,499.1 L140.4,499.2 L140.6,499.3 L140.9,499.4 L141.2,499.4 L141.4,499.4 L141.7,499.4 L142.0,499.3 L143.8,498.9 L144.1,498.8 L144.3,498.8 L144.5,498.6 L144.7,498.5 L144.9,498.4 L145.1,498.2 L145.3,498.0 L145.4,497.8 L145.6,497.6 L145.7,497.4 L145.7,497.1 L145.8,496.9 L145.8,496.6 L145.9,496.4 L145.9,490.7 L145.9,490.5 L145.9,490.2 L145.8,490.0 L145.7,489.7 L145.6,489.5 L145.5,489.3 L145.4,489.1 L145.2,488.9 L145.0,488.7 L144.8,488.6 L144.6,488.4 L144.4,488.3 L144.1,488.2 L143.9,488.1 L143.6,488.1 L143.4,488.1 L143.1,488.1 L142.9,488.1 L138.2,488.8 L138.0,488.9 L137.8,488.9 L137.5,489.0 L137.3,489.2 L137.1,489.3 L136.9,489.4 L136.7,489.6 L136.6,489.8 L136.4,490.0 L136.3,490.2Z" fill="#eee6f3"/>
<path d="M114.3,502.0 L114.4,501.8 L114.4,501.5 L114.4,501.3 L114.4,501.0 L114.4,500.7 L114.4,500.5 L114.3,500.2 L114.2,500.0 L114.1,499.8 L113.9,499.5 L113.7,499.3 L113.6,499.1 L113.4,499.0 L113.1,498.8 L112.9,498.7 L110.0,497.4 L109.8,497.3 L109.5,497.2 L109.3,497.2 L109.0,497.1 L108.7,497.1 L108.5,497.2 L108.2,497.2 L108.0,497.3 L107.7,497.4 L107.5,497.5 L107.3,497.7 L107.1,497.8 L103.3,501.3 L103.1,501.5 L103.0,501.7 L102.8,501.9 L102.7,502.1 L102.6,502.4 L102.5,502.6 L102.5,502.9 L102.5,503.2 L102.5,503.4 L102.5,503.7 L102.6,503.9 L102.6,504.2 L102.7,504.4 L102.9,504.7 L103.0,504.9 L103.2,505.1 L103.4,505.3 L103.6,505.5 L103.8,505.6 L104.1,505.7 L109.1,507.9 L109.4,508.0 L109.6,508.1 L109.9,508.1 L110.2,508.2 L110.4,508.2 L110.7,508.1 L110.9,508.1 L111.2,508.0 L111.4,507.9 L111.6,507.8 L111.9,507.6 L112.1,507.4 L112.2,507.3 L112.4,507.1 L112.5,506.8 L112.7,506.6 L112.8,506.4Z" fill="#eae2ef"/>
<path d="M146.5,496.7 L146.5,497.0 L146.5,497.3 L146.6,497.6 L146.7,497.9 L146.8,498.1 L146.9,498.4 L147.1,498.6 L147.3,498.8 L147.5,499.0 L147.8,499.2 L148.0,499.3 L151.3,501.1 L151.6,501.2 L151.9,501.3 L152.1,501.4 L152.4,501.4 L152.7,501.4 L153.0,501.4 L153.2,501.4 L153.5,501.3 L153.8,501.2 L154.0,501.1 L154.3,501.0 L154.5,500.8 L154.7,500.6 L154.9,500.4 L155.1,500.2 L155.2,500.0 L155.3,499.7 L155.5,499.5 L155.5,499.2 L155.6,498.9 L155.6,498.6 L155.6,498.4 L155.2,491.3 L155.2,491.0 L155.1,490.7 L155.0,490.4 L154.9,490.1 L154.7,489.9 L154.6,489.6 L154.4,489.4 L154.2,489.2 L153.9,489.0 L153.7,488.9 L150.8,487.3 L150.6,487.2 L150.3,487.1 L150.0,487.0 L149.7,487.0 L149.4,487.0 L149.2,487.0 L148.9,487.0 L148.6,487.1 L148.3,487.2 L148.1,487.3 L147.8,487.4 L147.6,487.6 L147.4,487.8 L147.2,488.0 L147.0,488.2 L146.9,488.5 L146.8,488.7 L146.7,489.0 L146.6,489.3 L146.5,489.6 L146.5,489.8Z" fill="#eee6f3"/>
<path d="M73.2,464.9 L73.1,465.1 L72.9,465.2 L72.8,465.4 L72.6,465.6 L72.5,465.8 L72.5,466.0 L72.4,466.3 L72.4,466.5 L72.4,466.7 L72.4,467.0 L72.4,467.2 L72.5,467.4 L72.6,467.6 L72.7,467.8 L72.8,468.0 L72.9,468.2 L73.1,468.4 L77.0,472.0 L77.2,472.2 L77.4,472.3 L77.6,472.4 L77.8,472.5 L78.0,472.6 L78.2,472.6 L78.4,472.7 L78.7,472.7 L78.9,472.6 L79.1,472.6 L79.3,472.5 L79.6,472.4 L79.8,472.3 L80.0,472.2 L80.1,472.1 L80.3,471.9 L80.4,471.7 L80.6,471.5 L80.7,471.3 L80.7,471.1 L80.8,470.9 L80.9,470.7 L80.9,470.4 L80.9,470.2 L80.8,470.0 L79.8,464.0 L79.7,463.8 L79.7,463.6 L79.6,463.4 L79.4,463.2 L79.3,463.0 L79.2,462.8 L79.0,462.7 L78.8,462.5 L78.6,462.4 L78.4,462.3 L78.2,462.2 L78.0,462.2 L77.8,462.1 L77.5,462.1 L77.3,462.1 L77.1,462.2 L76.9,462.2 L76.7,462.3 L76.5,462.4 L76.3,462.5 L76.1,462.6Z" fill="#efe8f4"/>
<path d="M77.5,515.0 L77.2,514.9 L76.9,514.9 L76.6,514.9 L76.2,515.0 L75.9,515.1 L75.6,515.2 L75.4,515.3 L75.1,515.5 L74.8,515.7 L74.6,515.9 L74.4,516.1 L74.2,516.4 L74.1,516.6 L73.9,516.9 L73.8,517.2 L72.5,521.7 L72.5,522.0 L72.4,522.3 L72.4,522.6 L72.4,522.9 L72.5,523.2 L72.5,523.5 L72.7,523.8 L72.8,524.0 L72.9,524.3 L73.1,524.6 L73.3,524.8 L73.6,525.0 L73.8,525.2 L74.1,525.3 L74.4,525.5 L74.7,525.6 L75.0,525.6 L75.3,525.7 L75.6,525.7 L84.1,525.7 L84.4,525.7 L84.7,525.6 L85.0,525.6 L85.3,525.5 L85.6,525.3 L85.8,525.2 L86.1,525.0 L86.3,524.8 L86.5,524.6 L86.7,524.3 L86.8,524.1 L87.0,523.8 L87.1,523.5 L87.2,523.2 L87.2,522.9 L87.2,522.6 L87.2,522.3 L87.2,522.0 L87.1,521.7 L87.0,521.4 L85.8,518.2 L85.6,517.9 L85.5,517.6 L85.3,517.4 L85.1,517.1 L84.9,516.9 L84.6,516.7 L84.3,516.5 L84.1,516.4 L83.8,516.3 L83.5,516.2Z" fill="#efe8f4"/>
<path d="M74.6,447.8 L74.6,448.1 L74.6,448.3 L74.6,448.6 L74.6,448.8 L74.7,449.0 L74.7,449.3 L74.8,449.5 L74.9,449.7 L75.1,449.9 L80.7,457.6 L80.9,457.8 L81.1,458.0 L81.3,458.1 L81.5,458.3 L81.7,458.4 L82.0,458.5 L82.2,458.6 L82.5,458.6 L82.7,458.7 L83.0,458.7 L83.3,458.6 L83.5,458.6 L83.9,458.5 L84.2,458.4 L84.4,458.3 L84.6,458.1 L84.8,458.0 L85.0,457.8 L85.2,457.6 L85.4,457.4 L85.5,457.2 L85.6,457.0 L85.7,456.8 L85.8,456.5 L85.8,456.2 L85.8,456.0 L85.8,455.7 L85.8,455.5 L85.8,455.2 L85.7,455.0 L82.8,447.4 L82.7,447.1 L82.5,446.9 L82.4,446.7 L82.2,446.5 L82.0,446.3 L81.8,446.2 L81.6,446.0 L81.3,445.9 L81.1,445.8 L80.8,445.8 L80.6,445.7 L80.3,445.7 L77.2,445.7 L77.0,445.7 L76.7,445.7 L76.5,445.8 L76.2,445.9 L76.0,446.0 L75.8,446.1 L75.6,446.3 L75.4,446.5 L75.2,446.6 L75.0,446.8 L74.9,447.1 L74.8,447.3 L74.7,447.5 L74.6,447.8Z" fill="#eae2ef"/>
<path d="M174.0,468.2 L174.0,467.9 L173.9,467.6 L173.9,467.4 L173.8,467.1 L173.6,466.8 L173.5,466.6 L173.3,466.3 L173.1,466.1 L172.9,465.9 L172.7,465.7 L172.4,465.6 L172.2,465.5 L171.9,465.4 L171.6,465.3 L171.3,465.2 L171.0,465.2 L170.7,465.2 L170.4,465.3 L170.2,465.3 L169.9,465.4 L169.6,465.6 L169.4,465.7 L169.1,465.9 L168.9,466.1 L168.7,466.3 L165.5,470.1 L165.3,470.3 L165.2,470.6 L165.0,470.8 L164.9,471.1 L164.9,471.4 L164.8,471.6 L164.8,471.9 L164.8,472.2 L164.8,472.5 L164.9,472.8 L165.0,473.0 L167.2,479.2 L167.3,479.5 L167.5,479.8 L167.6,480.0 L167.8,480.2 L168.0,480.5 L168.3,480.6 L168.5,480.8 L168.8,480.9 L169.1,481.1 L169.4,481.1 L169.7,481.2 L170.0,481.2 L170.9,481.2 L171.2,481.2 L171.5,481.2 L171.8,481.1 L172.1,481.0 L172.4,480.9 L172.6,480.7 L172.9,480.6 L173.1,480.4 L173.3,480.2 L173.5,479.9 L173.6,479.7 L173.8,479.4 L173.9,479.1 L173.9,478.8 L174.0,478.5 L174.0,478.2Z" fill="#ece4f1"/>
<path d="M164.2,484.7 L164.1,485.0 L164.0,485.3 L163.9,485.7 L163.9,486.0 L163.9,486.3 L163.9,486.7 L164.0,487.0 L166.5,496.3 L166.6,496.6 L166.7,496.9 L166.9,497.2 L167.0,497.5 L167.3,497.7 L167.5,497.9 L167.7,498.1 L168.0,498.3 L168.3,498.5 L168.6,498.6 L169.7,499.0 L170.0,499.1 L170.3,499.1 L170.6,499.1 L171.0,499.1 L171.3,499.1 L171.6,499.0 L171.9,498.9 L172.2,498.8 L172.5,498.6 L172.8,498.4 L173.0,498.2 L173.2,498.0 L173.4,497.7 L173.6,497.4 L173.7,497.1 L173.9,496.8 L173.9,496.5 L174.0,496.2 L174.0,495.9 L174.0,485.1 L174.0,484.8 L173.9,484.5 L173.9,484.2 L173.8,483.9 L173.6,483.6 L173.5,483.3 L173.3,483.0 L173.1,482.8 L172.8,482.6 L172.6,482.4 L172.3,482.2 L172.0,482.1 L171.7,482.0 L171.4,481.9 L171.1,481.8 L170.8,481.8 L168.8,481.8 L168.5,481.8 L168.1,481.8 L167.8,481.9 L167.5,482.0 L167.2,482.1 L166.9,482.3 L165.5,483.2 L165.2,483.4 L165.0,483.6 L164.8,483.8 L164.6,484.0 L164.5,484.3 L164.3,484.5Z" fill="#eee6f3"/>
<path d="M85.7,453.3 L85.8,453.5 L85.9,453.7 L86.0,453.9 L86.1,454.1 L86.3,454.2 L86.5,454.3 L86.6,454.5 L86.8,454.6 L87.0,454.6 L87.2,454.7 L87.5,454.7 L87.7,454.8 L87.9,454.8 L88.1,454.7 L88.3,454.7 L88.5,454.6 L88.7,454.5 L88.9,454.4 L89.1,454.3 L89.3,454.2 L89.4,454.0 L89.6,453.9 L89.7,453.7 L89.8,453.5 L92.0,448.9 L92.1,448.7 L92.2,448.5 L92.2,448.3 L92.3,448.1 L92.3,447.9 L92.2,447.7 L92.2,447.5 L92.1,447.2 L92.1,447.0 L92.0,446.8 L91.9,446.7 L91.7,446.5 L91.6,446.3 L91.4,446.2 L91.2,446.1 L91.1,446.0 L90.9,445.9 L90.7,445.8 L90.4,445.7 L90.2,445.7 L90.0,445.7 L86.0,445.7 L85.8,445.7 L85.6,445.7 L85.4,445.8 L85.2,445.9 L85.0,446.0 L84.8,446.1 L84.6,446.2 L84.4,446.3 L84.3,446.5 L84.2,446.7 L84.1,446.9 L84.0,447.1 L83.9,447.3 L83.8,447.5 L83.8,447.7 L83.8,447.9 L83.8,448.1 L83.8,448.3 L83.9,448.5 L83.9,448.7Z" fill="#efe8f4"/>
<path d="M100.5,457.3 L100.2,457.2 L100.0,457.2 L99.8,457.2 L99.5,457.2 L99.3,457.2 L99.0,457.3 L98.8,457.3 L98.6,457.4 L97.7,457.9 L97.5,458.0 L97.3,458.1 L97.1,458.3 L96.9,458.5 L96.8,458.7 L96.7,458.9 L96.6,459.1 L96.5,459.3 L96.4,459.5 L96.4,459.7 L96.4,460.0 L96.4,460.2 L96.9,466.5 L96.9,466.7 L97.0,467.0 L97.0,467.2 L97.1,467.4 L97.2,467.6 L97.4,467.8 L97.5,468.0 L97.7,468.1 L97.9,468.3 L98.1,468.4 L98.3,468.5 L98.5,468.6 L98.8,468.6 L99.0,468.7 L99.2,468.7 L99.5,468.7 L99.7,468.6 L102.1,468.2 L102.3,468.1 L102.5,468.0 L102.7,467.9 L102.9,467.8 L103.1,467.7 L103.3,467.5 L103.4,467.3 L103.6,467.2 L103.7,467.0 L103.8,466.7 L103.9,466.5 L103.9,466.3 L104.0,466.1 L104.0,465.8 L104.0,465.6 L103.5,459.9 L103.4,459.6 L103.4,459.4 L103.3,459.2 L103.2,458.9 L103.0,458.7 L102.9,458.5 L102.7,458.4 L102.5,458.2 L102.3,458.1 L102.1,457.9 L101.9,457.9Z" fill="#eee6f3"/>
<path d="M83.6,503.3 L83.4,503.2 L83.2,503.1 L83.0,503.0 L82.7,502.9 L82.5,502.9 L82.2,502.8 L82.0,502.8 L81.7,502.9 L81.5,502.9 L81.2,503.0 L81.0,503.1 L80.8,503.2 L80.6,503.4 L80.4,503.5 L80.2,503.7 L80.0,503.9 L79.9,504.1 L79.8,504.3 L79.7,504.6 L77.2,511.2 L77.1,511.5 L77.1,511.7 L77.0,512.0 L77.0,512.2 L77.0,512.5 L77.1,512.7 L77.1,513.0 L77.2,513.2 L77.4,513.4 L77.5,513.6 L77.6,513.8 L77.8,514.0 L78.0,514.2 L78.2,514.3 L78.4,514.5 L78.6,514.6 L78.9,514.7 L79.1,514.7 L83.3,515.6 L83.5,515.6 L83.8,515.6 L84.0,515.6 L84.3,515.6 L84.6,515.5 L84.8,515.4 L85.0,515.3 L85.3,515.2 L85.5,515.0 L85.7,514.9 L85.8,514.7 L86.0,514.4 L86.1,514.2 L86.2,514.0 L86.4,513.8 L86.5,513.5 L86.5,513.2 L86.5,513.0 L86.6,512.7 L86.5,512.4 L85.6,505.7 L85.5,505.4 L85.5,505.2 L85.4,504.9 L85.2,504.7 L85.1,504.5 L84.9,504.3 L84.7,504.1 L84.5,503.9Z" fill="#eee6f3"/>
<path d="M141.6,500.0 L141.3,500.1 L141.0,500.2 L140.7,500.4 L140.4,500.6 L140.1,500.8 L139.9,501.0 L139.6,501.3 L139.4,501.6 L138.0,503.7 L137.9,504.0 L137.7,504.4 L137.6,504.7 L137.5,505.1 L137.5,505.4 L137.5,505.8 L137.5,506.2 L138.1,509.6 L138.2,509.9 L138.3,510.2 L138.4,510.6 L138.6,510.9 L138.8,511.2 L139.0,511.4 L139.3,511.7 L139.6,511.9 L139.9,512.1 L140.2,512.2 L140.5,512.3 L140.8,512.4 L141.2,512.5 L141.5,512.5 L141.9,512.5 L142.2,512.4 L151.0,510.7 L151.3,510.6 L151.6,510.5 L151.9,510.4 L152.2,510.2 L152.5,510.0 L152.7,509.8 L153.0,509.5 L153.2,509.3 L153.4,509.0 L153.5,508.7 L153.6,508.4 L153.7,508.0 L153.8,507.7 L153.8,507.4 L153.9,505.3 L153.9,505.0 L153.8,504.6 L153.7,504.3 L153.6,503.9 L153.5,503.6 L153.3,503.3 L153.1,503.0 L152.9,502.8 L152.6,502.5 L152.3,502.3 L152.0,502.1 L147.2,499.6 L146.9,499.5 L146.6,499.4 L146.2,499.3 L145.9,499.2 L145.5,499.2 L145.2,499.2 L144.8,499.3Z" fill="#ece4f1"/>
<path d="M47.4,497.6 L47.3,497.7 L47.2,497.8 L47.0,497.9 L46.9,498.1 L46.8,498.2 L46.8,498.4 L46.7,498.6 L46.7,498.7 L46.6,498.9 L46.6,499.1 L46.6,499.2 L46.6,499.4 L46.7,499.6 L46.7,499.8 L46.8,499.9 L46.9,500.1 L47.0,500.2 L47.1,500.3 L47.2,500.5 L47.4,500.6 L47.5,500.7 L47.7,500.7 L47.8,500.8 L48.0,500.9 L48.2,500.9 L48.4,500.9 L52.1,501.1 L52.2,501.1 L52.4,501.0 L52.6,501.0 L52.8,501.0 L52.9,500.9 L53.1,500.8 L53.2,500.7 L53.4,500.6 L53.5,500.5 L53.6,500.3 L53.7,500.2 L53.8,500.0 L53.8,499.8 L53.9,499.7 L53.9,499.5 L53.9,499.3 L54.0,496.6 L54.0,496.5 L54.0,496.3 L54.0,496.1 L53.9,495.9 L53.9,495.8 L53.8,495.6 L53.7,495.5 L53.5,495.3 L53.4,495.2 L53.3,495.1 L53.1,495.0 L53.0,494.9 L52.8,494.8 L52.6,494.8 L52.4,494.8 L52.2,494.8 L52.1,494.8 L51.9,494.8 L51.7,494.8 L51.5,494.9 L51.4,495.0 L51.2,495.1Z" fill="#efe8f4"/>
<path d="M152,452 Q165,450 171.3,456 L171.3,512 Q160,515 150,508 Q146,480 152,452Z" fill="#eae3f0" opacity="0.85"/>
<ellipse cx="49.5" cy="462" rx="2" ry="6" fill="#c060a8" opacity="0.45"/>
<ellipse cx="50" cy="476" rx="1.5" ry="3" fill="#c060a8" opacity="0.45"/>
<ellipse cx="112" cy="514" rx="4" ry="1.5" fill="#c060a8" opacity="0.45"/>
<ellipse cx="128" cy="506" rx="2.5" ry="1.5" fill="#c060a8" opacity="0.45"/>
<ellipse cx="72" cy="503" rx="2" ry="1.5" fill="#c060a8" opacity="0.45"/>
<ellipse cx="168" cy="480" rx="1.2" ry="3" fill="#c060a8" opacity="0.45"/>
<ellipse cx="140" cy="452" rx="2" ry="1" fill="#c060a8" opacity="0.45"/>
<circle cx="105.0" cy="476.2" r="0.6" fill="#c080b0" opacity="0.7"/>
<circle cx="154.8" cy="448.9" r="0.8" fill="#c080b0" opacity="0.7"/>
<circle cx="158.7" cy="454.4" r="0.8" fill="#c080b0" opacity="0.7"/>
<circle cx="124.0" cy="451.5" r="0.7" fill="#c080b0" opacity="0.7"/>
<circle cx="134.7" cy="482.1" r="0.9" fill="#c080b0" opacity="0.7"/>
<circle cx="67.2" cy="466.2" r="0.6" fill="#c080b0" opacity="0.7"/>
<circle cx="110.3" cy="517.3" r="0.8" fill="#c080b0" opacity="0.7"/>
<circle cx="143.4" cy="477.0" r="0.9" fill="#c080b0" opacity="0.7"/>
<circle cx="60.4" cy="470.1" r="0.8" fill="#c080b0" opacity="0.7"/>
<circle cx="137.4" cy="479.9" r="0.5" fill="#c080b0" opacity="0.7"/>
<circle cx="80.7" cy="464.1" r="0.6" fill="#c080b0" opacity="0.7"/>
<circle cx="147.8" cy="463.3" r="0.9" fill="#c080b0" opacity="0.7"/>
<circle cx="156.4" cy="452.5" r="0.7" fill="#c080b0" opacity="0.7"/>
<circle cx="108.5" cy="450.2" r="0.7" fill="#c080b0" opacity="0.7"/>
<circle cx="159.7" cy="456.8" r="0.8" fill="#c080b0" opacity="0.7"/>
<circle cx="62.8" cy="491.6" r="0.9" fill="#c080b0" opacity="0.7"/>
<circle cx="72.9" cy="449.0" r="0.5" fill="#c080b0" opacity="0.7"/>
<circle cx="114.5" cy="449.7" r="0.5" fill="#c080b0" opacity="0.7"/>
<circle cx="109.1" cy="517.1" r="0.7" fill="#c080b0" opacity="0.7"/>
<circle cx="97.0" cy="496.0" r="0.5" fill="#c080b0" opacity="0.7"/>
<circle cx="119.4" cy="461.3" r="0.8" fill="#c080b0" opacity="0.7"/>
<circle cx="166.2" cy="452.4" r="0.8" fill="#c080b0" opacity="0.7"/>
<circle cx="122.7" cy="459.5" r="0.6" fill="#c080b0" opacity="0.7"/>
<circle cx="170.7" cy="522.8" r="0.6" fill="#c080b0" opacity="0.7"/>
<circle cx="134.9" cy="519.3" r="0.6" fill="#c080b0" opacity="0.7"/>
<circle cx="123.3" cy="451.6" r="0.7" fill="#c080b0" opacity="0.7"/>
<circle cx="131.1" cy="492.4" r="0.9" fill="#c080b0" opacity="0.7"/>
<circle cx="58.5" cy="474.3" r="0.9" fill="#c080b0" opacity="0.7"/>
<circle cx="119.9" cy="482.1" r="0.7" fill="#c080b0" opacity="0.7"/>
<circle cx="169.6" cy="491.3" r="0.5" fill="#c080b0" opacity="0.7"/>
<circle cx="146.5" cy="472.9" r="0.7" fill="#c080b0" opacity="0.7"/>
<circle cx="74.2" cy="481.5" r="0.7" fill="#c080b0" opacity="0.7"/>
<circle cx="58.8" cy="495.4" r="0.6" fill="#c080b0" opacity="0.7"/>
<circle cx="144.6" cy="450.3" r="0.9" fill="#c080b0" opacity="0.7"/>
<circle cx="147.5" cy="485.5" r="0.9" fill="#c080b0" opacity="0.7"/>
<circle cx="78.5" cy="503.4" r="0.7" fill="#c080b0" opacity="0.7"/>
<circle cx="76.3" cy="520.3" r="0.7" fill="#c080b0" opacity="0.7"/>
<circle cx="93.9" cy="512.5" r="0.7" fill="#c080b0" opacity="0.7"/>
<circle cx="130.2" cy="461.2" r="0.9" fill="#c080b0" opacity="0.7"/>
<circle cx="79.8" cy="452.2" r="1.0" fill="#c080b0" opacity="0.7"/>
</g>
<text x="109.5" y="443.2" font-size="7.9" text-anchor="middle" fill="#151515" font-weight="normal" textLength="15.4" lengthAdjust="spacingAndGlyphs"  stroke="#151515" stroke-width="0.12">H&amp;E</text>
<clipPath id="c2"><rect x="210.6" y="448.5" width="111" height="74.1"/></clipPath>
<g clip-path="url(#c2)" filter="url(#soft)"><rect x="210.6" y="448.5" width="111.0" height="74.1" fill="#dbdbde"/>
<circle cx="237.0" cy="488.8" r="1.0" fill="#c4c7ce"/>
<circle cx="263.2" cy="491.5" r="0.4" fill="#d4cdca"/>
<circle cx="303.6" cy="467.7" r="0.5" fill="#e4e4e6"/>
<circle cx="290.2" cy="488.6" r="0.7" fill="#d4cdca"/>
<circle cx="281.5" cy="459.7" r="1.0" fill="#e4e4e6"/>
<circle cx="268.7" cy="503.4" r="0.5" fill="#cbcdd2"/>
<circle cx="316.9" cy="451.7" r="1.0" fill="#cbcdd2"/>
<circle cx="240.5" cy="492.6" r="0.9" fill="#e8e8ea"/>
<circle cx="312.8" cy="477.8" r="0.7" fill="#d4cdca"/>
<circle cx="314.5" cy="513.6" r="0.4" fill="#cbcdd2"/>
<circle cx="265.5" cy="467.6" r="0.9" fill="#e8e8ea"/>
<circle cx="305.5" cy="479.7" r="0.8" fill="#e8e8ea"/>
<circle cx="269.9" cy="478.7" r="1.0" fill="#e4e4e6"/>
<circle cx="286.3" cy="517.3" r="1.1" fill="#c4c7ce"/>
<circle cx="285.1" cy="460.6" r="1.1" fill="#c4c7ce"/>
<circle cx="311.0" cy="490.7" r="0.8" fill="#e4e4e6"/>
<circle cx="320.3" cy="468.3" r="0.4" fill="#cbcdd2"/>
<circle cx="305.4" cy="521.8" r="0.6" fill="#cbcdd2"/>
<circle cx="218.0" cy="515.0" r="0.6" fill="#cbcdd2"/>
<circle cx="295.9" cy="513.2" r="0.8" fill="#cbcdd2"/>
<circle cx="295.1" cy="476.5" r="0.6" fill="#d4cdca"/>
<circle cx="308.4" cy="521.2" r="0.6" fill="#d4cdca"/>
<circle cx="214.6" cy="449.0" r="0.8" fill="#cbcdd2"/>
<circle cx="214.1" cy="463.1" r="0.6" fill="#e8e8ea"/>
<circle cx="239.8" cy="499.6" r="0.6" fill="#c4c7ce"/>
<circle cx="317.0" cy="514.9" r="0.7" fill="#e8e8ea"/>
<circle cx="307.2" cy="477.1" r="0.9" fill="#d4cdca"/>
<circle cx="222.0" cy="520.6" r="0.6" fill="#d4cdca"/>
<circle cx="281.0" cy="501.5" r="0.7" fill="#c4c7ce"/>
<circle cx="239.3" cy="471.0" r="0.4" fill="#c4c7ce"/>
<circle cx="256.7" cy="491.5" r="0.7" fill="#cbcdd2"/>
<circle cx="276.0" cy="458.4" r="0.7" fill="#c4c7ce"/>
<circle cx="286.0" cy="474.6" r="0.9" fill="#c4c7ce"/>
<circle cx="213.1" cy="453.0" r="1.1" fill="#cbcdd2"/>
<circle cx="238.5" cy="482.3" r="0.8" fill="#d4cdca"/>
<circle cx="230.3" cy="462.2" r="1.0" fill="#c4c7ce"/>
<circle cx="239.9" cy="506.8" r="0.9" fill="#cbcdd2"/>
<circle cx="213.6" cy="490.7" r="0.6" fill="#e4e4e6"/>
<circle cx="235.3" cy="508.1" r="0.6" fill="#e4e4e6"/>
<circle cx="285.9" cy="496.6" r="0.5" fill="#cbcdd2"/>
<circle cx="246.3" cy="473.2" r="0.7" fill="#e4e4e6"/>
<circle cx="305.6" cy="461.0" r="0.9" fill="#c4c7ce"/>
<circle cx="234.8" cy="490.6" r="0.6" fill="#c4c7ce"/>
<circle cx="224.0" cy="487.7" r="0.6" fill="#e4e4e6"/>
<circle cx="303.4" cy="491.1" r="0.6" fill="#c4c7ce"/>
<circle cx="302.5" cy="454.8" r="0.6" fill="#d4cdca"/>
<circle cx="225.0" cy="470.1" r="0.7" fill="#c4c7ce"/>
<circle cx="281.0" cy="470.0" r="0.7" fill="#d4cdca"/>
<circle cx="312.8" cy="460.1" r="0.7" fill="#cbcdd2"/>
<circle cx="303.0" cy="494.6" r="0.7" fill="#d4cdca"/>
<circle cx="316.1" cy="517.2" r="0.4" fill="#e4e4e6"/>
<circle cx="261.3" cy="504.3" r="1.1" fill="#d4cdca"/>
<circle cx="271.0" cy="514.4" r="1.0" fill="#cbcdd2"/>
<circle cx="318.4" cy="457.4" r="0.4" fill="#e4e4e6"/>
<circle cx="310.9" cy="499.9" r="1.0" fill="#e4e4e6"/>
<circle cx="310.5" cy="491.3" r="0.7" fill="#cbcdd2"/>
<circle cx="224.0" cy="485.8" r="0.9" fill="#e4e4e6"/>
<circle cx="268.9" cy="479.2" r="0.5" fill="#d4cdca"/>
<circle cx="224.5" cy="520.5" r="0.7" fill="#d4cdca"/>
<circle cx="297.4" cy="474.6" r="0.5" fill="#e4e4e6"/>
<circle cx="309.1" cy="457.3" r="1.0" fill="#e4e4e6"/>
<circle cx="312.9" cy="508.2" r="0.7" fill="#cbcdd2"/>
<circle cx="274.0" cy="478.2" r="0.6" fill="#c4c7ce"/>
<circle cx="279.2" cy="487.0" r="0.7" fill="#cbcdd2"/>
<circle cx="296.8" cy="448.6" r="0.9" fill="#cbcdd2"/>
<circle cx="215.7" cy="452.2" r="1.1" fill="#e8e8ea"/>
<circle cx="305.4" cy="454.9" r="0.7" fill="#d4cdca"/>
<circle cx="228.0" cy="453.8" r="0.9" fill="#e8e8ea"/>
<circle cx="275.7" cy="475.2" r="1.1" fill="#e4e4e6"/>
<circle cx="258.2" cy="458.0" r="0.9" fill="#cbcdd2"/>
<circle cx="252.8" cy="454.4" r="0.4" fill="#e4e4e6"/>
<circle cx="261.8" cy="496.7" r="0.7" fill="#d4cdca"/>
<circle cx="299.5" cy="494.7" r="0.4" fill="#e8e8ea"/>
<circle cx="280.2" cy="504.8" r="0.7" fill="#c4c7ce"/>
<circle cx="287.6" cy="482.6" r="0.6" fill="#e4e4e6"/>
<circle cx="240.6" cy="492.2" r="0.6" fill="#e8e8ea"/>
<circle cx="225.1" cy="450.6" r="0.7" fill="#c4c7ce"/>
<circle cx="310.3" cy="507.1" r="0.5" fill="#c4c7ce"/>
<circle cx="287.3" cy="518.1" r="1.0" fill="#d4cdca"/>
<circle cx="284.7" cy="502.9" r="0.8" fill="#d4cdca"/>
<circle cx="300.7" cy="501.6" r="0.5" fill="#e8e8ea"/>
<circle cx="296.5" cy="451.8" r="0.8" fill="#cbcdd2"/>
<circle cx="283.8" cy="476.3" r="0.6" fill="#cbcdd2"/>
<circle cx="305.2" cy="450.4" r="0.9" fill="#cbcdd2"/>
<circle cx="303.4" cy="519.1" r="0.6" fill="#d4cdca"/>
<circle cx="220.5" cy="522.3" r="0.8" fill="#d4cdca"/>
<circle cx="290.0" cy="456.4" r="1.1" fill="#cbcdd2"/>
<circle cx="217.4" cy="472.5" r="0.5" fill="#d4cdca"/>
<circle cx="219.2" cy="522.5" r="0.7" fill="#e4e4e6"/>
<circle cx="288.3" cy="518.3" r="0.7" fill="#c4c7ce"/>
<circle cx="254.6" cy="474.5" r="1.1" fill="#e8e8ea"/>
<circle cx="252.3" cy="465.9" r="1.0" fill="#e8e8ea"/>
<circle cx="317.9" cy="479.3" r="0.9" fill="#d4cdca"/>
<circle cx="285.4" cy="486.8" r="0.5" fill="#e8e8ea"/>
<circle cx="255.1" cy="514.3" r="0.5" fill="#e4e4e6"/>
<circle cx="293.6" cy="516.4" r="1.1" fill="#d4cdca"/>
<circle cx="275.7" cy="512.1" r="0.6" fill="#e4e4e6"/>
<circle cx="232.7" cy="491.9" r="1.1" fill="#c4c7ce"/>
<circle cx="305.1" cy="488.4" r="0.9" fill="#c4c7ce"/>
<circle cx="305.5" cy="492.6" r="0.8" fill="#d4cdca"/>
<circle cx="240.3" cy="464.6" r="0.6" fill="#cbcdd2"/>
<circle cx="299.9" cy="463.4" r="0.7" fill="#d4cdca"/>
<circle cx="246.3" cy="505.9" r="0.7" fill="#e4e4e6"/>
<circle cx="288.0" cy="500.5" r="0.7" fill="#e4e4e6"/>
<circle cx="303.2" cy="509.4" r="0.4" fill="#d4cdca"/>
<circle cx="320.8" cy="453.9" r="0.9" fill="#e8e8ea"/>
<circle cx="308.5" cy="451.9" r="1.0" fill="#e4e4e6"/>
<circle cx="282.6" cy="506.1" r="1.1" fill="#cbcdd2"/>
<circle cx="305.4" cy="466.4" r="0.9" fill="#e4e4e6"/>
<circle cx="225.9" cy="494.6" r="1.0" fill="#cbcdd2"/>
<circle cx="238.9" cy="512.6" r="0.5" fill="#c4c7ce"/>
<circle cx="220.7" cy="507.7" r="0.5" fill="#cbcdd2"/>
<circle cx="303.2" cy="470.1" r="0.7" fill="#c4c7ce"/>
<circle cx="292.1" cy="473.4" r="0.6" fill="#cbcdd2"/>
<circle cx="259.0" cy="484.5" r="0.9" fill="#e4e4e6"/>
<circle cx="293.0" cy="484.8" r="0.8" fill="#e4e4e6"/>
<circle cx="223.8" cy="468.9" r="0.5" fill="#e8e8ea"/>
<circle cx="309.1" cy="515.8" r="0.8" fill="#cbcdd2"/>
<circle cx="288.4" cy="498.8" r="0.9" fill="#c4c7ce"/>
<circle cx="243.4" cy="498.6" r="0.5" fill="#c4c7ce"/>
<circle cx="315.4" cy="473.6" r="0.8" fill="#d4cdca"/>
<circle cx="223.2" cy="485.1" r="0.4" fill="#c4c7ce"/>
<circle cx="243.3" cy="502.4" r="0.9" fill="#e4e4e6"/>
<circle cx="291.7" cy="459.6" r="1.0" fill="#c4c7ce"/>
<circle cx="283.3" cy="457.6" r="0.5" fill="#d4cdca"/>
<circle cx="247.4" cy="501.9" r="0.7" fill="#d4cdca"/>
<circle cx="244.0" cy="462.3" r="0.6" fill="#e8e8ea"/>
<circle cx="230.2" cy="453.6" r="0.9" fill="#e4e4e6"/>
<circle cx="270.9" cy="503.3" r="0.5" fill="#c4c7ce"/>
<circle cx="240.7" cy="452.5" r="0.4" fill="#e4e4e6"/>
<circle cx="266.6" cy="466.8" r="0.6" fill="#d4cdca"/>
<circle cx="247.5" cy="478.4" r="1.0" fill="#d4cdca"/>
<circle cx="218.3" cy="485.4" r="0.5" fill="#cbcdd2"/>
<circle cx="276.1" cy="499.0" r="0.9" fill="#d4cdca"/>
<circle cx="291.3" cy="462.2" r="0.8" fill="#e4e4e6"/>
<circle cx="285.0" cy="477.5" r="0.8" fill="#e4e4e6"/>
<circle cx="226.9" cy="478.0" r="0.8" fill="#e4e4e6"/>
<circle cx="229.5" cy="461.8" r="0.7" fill="#c4c7ce"/>
<circle cx="243.1" cy="510.9" r="1.0" fill="#e8e8ea"/>
<circle cx="316.0" cy="476.9" r="1.0" fill="#d4cdca"/>
<circle cx="245.0" cy="485.4" r="0.9" fill="#d4cdca"/>
<circle cx="243.8" cy="512.2" r="0.4" fill="#e8e8ea"/>
<circle cx="231.7" cy="495.5" r="0.9" fill="#cbcdd2"/>
<circle cx="284.1" cy="484.9" r="0.8" fill="#d4cdca"/>
<circle cx="232.7" cy="506.5" r="0.4" fill="#e4e4e6"/>
<circle cx="266.1" cy="496.4" r="0.5" fill="#e8e8ea"/>
<circle cx="242.0" cy="497.2" r="0.5" fill="#e4e4e6"/>
<circle cx="298.6" cy="494.7" r="0.4" fill="#cbcdd2"/>
<circle cx="279.2" cy="486.0" r="0.8" fill="#e8e8ea"/>
<circle cx="313.8" cy="472.4" r="0.9" fill="#c4c7ce"/>
<circle cx="225.5" cy="512.1" r="0.9" fill="#d4cdca"/>
<circle cx="214.4" cy="454.4" r="1.1" fill="#c4c7ce"/>
<circle cx="233.4" cy="453.2" r="0.7" fill="#e4e4e6"/>
<circle cx="294.6" cy="484.4" r="1.0" fill="#cbcdd2"/>
<circle cx="255.9" cy="511.1" r="0.7" fill="#e4e4e6"/>
<circle cx="263.1" cy="453.5" r="0.5" fill="#e8e8ea"/>
<circle cx="264.9" cy="450.2" r="0.9" fill="#e8e8ea"/>
<circle cx="255.2" cy="461.9" r="0.9" fill="#cbcdd2"/>
<circle cx="251.3" cy="476.0" r="0.7" fill="#d4cdca"/>
<circle cx="255.2" cy="520.4" r="0.6" fill="#e4e4e6"/>
<circle cx="251.6" cy="511.9" r="0.5" fill="#d4cdca"/>
<circle cx="233.8" cy="461.2" r="0.8" fill="#e8e8ea"/>
<circle cx="281.3" cy="458.8" r="0.5" fill="#d4cdca"/>
<circle cx="265.0" cy="452.9" r="0.7" fill="#cbcdd2"/>
<circle cx="245.9" cy="450.9" r="0.6" fill="#cbcdd2"/>
<circle cx="214.9" cy="485.0" r="0.6" fill="#e4e4e6"/>
<circle cx="253.8" cy="462.6" r="0.8" fill="#c4c7ce"/>
<circle cx="249.0" cy="457.7" r="1.0" fill="#cbcdd2"/>
<circle cx="242.9" cy="521.2" r="1.0" fill="#e8e8ea"/>
<circle cx="317.3" cy="484.7" r="0.6" fill="#d4cdca"/>
<circle cx="301.0" cy="495.1" r="0.6" fill="#c4c7ce"/>
<circle cx="216.9" cy="480.8" r="0.8" fill="#cbcdd2"/>
<circle cx="211.0" cy="450.7" r="0.4" fill="#cbcdd2"/>
<circle cx="266.4" cy="484.2" r="0.9" fill="#e4e4e6"/>
<circle cx="310.5" cy="463.4" r="0.6" fill="#e8e8ea"/>
<circle cx="263.7" cy="474.5" r="0.7" fill="#cbcdd2"/>
<circle cx="294.0" cy="495.3" r="0.5" fill="#e8e8ea"/>
<circle cx="243.2" cy="511.5" r="0.8" fill="#cbcdd2"/>
<circle cx="271.3" cy="488.3" r="0.5" fill="#e8e8ea"/>
<circle cx="292.7" cy="502.9" r="0.7" fill="#d4cdca"/>
<circle cx="231.0" cy="507.9" r="0.6" fill="#e8e8ea"/>
<circle cx="297.1" cy="484.1" r="1.0" fill="#c4c7ce"/>
<circle cx="266.9" cy="504.3" r="1.1" fill="#e8e8ea"/>
<circle cx="215.3" cy="461.2" r="1.0" fill="#cbcdd2"/>
<circle cx="220.8" cy="499.8" r="0.6" fill="#cbcdd2"/>
<circle cx="277.3" cy="507.9" r="1.0" fill="#cbcdd2"/>
<circle cx="307.4" cy="481.8" r="1.1" fill="#c4c7ce"/>
<circle cx="210.8" cy="462.9" r="0.6" fill="#cbcdd2"/>
<circle cx="245.2" cy="481.9" r="0.6" fill="#e4e4e6"/>
<circle cx="216.0" cy="459.8" r="0.8" fill="#e4e4e6"/>
<circle cx="211.9" cy="465.5" r="0.6" fill="#e4e4e6"/>
<circle cx="273.0" cy="479.6" r="0.6" fill="#d4cdca"/>
<circle cx="308.6" cy="506.5" r="0.5" fill="#e8e8ea"/>
<circle cx="219.4" cy="509.7" r="0.8" fill="#cbcdd2"/>
<circle cx="305.9" cy="456.0" r="0.5" fill="#c4c7ce"/>
<circle cx="262.2" cy="465.0" r="0.5" fill="#d4cdca"/>
<circle cx="264.5" cy="498.0" r="0.7" fill="#c4c7ce"/>
<circle cx="284.0" cy="506.1" r="1.0" fill="#c4c7ce"/>
<circle cx="276.6" cy="508.9" r="0.5" fill="#e4e4e6"/>
<circle cx="211.4" cy="470.7" r="0.6" fill="#cbcdd2"/>
<circle cx="231.9" cy="504.3" r="0.9" fill="#d4cdca"/>
<circle cx="251.1" cy="506.6" r="0.8" fill="#cbcdd2"/>
<circle cx="234.4" cy="474.5" r="0.6" fill="#cbcdd2"/>
<circle cx="258.4" cy="454.7" r="0.6" fill="#e4e4e6"/>
<circle cx="293.8" cy="463.8" r="1.0" fill="#e4e4e6"/>
<circle cx="320.1" cy="493.9" r="1.0" fill="#d4cdca"/>
<circle cx="251.4" cy="462.7" r="1.1" fill="#d4cdca"/>
<circle cx="264.3" cy="505.8" r="0.7" fill="#e8e8ea"/>
<circle cx="275.8" cy="451.1" r="0.5" fill="#cbcdd2"/>
<circle cx="221.2" cy="502.0" r="0.8" fill="#c4c7ce"/>
<circle cx="217.4" cy="483.5" r="0.9" fill="#e4e4e6"/>
<circle cx="241.2" cy="480.5" r="0.7" fill="#c4c7ce"/>
<circle cx="232.4" cy="506.4" r="0.5" fill="#e4e4e6"/>
<circle cx="243.8" cy="479.0" r="0.5" fill="#cbcdd2"/>
<circle cx="264.7" cy="508.5" r="1.1" fill="#c4c7ce"/>
<circle cx="319.3" cy="513.4" r="1.1" fill="#c4c7ce"/>
<circle cx="258.5" cy="518.2" r="0.8" fill="#e8e8ea"/>
<circle cx="270.8" cy="475.2" r="0.6" fill="#c4c7ce"/>
<circle cx="262.0" cy="514.2" r="0.9" fill="#c4c7ce"/>
<circle cx="313.8" cy="487.0" r="0.5" fill="#cbcdd2"/>
<circle cx="269.5" cy="488.2" r="1.1" fill="#e4e4e6"/>
<circle cx="210.8" cy="521.4" r="0.6" fill="#e8e8ea"/>
<circle cx="317.8" cy="475.4" r="0.4" fill="#d4cdca"/>
<circle cx="231.1" cy="449.5" r="1.0" fill="#e8e8ea"/>
<circle cx="303.3" cy="493.2" r="0.7" fill="#cbcdd2"/>
<circle cx="239.7" cy="498.3" r="0.7" fill="#e8e8ea"/>
<circle cx="239.5" cy="451.8" r="0.4" fill="#e8e8ea"/>
<circle cx="321.2" cy="460.8" r="0.6" fill="#d4cdca"/>
<circle cx="225.7" cy="504.7" r="0.8" fill="#e8e8ea"/>
<circle cx="302.8" cy="489.4" r="0.4" fill="#c4c7ce"/>
<circle cx="215.6" cy="484.5" r="1.0" fill="#cbcdd2"/>
<circle cx="311.2" cy="483.1" r="0.8" fill="#d4cdca"/>
<circle cx="251.8" cy="495.3" r="0.5" fill="#c4c7ce"/>
<circle cx="286.5" cy="522.0" r="0.5" fill="#d4cdca"/>
<circle cx="296.5" cy="481.4" r="1.0" fill="#c4c7ce"/>
<circle cx="260.8" cy="519.6" r="0.8" fill="#e4e4e6"/>
<circle cx="226.1" cy="451.3" r="1.0" fill="#e8e8ea"/>
<circle cx="302.5" cy="517.5" r="0.6" fill="#d4cdca"/>
<circle cx="245.7" cy="492.8" r="0.7" fill="#cbcdd2"/>
<circle cx="241.7" cy="501.1" r="0.5" fill="#c4c7ce"/>
<circle cx="284.8" cy="476.0" r="0.7" fill="#d4cdca"/>
<circle cx="294.1" cy="509.7" r="0.5" fill="#e8e8ea"/>
<circle cx="312.8" cy="461.9" r="1.1" fill="#e8e8ea"/>
<circle cx="254.6" cy="452.2" r="1.1" fill="#e4e4e6"/>
<circle cx="315.4" cy="472.0" r="0.8" fill="#e8e8ea"/>
<circle cx="214.5" cy="479.4" r="1.1" fill="#e8e8ea"/>
<circle cx="219.4" cy="465.5" r="0.9" fill="#e4e4e6"/>
<circle cx="288.1" cy="457.0" r="0.8" fill="#cbcdd2"/>
<circle cx="301.4" cy="448.9" r="1.1" fill="#c4c7ce"/>
<circle cx="287.4" cy="480.5" r="0.7" fill="#e8e8ea"/>
<circle cx="242.7" cy="490.0" r="0.6" fill="#e4e4e6"/>
<circle cx="316.9" cy="459.2" r="0.9" fill="#e4e4e6"/>
<circle cx="262.5" cy="478.0" r="0.5" fill="#cbcdd2"/>
<circle cx="216.7" cy="504.8" r="0.6" fill="#e4e4e6"/>
<circle cx="282.6" cy="458.2" r="0.4" fill="#e4e4e6"/>
<circle cx="317.2" cy="488.1" r="0.9" fill="#e8e8ea"/>
<circle cx="258.7" cy="462.0" r="0.6" fill="#cbcdd2"/>
<circle cx="225.2" cy="459.3" r="0.7" fill="#e4e4e6"/>
<circle cx="314.7" cy="493.2" r="0.4" fill="#e4e4e6"/>
<circle cx="251.8" cy="459.1" r="0.6" fill="#e8e8ea"/>
<circle cx="249.9" cy="519.0" r="0.5" fill="#e8e8ea"/>
<circle cx="304.6" cy="483.5" r="0.8" fill="#c4c7ce"/>
<circle cx="305.4" cy="481.3" r="0.7" fill="#e8e8ea"/>
<circle cx="270.3" cy="481.3" r="0.7" fill="#d4cdca"/>
<circle cx="253.2" cy="504.6" r="1.1" fill="#c4c7ce"/>
<circle cx="304.8" cy="461.8" r="0.6" fill="#e4e4e6"/>
<circle cx="303.8" cy="458.2" r="1.1" fill="#d4cdca"/>
<circle cx="256.0" cy="513.2" r="0.8" fill="#cbcdd2"/>
<circle cx="228.1" cy="457.6" r="1.1" fill="#e8e8ea"/>
<circle cx="286.7" cy="487.4" r="0.5" fill="#c4c7ce"/>
<circle cx="270.6" cy="481.2" r="0.8" fill="#e4e4e6"/>
<circle cx="234.9" cy="482.3" r="0.7" fill="#d4cdca"/>
<circle cx="245.9" cy="475.1" r="0.9" fill="#d4cdca"/>
<circle cx="290.9" cy="474.0" r="0.6" fill="#c4c7ce"/>
<circle cx="319.0" cy="468.5" r="0.8" fill="#cbcdd2"/>
<circle cx="235.2" cy="522.3" r="0.6" fill="#e4e4e6"/>
<circle cx="317.9" cy="482.1" r="0.6" fill="#e8e8ea"/>
<circle cx="298.1" cy="461.5" r="0.8" fill="#d4cdca"/>
<circle cx="259.6" cy="494.3" r="0.7" fill="#cbcdd2"/>
<circle cx="271.6" cy="493.7" r="0.4" fill="#c4c7ce"/>
<circle cx="305.4" cy="477.0" r="0.7" fill="#cbcdd2"/>
<circle cx="234.4" cy="489.2" r="0.7" fill="#cbcdd2"/>
<circle cx="306.9" cy="501.2" r="0.4" fill="#c4c7ce"/>
<circle cx="251.9" cy="476.0" r="0.7" fill="#e8e8ea"/>
<circle cx="282.9" cy="513.3" r="0.7" fill="#d4cdca"/>
<circle cx="246.5" cy="448.5" r="0.8" fill="#cbcdd2"/>
<circle cx="226.1" cy="454.5" r="0.7" fill="#c4c7ce"/>
<circle cx="232.5" cy="450.6" r="0.8" fill="#c4c7ce"/>
<circle cx="292.5" cy="509.9" r="0.7" fill="#e4e4e6"/>
<circle cx="286.4" cy="457.4" r="0.6" fill="#e8e8ea"/>
<circle cx="226.0" cy="471.2" r="0.5" fill="#d4cdca"/>
<circle cx="302.0" cy="492.9" r="0.7" fill="#cbcdd2"/>
<circle cx="299.0" cy="476.9" r="1.0" fill="#e8e8ea"/>
<circle cx="231.0" cy="468.8" r="0.5" fill="#e8e8ea"/>
<circle cx="281.2" cy="491.9" r="0.7" fill="#c4c7ce"/>
<circle cx="221.4" cy="521.1" r="0.4" fill="#cbcdd2"/>
<circle cx="308.0" cy="503.8" r="0.4" fill="#c4c7ce"/>
<circle cx="211.7" cy="484.1" r="0.8" fill="#e8e8ea"/>
<circle cx="221.1" cy="497.4" r="1.0" fill="#e8e8ea"/>
<circle cx="235.7" cy="472.4" r="1.1" fill="#e8e8ea"/>
<circle cx="216.4" cy="486.9" r="0.8" fill="#d4cdca"/>
<circle cx="274.3" cy="454.8" r="1.0" fill="#e4e4e6"/>
<circle cx="302.1" cy="516.5" r="0.6" fill="#e8e8ea"/>
<circle cx="319.6" cy="497.5" r="0.6" fill="#d4cdca"/>
<circle cx="274.2" cy="473.9" r="0.5" fill="#d4cdca"/>
<circle cx="269.6" cy="494.4" r="0.6" fill="#c4c7ce"/>
<circle cx="306.1" cy="491.8" r="0.5" fill="#d4cdca"/>
<circle cx="217.2" cy="480.6" r="0.8" fill="#c4c7ce"/>
<circle cx="265.4" cy="511.8" r="1.0" fill="#e4e4e6"/>
<circle cx="314.7" cy="457.4" r="0.7" fill="#d4cdca"/>
<circle cx="234.1" cy="462.3" r="0.6" fill="#cbcdd2"/>
<circle cx="238.0" cy="513.7" r="0.6" fill="#cbcdd2"/>
<circle cx="251.3" cy="465.1" r="0.6" fill="#c4c7ce"/>
<circle cx="239.8" cy="499.9" r="0.9" fill="#c4c7ce"/>
<circle cx="233.6" cy="471.0" r="0.8" fill="#e4e4e6"/>
<circle cx="237.8" cy="500.3" r="1.0" fill="#e4e4e6"/>
<circle cx="251.1" cy="465.7" r="0.7" fill="#d4cdca"/>
<circle cx="270.5" cy="492.8" r="0.7" fill="#c4c7ce"/>
<circle cx="216.8" cy="506.8" r="0.7" fill="#e8e8ea"/>
<circle cx="274.9" cy="468.4" r="0.9" fill="#e8e8ea"/>
<circle cx="235.2" cy="509.1" r="0.6" fill="#e8e8ea"/>
<circle cx="321.1" cy="484.3" r="0.5" fill="#e4e4e6"/>
<circle cx="257.1" cy="512.5" r="0.8" fill="#e4e4e6"/>
<circle cx="222.5" cy="487.6" r="0.7" fill="#c4c7ce"/>
<circle cx="270.5" cy="512.5" r="0.7" fill="#e8e8ea"/>
<circle cx="215.2" cy="474.2" r="0.8" fill="#e4e4e6"/>
<circle cx="288.5" cy="520.8" r="0.6" fill="#d4cdca"/>
<circle cx="309.6" cy="514.0" r="0.6" fill="#d4cdca"/>
<circle cx="256.1" cy="516.9" r="1.0" fill="#c4c7ce"/>
<circle cx="257.5" cy="489.9" r="0.7" fill="#c4c7ce"/>
<circle cx="251.7" cy="461.9" r="0.9" fill="#c4c7ce"/>
<circle cx="273.0" cy="477.1" r="0.6" fill="#cbcdd2"/>
<circle cx="228.6" cy="516.3" r="0.5" fill="#e8e8ea"/>
<circle cx="254.4" cy="463.0" r="0.8" fill="#e8e8ea"/>
<circle cx="251.2" cy="502.1" r="0.7" fill="#d4cdca"/>
<circle cx="233.0" cy="485.9" r="0.5" fill="#e4e4e6"/>
<circle cx="271.9" cy="457.2" r="1.0" fill="#e8e8ea"/>
<circle cx="267.8" cy="477.9" r="0.7" fill="#cbcdd2"/>
<circle cx="286.5" cy="465.6" r="0.5" fill="#c4c7ce"/>
<circle cx="315.8" cy="483.8" r="0.5" fill="#e8e8ea"/>
<circle cx="251.6" cy="499.0" r="0.8" fill="#c4c7ce"/>
<circle cx="267.3" cy="463.3" r="0.6" fill="#e4e4e6"/>
<circle cx="239.3" cy="474.3" r="1.0" fill="#c4c7ce"/>
<circle cx="221.5" cy="500.6" r="0.6" fill="#cbcdd2"/>
<circle cx="261.3" cy="520.7" r="1.0" fill="#c4c7ce"/>
<circle cx="226.4" cy="451.7" r="0.6" fill="#e8e8ea"/>
<circle cx="267.1" cy="476.1" r="0.9" fill="#e8e8ea"/>
<circle cx="266.6" cy="499.4" r="1.1" fill="#e8e8ea"/>
<circle cx="258.3" cy="470.4" r="0.8" fill="#c4c7ce"/>
<circle cx="253.7" cy="452.0" r="0.7" fill="#e4e4e6"/>
<circle cx="210.8" cy="507.1" r="0.8" fill="#e4e4e6"/>
<circle cx="316.4" cy="511.3" r="0.6" fill="#c4c7ce"/>
<circle cx="280.3" cy="490.3" r="0.5" fill="#c4c7ce"/>
<circle cx="228.2" cy="521.2" r="0.7" fill="#cbcdd2"/>
<circle cx="292.6" cy="459.6" r="0.6" fill="#d4cdca"/>
<circle cx="301.1" cy="502.6" r="0.5" fill="#c4c7ce"/>
<circle cx="280.0" cy="514.0" r="0.5" fill="#e4e4e6"/>
<circle cx="288.1" cy="495.1" r="0.7" fill="#d4cdca"/>
<circle cx="261.2" cy="522.2" r="0.7" fill="#d4cdca"/>
<circle cx="230.1" cy="509.8" r="0.6" fill="#cbcdd2"/>
<circle cx="288.1" cy="461.2" r="0.6" fill="#cbcdd2"/>
<circle cx="291.2" cy="510.3" r="0.5" fill="#c4c7ce"/>
<circle cx="299.6" cy="477.3" r="0.7" fill="#d4cdca"/>
<circle cx="284.7" cy="472.7" r="0.7" fill="#e4e4e6"/>
<circle cx="236.9" cy="448.9" r="0.6" fill="#e4e4e6"/>
<circle cx="256.8" cy="455.6" r="1.1" fill="#c4c7ce"/>
<circle cx="223.3" cy="497.9" r="0.6" fill="#e4e4e6"/>
<circle cx="213.4" cy="450.5" r="0.6" fill="#c4c7ce"/>
<circle cx="261.0" cy="486.3" r="0.7" fill="#d4cdca"/>
<circle cx="310.3" cy="464.0" r="0.7" fill="#d4cdca"/>
<circle cx="244.8" cy="453.2" r="0.8" fill="#e8e8ea"/>
<circle cx="221.7" cy="517.2" r="1.1" fill="#d4cdca"/>
<circle cx="227.0" cy="487.0" r="1.1" fill="#c4c7ce"/>
<circle cx="229.3" cy="475.6" r="0.5" fill="#c4c7ce"/>
<circle cx="266.0" cy="484.0" r="0.9" fill="#e4e4e6"/>
<circle cx="296.1" cy="450.0" r="0.7" fill="#cbcdd2"/>
<circle cx="211.1" cy="501.0" r="1.0" fill="#e8e8ea"/>
<circle cx="215.9" cy="498.5" r="1.0" fill="#c4c7ce"/>
<circle cx="265.1" cy="506.2" r="0.6" fill="#e4e4e6"/>
<circle cx="273.1" cy="478.6" r="0.5" fill="#cbcdd2"/>
<circle cx="286.2" cy="466.1" r="0.9" fill="#e4e4e6"/>
<circle cx="269.5" cy="505.5" r="0.5" fill="#d4cdca"/>
<circle cx="228.9" cy="519.8" r="0.8" fill="#c4c7ce"/>
<circle cx="317.4" cy="449.0" r="0.7" fill="#cbcdd2"/>
<circle cx="266.1" cy="454.9" r="0.8" fill="#c4c7ce"/>
<circle cx="254.0" cy="483.0" r="1.1" fill="#d4cdca"/>
<circle cx="246.4" cy="484.2" r="1.0" fill="#c4c7ce"/>
<circle cx="293.6" cy="463.7" r="0.9" fill="#cbcdd2"/>
<circle cx="293.2" cy="519.4" r="0.9" fill="#e8e8ea"/>
<circle cx="290.5" cy="493.0" r="1.1" fill="#e4e4e6"/>
<circle cx="216.0" cy="478.3" r="0.5" fill="#e8e8ea"/>
<circle cx="221.5" cy="461.7" r="0.7" fill="#d4cdca"/>
<circle cx="258.5" cy="479.7" r="0.6" fill="#d4cdca"/>
<circle cx="258.4" cy="451.5" r="0.7" fill="#e8e8ea"/>
<circle cx="291.1" cy="468.7" r="0.5" fill="#e4e4e6"/>
<circle cx="308.2" cy="505.2" r="0.8" fill="#cbcdd2"/>
<circle cx="291.4" cy="456.2" r="0.7" fill="#e8e8ea"/>
<circle cx="252.6" cy="485.8" r="0.8" fill="#e8e8ea"/>
<circle cx="263.2" cy="452.8" r="0.9" fill="#d4cdca"/>
<circle cx="312.2" cy="462.9" r="1.1" fill="#cbcdd2"/>
<circle cx="225.9" cy="506.0" r="0.5" fill="#cbcdd2"/>
<circle cx="276.6" cy="518.7" r="0.8" fill="#c4c7ce"/>
<circle cx="224.9" cy="479.8" r="0.5" fill="#e4e4e6"/>
<circle cx="287.2" cy="494.9" r="0.6" fill="#e8e8ea"/>
<circle cx="259.8" cy="517.3" r="0.8" fill="#c4c7ce"/>
<circle cx="276.2" cy="473.9" r="0.7" fill="#d4cdca"/>
<circle cx="318.9" cy="469.4" r="0.5" fill="#cbcdd2"/>
<circle cx="253.8" cy="511.8" r="0.6" fill="#c4c7ce"/>
<circle cx="310.6" cy="473.2" r="0.9" fill="#c4c7ce"/>
<circle cx="303.1" cy="463.9" r="0.4" fill="#e8e8ea"/>
<circle cx="282.1" cy="509.0" r="1.1" fill="#e4e4e6"/>
<circle cx="294.2" cy="509.2" r="1.0" fill="#cbcdd2"/>
<circle cx="248.8" cy="470.0" r="1.1" fill="#c4c7ce"/>
<circle cx="311.1" cy="516.2" r="0.9" fill="#d4cdca"/>
<circle cx="261.0" cy="467.1" r="1.0" fill="#d4cdca"/>
<circle cx="240.1" cy="469.9" r="0.5" fill="#d4cdca"/>
<circle cx="313.0" cy="471.6" r="0.5" fill="#cbcdd2"/>
<circle cx="310.3" cy="478.0" r="1.0" fill="#c4c7ce"/>
<circle cx="297.0" cy="466.1" r="0.8" fill="#cbcdd2"/>
<circle cx="224.2" cy="461.3" r="0.6" fill="#c4c7ce"/>
<circle cx="229.4" cy="472.8" r="0.9" fill="#cbcdd2"/>
<circle cx="278.0" cy="453.5" r="0.8" fill="#c4c7ce"/>
<circle cx="212.8" cy="481.3" r="1.1" fill="#e8e8ea"/>
<circle cx="229.3" cy="448.6" r="0.7" fill="#e4e4e6"/>
<circle cx="305.4" cy="469.1" r="0.5" fill="#d4cdca"/>
<circle cx="261.7" cy="483.6" r="0.9" fill="#c4c7ce"/>
<circle cx="314.3" cy="472.9" r="0.7" fill="#d4cdca"/>
<circle cx="260.7" cy="483.5" r="0.5" fill="#c4c7ce"/>
<circle cx="319.5" cy="457.0" r="0.5" fill="#e4e4e6"/>
<circle cx="298.9" cy="467.8" r="0.7" fill="#cbcdd2"/>
<circle cx="211.1" cy="464.9" r="1.0" fill="#c4c7ce"/>
<circle cx="319.3" cy="452.4" r="0.5" fill="#e8e8ea"/>
<circle cx="281.7" cy="485.7" r="0.9" fill="#c4c7ce"/>
<circle cx="298.9" cy="522.5" r="1.0" fill="#e8e8ea"/>
<circle cx="271.5" cy="454.5" r="0.9" fill="#cbcdd2"/>
<circle cx="233.0" cy="456.2" r="0.9" fill="#cbcdd2"/>
<circle cx="213.8" cy="464.1" r="0.4" fill="#e8e8ea"/>
<circle cx="267.3" cy="518.0" r="0.6" fill="#e4e4e6"/>
<circle cx="260.0" cy="521.1" r="0.9" fill="#c4c7ce"/>
<circle cx="288.1" cy="449.6" r="0.9" fill="#e4e4e6"/>
<circle cx="282.3" cy="449.6" r="0.7" fill="#d4cdca"/>
<circle cx="288.5" cy="474.3" r="0.8" fill="#d4cdca"/>
<circle cx="284.9" cy="458.6" r="1.0" fill="#c4c7ce"/>
<circle cx="241.8" cy="465.9" r="0.8" fill="#e4e4e6"/>
<circle cx="247.6" cy="508.3" r="0.8" fill="#e4e4e6"/>
<circle cx="288.1" cy="472.1" r="0.6" fill="#c4c7ce"/>
<circle cx="294.0" cy="461.2" r="0.5" fill="#c4c7ce"/>
<circle cx="313.6" cy="502.6" r="0.7" fill="#d4cdca"/>
<circle cx="317.8" cy="486.3" r="1.0" fill="#e4e4e6"/>
<circle cx="280.1" cy="449.1" r="0.7" fill="#c4c7ce"/>
<circle cx="216.7" cy="496.0" r="0.9" fill="#d4cdca"/>
<circle cx="277.4" cy="494.3" r="0.8" fill="#e8e8ea"/>
<circle cx="293.2" cy="506.1" r="1.0" fill="#e4e4e6"/>
<circle cx="321.4" cy="455.0" r="1.0" fill="#cbcdd2"/>
<circle cx="297.5" cy="477.8" r="0.5" fill="#e4e4e6"/>
<circle cx="239.7" cy="458.4" r="1.0" fill="#d4cdca"/>
<circle cx="239.7" cy="522.0" r="0.8" fill="#e4e4e6"/>
<circle cx="237.0" cy="498.5" r="0.6" fill="#cbcdd2"/>
<circle cx="283.8" cy="508.7" r="0.4" fill="#cbcdd2"/>
<circle cx="259.4" cy="484.7" r="1.0" fill="#cbcdd2"/>
<circle cx="281.3" cy="506.5" r="0.8" fill="#e4e4e6"/>
<circle cx="275.5" cy="485.3" r="0.7" fill="#d4cdca"/>
<circle cx="237.3" cy="463.4" r="0.7" fill="#cbcdd2"/>
<circle cx="270.2" cy="474.2" r="0.5" fill="#cbcdd2"/>
<circle cx="263.2" cy="472.7" r="1.0" fill="#e4e4e6"/>
<circle cx="275.1" cy="466.2" r="0.8" fill="#d4cdca"/>
<circle cx="217.5" cy="504.2" r="0.9" fill="#e4e4e6"/>
<circle cx="246.0" cy="490.8" r="0.6" fill="#d4cdca"/>
<circle cx="306.3" cy="509.2" r="0.7" fill="#d4cdca"/>
<circle cx="261.0" cy="498.1" r="0.4" fill="#e8e8ea"/>
<circle cx="312.8" cy="510.8" r="0.5" fill="#d4cdca"/>
<circle cx="312.5" cy="479.6" r="0.5" fill="#c4c7ce"/>
<circle cx="230.6" cy="507.7" r="0.7" fill="#cbcdd2"/>
<circle cx="215.5" cy="499.6" r="0.9" fill="#e8e8ea"/>
<circle cx="286.8" cy="511.1" r="1.1" fill="#cbcdd2"/>
<circle cx="315.1" cy="462.1" r="1.0" fill="#c4c7ce"/>
<circle cx="292.7" cy="517.3" r="0.6" fill="#d4cdca"/>
<circle cx="267.0" cy="504.0" r="0.7" fill="#e8e8ea"/>
<circle cx="250.0" cy="494.0" r="0.7" fill="#e4e4e6"/>
<circle cx="292.3" cy="466.6" r="0.7" fill="#e4e4e6"/>
<circle cx="232.2" cy="490.8" r="1.1" fill="#e8e8ea"/>
<circle cx="294.9" cy="487.7" r="1.0" fill="#e8e8ea"/>
<circle cx="228.9" cy="509.8" r="1.1" fill="#c4c7ce"/>
<circle cx="294.9" cy="477.6" r="0.7" fill="#e4e4e6"/>
<circle cx="222.4" cy="513.2" r="0.7" fill="#d4cdca"/>
<circle cx="298.6" cy="467.7" r="0.9" fill="#e8e8ea"/>
<circle cx="296.5" cy="459.9" r="0.8" fill="#c4c7ce"/>
<circle cx="242.3" cy="521.1" r="0.9" fill="#d4cdca"/>
<circle cx="241.5" cy="462.9" r="0.9" fill="#e8e8ea"/>
<circle cx="234.3" cy="501.9" r="0.6" fill="#d4cdca"/>
<circle cx="307.3" cy="468.0" r="0.9" fill="#e4e4e6"/>
<circle cx="294.0" cy="521.3" r="0.8" fill="#cbcdd2"/>
<circle cx="316.8" cy="449.9" r="0.7" fill="#d4cdca"/>
<circle cx="304.7" cy="519.2" r="0.8" fill="#d4cdca"/>
<circle cx="314.7" cy="471.6" r="0.5" fill="#c4c7ce"/>
<circle cx="268.9" cy="467.6" r="1.0" fill="#e4e4e6"/>
<circle cx="263.1" cy="504.4" r="0.6" fill="#e8e8ea"/>
<circle cx="237.2" cy="498.6" r="0.9" fill="#d4cdca"/>
<circle cx="295.0" cy="454.7" r="0.4" fill="#c4c7ce"/>
<circle cx="273.3" cy="484.6" r="0.8" fill="#cbcdd2"/>
<circle cx="258.6" cy="457.1" r="0.6" fill="#e8e8ea"/>
<circle cx="301.0" cy="474.8" r="0.7" fill="#d4cdca"/>
<circle cx="219.2" cy="520.5" r="0.9" fill="#cbcdd2"/>
<circle cx="259.2" cy="502.7" r="0.8" fill="#c4c7ce"/>
<circle cx="306.0" cy="492.2" r="0.6" fill="#c4c7ce"/>
<circle cx="281.6" cy="466.9" r="1.0" fill="#c4c7ce"/>
<circle cx="216.0" cy="454.1" r="0.4" fill="#d4cdca"/>
<circle cx="232.4" cy="465.2" r="0.5" fill="#cbcdd2"/>
<circle cx="229.4" cy="505.3" r="0.7" fill="#e4e4e6"/>
<circle cx="266.5" cy="450.2" r="1.0" fill="#cbcdd2"/>
<circle cx="233.6" cy="506.7" r="0.9" fill="#e8e8ea"/>
<circle cx="222.7" cy="455.0" r="0.8" fill="#cbcdd2"/>
<circle cx="244.3" cy="510.2" r="0.5" fill="#e4e4e6"/>
<circle cx="231.0" cy="499.6" r="1.0" fill="#cbcdd2"/>
<circle cx="266.1" cy="459.9" r="0.6" fill="#e4e4e6"/>
<circle cx="264.4" cy="478.5" r="1.0" fill="#cbcdd2"/>
<circle cx="236.2" cy="470.8" r="1.0" fill="#c4c7ce"/>
<circle cx="281.7" cy="460.3" r="0.4" fill="#d4cdca"/>
<circle cx="222.8" cy="506.5" r="1.0" fill="#cbcdd2"/>
<circle cx="303.6" cy="489.6" r="0.9" fill="#c4c7ce"/>
<circle cx="272.5" cy="480.0" r="0.6" fill="#cbcdd2"/>
<circle cx="259.2" cy="485.7" r="0.5" fill="#e4e4e6"/>
<circle cx="318.3" cy="491.2" r="1.0" fill="#d4cdca"/>
<circle cx="235.7" cy="514.2" r="0.6" fill="#d4cdca"/>
<circle cx="224.5" cy="507.8" r="0.4" fill="#e8e8ea"/>
<circle cx="253.4" cy="510.2" r="0.7" fill="#d4cdca"/>
<circle cx="293.3" cy="455.1" r="0.4" fill="#e8e8ea"/>
<circle cx="318.2" cy="466.1" r="1.0" fill="#d4cdca"/>
<circle cx="316.5" cy="483.3" r="0.6" fill="#e8e8ea"/>
<circle cx="303.0" cy="456.6" r="0.8" fill="#c4c7ce"/>
<circle cx="217.5" cy="518.3" r="0.4" fill="#c4c7ce"/>
<circle cx="230.5" cy="457.4" r="0.9" fill="#c4c7ce"/>
<circle cx="279.5" cy="483.3" r="1.0" fill="#cbcdd2"/>
<circle cx="301.9" cy="501.5" r="0.4" fill="#e8e8ea"/>
<circle cx="248.7" cy="511.0" r="0.5" fill="#c4c7ce"/>
<circle cx="292.7" cy="472.2" r="0.6" fill="#d4cdca"/>
<circle cx="293.5" cy="476.6" r="0.6" fill="#e8e8ea"/>
<circle cx="287.0" cy="464.3" r="1.1" fill="#d4cdca"/>
<circle cx="253.8" cy="519.8" r="1.0" fill="#d4cdca"/>
<circle cx="291.5" cy="489.0" r="0.9" fill="#c4c7ce"/>
<circle cx="232.3" cy="486.9" r="0.7" fill="#d4cdca"/>
<circle cx="316.5" cy="495.5" r="1.0" fill="#c4c7ce"/>
<circle cx="300.8" cy="459.1" r="0.4" fill="#d4cdca"/>
<circle cx="229.7" cy="520.8" r="0.9" fill="#c4c7ce"/>
<circle cx="256.6" cy="508.3" r="0.8" fill="#e8e8ea"/>
<circle cx="244.1" cy="478.5" r="1.0" fill="#e8e8ea"/>
<circle cx="244.3" cy="501.2" r="0.8" fill="#d4cdca"/>
<circle cx="245.6" cy="456.4" r="0.8" fill="#e8e8ea"/>
<circle cx="239.4" cy="482.9" r="1.1" fill="#cbcdd2"/>
<circle cx="261.0" cy="490.7" r="1.0" fill="#d4cdca"/>
<circle cx="228.6" cy="456.5" r="0.9" fill="#e8e8ea"/>
<circle cx="234.1" cy="480.9" r="0.9" fill="#cbcdd2"/>
<circle cx="275.4" cy="469.9" r="0.5" fill="#c4c7ce"/>
<circle cx="276.3" cy="462.4" r="0.4" fill="#cbcdd2"/>
<circle cx="256.2" cy="477.3" r="1.0" fill="#e8e8ea"/>
<circle cx="258.4" cy="449.6" r="0.7" fill="#cbcdd2"/>
<circle cx="307.0" cy="481.9" r="0.5" fill="#e4e4e6"/>
<circle cx="288.3" cy="461.6" r="0.5" fill="#c4c7ce"/>
<circle cx="273.9" cy="515.8" r="0.8" fill="#c4c7ce"/>
<circle cx="245.0" cy="496.0" r="0.6" fill="#d4cdca"/>
<circle cx="247.2" cy="448.7" r="0.9" fill="#e8e8ea"/>
<circle cx="319.2" cy="451.2" r="1.1" fill="#c4c7ce"/>
<circle cx="211.5" cy="467.0" r="0.8" fill="#c4c7ce"/>
<circle cx="218.3" cy="495.2" r="0.7" fill="#cbcdd2"/>
<circle cx="212.7" cy="482.0" r="0.5" fill="#d4cdca"/>
<circle cx="255.3" cy="459.8" r="0.5" fill="#d4cdca"/>
<circle cx="218.8" cy="457.1" r="0.6" fill="#cbcdd2"/>
<circle cx="246.5" cy="481.6" r="0.4" fill="#d4cdca"/>
<circle cx="235.7" cy="454.1" r="0.7" fill="#cbcdd2"/>
<circle cx="306.3" cy="466.6" r="1.0" fill="#e4e4e6"/>
<circle cx="302.5" cy="461.2" r="0.7" fill="#c4c7ce"/>
<circle cx="247.5" cy="456.0" r="0.7" fill="#e4e4e6"/>
<circle cx="248.6" cy="461.6" r="0.5" fill="#e4e4e6"/>
<circle cx="316.9" cy="483.3" r="0.8" fill="#c4c7ce"/>
<circle cx="268.4" cy="485.7" r="0.4" fill="#e8e8ea"/>
<circle cx="222.1" cy="453.9" r="0.6" fill="#d4cdca"/>
<circle cx="245.7" cy="496.1" r="0.5" fill="#e4e4e6"/>
<circle cx="280.1" cy="510.1" r="0.8" fill="#d4cdca"/>
<circle cx="288.6" cy="512.5" r="0.6" fill="#e4e4e6"/>
<circle cx="320.3" cy="507.2" r="0.5" fill="#e4e4e6"/>
<circle cx="305.1" cy="478.1" r="0.6" fill="#cbcdd2"/>
<circle cx="241.8" cy="471.4" r="0.7" fill="#c4c7ce"/>
<circle cx="310.7" cy="473.1" r="0.6" fill="#c4c7ce"/>
<circle cx="274.4" cy="490.6" r="1.0" fill="#cbcdd2"/>
<circle cx="289.1" cy="462.9" r="0.8" fill="#c4c7ce"/>
<circle cx="264.2" cy="490.5" r="0.9" fill="#c4c7ce"/>
<circle cx="287.5" cy="520.3" r="0.7" fill="#cbcdd2"/>
<circle cx="223.6" cy="485.4" r="0.6" fill="#e4e4e6"/>
<circle cx="227.1" cy="473.1" r="0.6" fill="#d4cdca"/>
<circle cx="311.9" cy="471.1" r="0.5" fill="#c4c7ce"/>
<circle cx="259.8" cy="458.0" r="0.6" fill="#e4e4e6"/>
<circle cx="320.1" cy="492.6" r="0.6" fill="#d4cdca"/>
<circle cx="245.1" cy="472.3" r="1.0" fill="#cbcdd2"/>
<circle cx="236.5" cy="521.1" r="0.6" fill="#cbcdd2"/>
<circle cx="321.3" cy="456.5" r="0.8" fill="#e4e4e6"/>
<circle cx="264.8" cy="467.7" r="0.6" fill="#c4c7ce"/>
<circle cx="242.3" cy="507.6" r="1.0" fill="#cbcdd2"/>
<circle cx="223.8" cy="480.1" r="1.1" fill="#d4cdca"/>
<circle cx="290.7" cy="460.4" r="0.7" fill="#d4cdca"/>
<circle cx="240.9" cy="494.7" r="0.7" fill="#cbcdd2"/>
<circle cx="211.8" cy="510.1" r="0.6" fill="#d4cdca"/>
<circle cx="283.7" cy="467.4" r="0.4" fill="#c4c7ce"/>
<circle cx="292.7" cy="461.3" r="0.8" fill="#e4e4e6"/>
<circle cx="218.9" cy="449.1" r="1.1" fill="#e8e8ea"/>
<circle cx="317.9" cy="505.2" r="0.5" fill="#e4e4e6"/>
<circle cx="295.8" cy="495.8" r="0.6" fill="#d4cdca"/>
<circle cx="234.2" cy="466.4" r="0.8" fill="#d4cdca"/>
<circle cx="277.4" cy="496.4" r="0.9" fill="#cbcdd2"/>
<circle cx="265.9" cy="499.2" r="1.1" fill="#e4e4e6"/>
<circle cx="294.6" cy="474.5" r="0.6" fill="#cbcdd2"/>
<circle cx="269.7" cy="471.7" r="0.5" fill="#d4cdca"/>
<circle cx="274.6" cy="467.4" r="0.5" fill="#d4cdca"/>
<circle cx="260.0" cy="470.3" r="0.5" fill="#e8e8ea"/>
<circle cx="241.7" cy="452.4" r="0.6" fill="#e8e8ea"/>
<circle cx="235.5" cy="521.9" r="0.5" fill="#c4c7ce"/>
<circle cx="237.2" cy="463.6" r="0.4" fill="#c4c7ce"/>
<circle cx="212.3" cy="489.6" r="0.7" fill="#d4cdca"/>
<circle cx="284.0" cy="509.7" r="0.9" fill="#e8e8ea"/>
<circle cx="252.4" cy="475.8" r="0.4" fill="#d4cdca"/>
<circle cx="267.6" cy="485.7" r="0.8" fill="#e4e4e6"/>
<circle cx="227.5" cy="471.7" r="0.5" fill="#cbcdd2"/>
<circle cx="242.2" cy="487.1" r="0.6" fill="#e8e8ea"/>
<circle cx="316.2" cy="500.7" r="0.8" fill="#cbcdd2"/>
<circle cx="277.2" cy="455.1" r="0.9" fill="#d4cdca"/>
<circle cx="302.7" cy="480.6" r="0.5" fill="#cbcdd2"/>
<circle cx="287.9" cy="474.1" r="0.5" fill="#cbcdd2"/>
<circle cx="225.0" cy="494.0" r="1.1" fill="#d4cdca"/>
<circle cx="272.3" cy="498.6" r="0.6" fill="#e8e8ea"/>
<circle cx="233.7" cy="488.9" r="0.6" fill="#d4cdca"/>
<circle cx="281.2" cy="506.6" r="0.9" fill="#c4c7ce"/>
<circle cx="270.0" cy="500.0" r="0.7" fill="#e4e4e6"/>
<circle cx="250.8" cy="469.8" r="0.9" fill="#c4c7ce"/>
<circle cx="257.1" cy="475.2" r="0.5" fill="#e8e8ea"/>
<circle cx="307.8" cy="480.3" r="0.7" fill="#e8e8ea"/>
<circle cx="305.0" cy="487.4" r="0.6" fill="#c4c7ce"/>
<circle cx="262.3" cy="450.8" r="0.5" fill="#c4c7ce"/>
<circle cx="311.5" cy="452.2" r="1.0" fill="#cbcdd2"/>
<circle cx="252.1" cy="487.8" r="1.0" fill="#d4cdca"/>
<circle cx="291.8" cy="448.8" r="1.0" fill="#cbcdd2"/>
<circle cx="233.3" cy="491.5" r="0.6" fill="#e8e8ea"/>
<circle cx="293.8" cy="476.4" r="1.0" fill="#d4cdca"/>
<circle cx="254.8" cy="475.1" r="0.8" fill="#e4e4e6"/>
<circle cx="265.6" cy="498.9" r="0.8" fill="#e4e4e6"/>
<circle cx="298.2" cy="464.2" r="1.1" fill="#cbcdd2"/>
<circle cx="239.8" cy="506.3" r="0.9" fill="#c4c7ce"/>
<circle cx="225.4" cy="509.5" r="0.7" fill="#cbcdd2"/>
<circle cx="252.6" cy="483.2" r="0.4" fill="#e4e4e6"/>
<circle cx="220.7" cy="467.7" r="0.9" fill="#e4e4e6"/>
<circle cx="310.1" cy="504.1" r="1.0" fill="#e4e4e6"/>
<circle cx="315.5" cy="498.2" r="1.0" fill="#cbcdd2"/>
<circle cx="289.5" cy="505.1" r="0.6" fill="#e8e8ea"/>
<circle cx="277.0" cy="457.5" r="0.6" fill="#d4cdca"/>
<circle cx="276.1" cy="468.9" r="0.9" fill="#e4e4e6"/>
<circle cx="272.7" cy="512.6" r="1.0" fill="#d4cdca"/>
<circle cx="307.9" cy="483.7" r="0.5" fill="#d4cdca"/>
<circle cx="313.8" cy="495.3" r="1.0" fill="#cbcdd2"/>
<circle cx="210.9" cy="515.4" r="1.0" fill="#c4c7ce"/>
<circle cx="245.5" cy="492.8" r="0.6" fill="#e4e4e6"/>
<circle cx="241.4" cy="467.0" r="0.7" fill="#d4cdca"/>
<circle cx="227.8" cy="474.8" r="0.6" fill="#d4cdca"/>
<circle cx="302.1" cy="454.8" r="0.8" fill="#d4cdca"/>
<circle cx="299.5" cy="471.0" r="0.8" fill="#e4e4e6"/>
<circle cx="213.2" cy="454.9" r="1.0" fill="#d4cdca"/>
<circle cx="291.0" cy="486.1" r="0.8" fill="#d4cdca"/>
<circle cx="316.8" cy="452.6" r="0.8" fill="#e4e4e6"/>
<circle cx="265.3" cy="479.3" r="0.6" fill="#d4cdca"/>
<circle cx="237.0" cy="502.8" r="0.7" fill="#d4cdca"/>
<circle cx="293.3" cy="508.6" r="0.5" fill="#e8e8ea"/>
<circle cx="234.8" cy="483.6" r="0.7" fill="#cbcdd2"/>
<circle cx="251.7" cy="510.4" r="0.6" fill="#cbcdd2"/>
<circle cx="222.6" cy="487.3" r="0.5" fill="#e8e8ea"/>
<circle cx="275.5" cy="489.3" r="0.7" fill="#c4c7ce"/>
<circle cx="318.6" cy="497.7" r="0.7" fill="#d4cdca"/>
<circle cx="231.2" cy="519.1" r="0.7" fill="#d4cdca"/>
<circle cx="288.2" cy="516.0" r="0.5" fill="#cbcdd2"/>
<circle cx="271.1" cy="515.2" r="0.5" fill="#cbcdd2"/>
<circle cx="304.1" cy="484.8" r="0.9" fill="#c4c7ce"/>
<circle cx="240.8" cy="464.3" r="1.1" fill="#cbcdd2"/>
<circle cx="300.0" cy="491.8" r="0.9" fill="#d4cdca"/>
<circle cx="318.2" cy="485.8" r="0.6" fill="#d4cdca"/>
<circle cx="302.4" cy="519.2" r="0.4" fill="#d4cdca"/>
<circle cx="308.6" cy="466.3" r="0.7" fill="#e8e8ea"/>
<circle cx="280.1" cy="481.5" r="0.5" fill="#d4cdca"/>
<circle cx="268.9" cy="501.1" r="1.0" fill="#e4e4e6"/>
<circle cx="239.9" cy="485.7" r="1.0" fill="#cbcdd2"/>
<circle cx="278.0" cy="477.3" r="0.6" fill="#c4c7ce"/>
<circle cx="299.3" cy="477.8" r="0.4" fill="#cbcdd2"/>
<circle cx="287.0" cy="507.6" r="1.0" fill="#d4cdca"/>
<circle cx="278.7" cy="512.7" r="1.0" fill="#d4cdca"/>
<circle cx="218.9" cy="493.4" r="0.5" fill="#c4c7ce"/>
<circle cx="317.6" cy="513.9" r="1.0" fill="#cbcdd2"/>
<circle cx="262.8" cy="486.1" r="1.0" fill="#cbcdd2"/>
<circle cx="215.0" cy="464.5" r="0.8" fill="#d4cdca"/>
<circle cx="218.6" cy="495.5" r="0.4" fill="#cbcdd2"/>
<circle cx="259.2" cy="468.8" r="0.5" fill="#e4e4e6"/>
<circle cx="315.0" cy="475.3" r="0.9" fill="#e8e8ea"/>
<circle cx="261.2" cy="502.7" r="1.0" fill="#d4cdca"/>
<circle cx="251.4" cy="478.6" r="0.4" fill="#e8e8ea"/>
<circle cx="261.2" cy="519.1" r="0.7" fill="#d4cdca"/>
<circle cx="224.9" cy="468.5" r="0.5" fill="#e4e4e6"/>
<circle cx="220" cy="463.5" r="8" fill="#e4e4e7"/>
<circle cx="219" cy="480" r="8.5" fill="#e4e4e7"/>
<circle cx="237.3" cy="497" r="9" fill="#e4e4e7"/>
<circle cx="254.7" cy="483" r="9.5" fill="#e4e4e7"/>
<circle cx="229" cy="514" r="8.5" fill="#e4e4e7"/>
<circle cx="247" cy="515" r="7" fill="#e4e4e7"/>
<circle cx="270.8" cy="467" r="6" fill="#e4e4e7"/>
<circle cx="285" cy="460" r="5" fill="#e4e4e7"/>
<circle cx="300" cy="470" r="4.5" fill="#e4e4e7"/>
<circle cx="290" cy="505" r="5" fill="#e4e4e7"/>
<circle cx="262" cy="516" r="5" fill="#e4e4e7"/>
<circle cx="226" cy="452" r="5" fill="#e4e4e7"/>
<circle cx="310" cy="512" r="4" fill="#e4e4e7"/>
<circle cx="251.2" cy="453.1" r="1.7" fill="#e8d8d4"/><circle cx="251.2" cy="453.1" r="1.3" fill="#5e2a22"/>
<circle cx="243.1" cy="459.3" r="1.7" fill="#e8d8d4"/><circle cx="243.1" cy="459.3" r="1.3" fill="#5e2a22"/>
<circle cx="229.2" cy="466.9" r="1.7" fill="#e8d8d4"/><circle cx="229.2" cy="466.9" r="1.3" fill="#5e2a22"/>
<circle cx="237.8" cy="467.6" r="1.7" fill="#e8d8d4"/><circle cx="237.8" cy="467.6" r="1.3" fill="#5e2a22"/>
<circle cx="233.2" cy="475.7" r="1.7" fill="#e8d8d4"/><circle cx="233.2" cy="475.7" r="1.3" fill="#5e2a22"/>
<circle cx="261.6" cy="468.6" r="1.7" fill="#e8d8d4"/><circle cx="261.6" cy="468.6" r="1.3" fill="#5e2a22"/>
<circle cx="316.5" cy="477.3" r="1.7" fill="#e8d8d4"/><circle cx="316.5" cy="477.3" r="1.3" fill="#5e2a22"/>
<circle cx="290.5" cy="485.4" r="1.7" fill="#e8d8d4"/><circle cx="290.5" cy="485.4" r="1.3" fill="#5e2a22"/>
<circle cx="298.5" cy="492.8" r="1.7" fill="#e8d8d4"/><circle cx="298.5" cy="492.8" r="1.3" fill="#5e2a22"/>
<circle cx="263.2" cy="497.7" r="1.7" fill="#e8d8d4"/><circle cx="263.2" cy="497.7" r="1.3" fill="#5e2a22"/>
<circle cx="247.7" cy="504.6" r="1.7" fill="#e8d8d4"/><circle cx="247.7" cy="504.6" r="1.3" fill="#5e2a22"/>
<circle cx="225.8" cy="506.2" r="1.7" fill="#e8d8d4"/><circle cx="225.8" cy="506.2" r="1.3" fill="#5e2a22"/>
<circle cx="226.2" cy="501.6" r="1.7" fill="#e8d8d4"/><circle cx="226.2" cy="501.6" r="1.3" fill="#5e2a22"/>
<circle cx="217.7" cy="514.3" r="1.7" fill="#e8d8d4"/><circle cx="217.7" cy="514.3" r="1.3" fill="#5e2a22"/>
</g>
<text x="266" y="443.2" font-size="7.9" text-anchor="middle" fill="#151515" font-weight="normal" textLength="21.9" lengthAdjust="spacingAndGlyphs"  stroke="#151515" stroke-width="0.12">CD3+</text>
<clipPath id="c3"><rect x="364.2" y="448.5" width="110.1" height="74.1"/></clipPath>
<g clip-path="url(#c3)" filter="url(#soft2)"><rect x="364.2" y="448.5" width="110.1" height="74.1" fill="#e9dfd8"/>
<circle cx="432.8" cy="503.5" r="0.4" fill="#eeeeef"/>
<circle cx="415.5" cy="518.4" r="1.1" fill="#d8c0ae"/>
<circle cx="376.7" cy="483.3" r="0.7" fill="#eeedee"/>
<circle cx="375.4" cy="467.0" r="0.7" fill="#eeedee"/>
<circle cx="384.2" cy="512.8" r="0.5" fill="#e4d6cc"/>
<circle cx="452.0" cy="458.8" r="0.8" fill="#eeeeef"/>
<circle cx="378.8" cy="520.6" r="0.6" fill="#d8c0ae"/>
<circle cx="387.9" cy="521.3" r="0.6" fill="#eeedee"/>
<circle cx="470.1" cy="488.5" r="0.5" fill="#eeedee"/>
<circle cx="470.8" cy="463.1" r="0.6" fill="#e4d6cc"/>
<circle cx="404.0" cy="460.8" r="0.6" fill="#eeedee"/>
<circle cx="400.7" cy="509.1" r="0.4" fill="#eeeeef"/>
<circle cx="438.8" cy="473.5" r="0.7" fill="#d2b6a2"/>
<circle cx="397.9" cy="500.1" r="0.8" fill="#eeedee"/>
<circle cx="441.8" cy="452.7" r="1.2" fill="#d8c0ae"/>
<circle cx="403.6" cy="478.5" r="1.0" fill="#eeeeef"/>
<circle cx="404.5" cy="491.4" r="0.8" fill="#d8c0ae"/>
<circle cx="442.1" cy="494.7" r="0.5" fill="#eeedee"/>
<circle cx="391.3" cy="509.2" r="0.7" fill="#e4d6cc"/>
<circle cx="403.3" cy="487.4" r="0.5" fill="#e4d6cc"/>
<circle cx="446.6" cy="507.6" r="0.4" fill="#d2b6a2"/>
<circle cx="468.3" cy="455.3" r="0.8" fill="#d2b6a2"/>
<circle cx="404.1" cy="459.5" r="1.1" fill="#d2b6a2"/>
<circle cx="424.2" cy="471.7" r="0.6" fill="#d2b6a2"/>
<circle cx="452.1" cy="494.9" r="1.2" fill="#d2b6a2"/>
<circle cx="382.0" cy="452.1" r="0.8" fill="#eeeeef"/>
<circle cx="408.9" cy="466.1" r="0.7" fill="#eeeeef"/>
<circle cx="391.7" cy="496.7" r="0.4" fill="#eeedee"/>
<circle cx="465.1" cy="450.9" r="0.7" fill="#e4d6cc"/>
<circle cx="387.0" cy="521.2" r="1.2" fill="#eeeeef"/>
<circle cx="433.6" cy="506.9" r="0.5" fill="#d8c0ae"/>
<circle cx="405.3" cy="452.9" r="0.6" fill="#e4d6cc"/>
<circle cx="414.1" cy="522.5" r="1.2" fill="#eeedee"/>
<circle cx="414.1" cy="484.7" r="0.8" fill="#d2b6a2"/>
<circle cx="396.2" cy="478.4" r="0.5" fill="#eeedee"/>
<circle cx="454.7" cy="487.9" r="0.9" fill="#eeedee"/>
<circle cx="419.2" cy="473.6" r="0.8" fill="#d8c0ae"/>
<circle cx="420.9" cy="489.1" r="0.7" fill="#eeeeef"/>
<circle cx="450.7" cy="505.9" r="0.9" fill="#eeeeef"/>
<circle cx="447.8" cy="475.4" r="1.1" fill="#d2b6a2"/>
<circle cx="393.4" cy="521.2" r="1.2" fill="#d2b6a2"/>
<circle cx="401.6" cy="461.7" r="0.8" fill="#d8c0ae"/>
<circle cx="449.4" cy="472.6" r="0.8" fill="#d2b6a2"/>
<circle cx="454.1" cy="496.5" r="0.7" fill="#d2b6a2"/>
<circle cx="435.1" cy="503.2" r="0.7" fill="#e4d6cc"/>
<circle cx="457.0" cy="513.0" r="1.2" fill="#e4d6cc"/>
<circle cx="469.5" cy="486.9" r="1.2" fill="#eeeeef"/>
<circle cx="386.1" cy="475.3" r="0.6" fill="#e4d6cc"/>
<circle cx="372.9" cy="498.2" r="0.5" fill="#e4d6cc"/>
<circle cx="450.1" cy="491.5" r="0.6" fill="#e4d6cc"/>
<circle cx="425.1" cy="512.8" r="1.0" fill="#d2b6a2"/>
<circle cx="367.2" cy="460.4" r="0.9" fill="#e4d6cc"/>
<circle cx="384.1" cy="504.7" r="0.9" fill="#eeedee"/>
<circle cx="368.8" cy="483.4" r="0.5" fill="#eeedee"/>
<circle cx="462.4" cy="456.7" r="0.8" fill="#eeedee"/>
<circle cx="424.6" cy="479.3" r="0.7" fill="#d2b6a2"/>
<circle cx="431.6" cy="492.2" r="1.0" fill="#eeedee"/>
<circle cx="405.4" cy="474.5" r="1.1" fill="#d2b6a2"/>
<circle cx="459.6" cy="499.5" r="0.7" fill="#eeeeef"/>
<circle cx="368.2" cy="494.0" r="0.6" fill="#d8c0ae"/>
<circle cx="420.6" cy="519.0" r="1.2" fill="#d2b6a2"/>
<circle cx="454.3" cy="479.6" r="0.9" fill="#eeeeef"/>
<circle cx="404.9" cy="459.0" r="0.7" fill="#eeeeef"/>
<circle cx="416.7" cy="463.3" r="0.9" fill="#eeedee"/>
<circle cx="402.9" cy="514.7" r="0.7" fill="#d8c0ae"/>
<circle cx="400.1" cy="516.4" r="0.5" fill="#eeeeef"/>
<circle cx="433.5" cy="514.5" r="0.7" fill="#e4d6cc"/>
<circle cx="471.7" cy="485.1" r="1.2" fill="#e4d6cc"/>
<circle cx="406.0" cy="519.7" r="0.9" fill="#eeedee"/>
<circle cx="392.8" cy="521.2" r="0.6" fill="#e4d6cc"/>
<circle cx="366.4" cy="518.5" r="0.8" fill="#d2b6a2"/>
<circle cx="395.7" cy="483.8" r="0.9" fill="#d8c0ae"/>
<circle cx="470.0" cy="466.7" r="1.0" fill="#d8c0ae"/>
<circle cx="455.2" cy="449.5" r="0.8" fill="#eeeeef"/>
<circle cx="391.0" cy="483.6" r="0.6" fill="#d8c0ae"/>
<circle cx="393.7" cy="460.0" r="0.6" fill="#d2b6a2"/>
<circle cx="431.1" cy="483.7" r="1.1" fill="#eeeeef"/>
<circle cx="462.7" cy="449.7" r="0.6" fill="#eeedee"/>
<circle cx="422.9" cy="473.4" r="1.0" fill="#d2b6a2"/>
<circle cx="367.1" cy="474.4" r="0.5" fill="#eeeeef"/>
<circle cx="364.5" cy="489.5" r="1.1" fill="#d8c0ae"/>
<circle cx="424.3" cy="449.6" r="0.9" fill="#e4d6cc"/>
<circle cx="440.1" cy="519.1" r="1.1" fill="#e4d6cc"/>
<circle cx="456.8" cy="483.8" r="1.1" fill="#eeedee"/>
<circle cx="415.4" cy="504.7" r="1.1" fill="#d2b6a2"/>
<circle cx="440.7" cy="480.6" r="0.9" fill="#d2b6a2"/>
<circle cx="416.2" cy="471.5" r="0.8" fill="#eeedee"/>
<circle cx="424.7" cy="485.4" r="0.8" fill="#d2b6a2"/>
<circle cx="411.1" cy="488.6" r="0.5" fill="#d8c0ae"/>
<circle cx="389.5" cy="509.2" r="0.9" fill="#d8c0ae"/>
<circle cx="367.0" cy="502.0" r="1.2" fill="#d8c0ae"/>
<circle cx="441.4" cy="452.1" r="0.6" fill="#d8c0ae"/>
<circle cx="435.3" cy="519.1" r="1.2" fill="#eeedee"/>
<circle cx="441.9" cy="481.0" r="0.9" fill="#eeedee"/>
<circle cx="409.8" cy="460.4" r="0.6" fill="#eeeeef"/>
<circle cx="425.4" cy="497.4" r="0.6" fill="#d8c0ae"/>
<circle cx="427.1" cy="457.3" r="1.1" fill="#e4d6cc"/>
<circle cx="379.0" cy="480.5" r="0.9" fill="#d2b6a2"/>
<circle cx="418.1" cy="474.7" r="1.1" fill="#d2b6a2"/>
<circle cx="379.4" cy="470.3" r="0.9" fill="#eeeeef"/>
<circle cx="419.9" cy="516.0" r="0.8" fill="#eeeeef"/>
<circle cx="388.5" cy="453.2" r="0.6" fill="#eeedee"/>
<circle cx="446.8" cy="486.8" r="1.0" fill="#eeedee"/>
<circle cx="459.3" cy="482.1" r="0.5" fill="#e4d6cc"/>
<circle cx="442.7" cy="497.0" r="0.9" fill="#d8c0ae"/>
<circle cx="368.2" cy="512.5" r="0.9" fill="#eeeeef"/>
<circle cx="390.5" cy="513.5" r="1.2" fill="#e4d6cc"/>
<circle cx="376.0" cy="487.8" r="1.0" fill="#eeeeef"/>
<circle cx="370.1" cy="459.7" r="0.9" fill="#e4d6cc"/>
<circle cx="388.8" cy="457.1" r="1.1" fill="#e4d6cc"/>
<circle cx="379.6" cy="494.8" r="1.1" fill="#d2b6a2"/>
<circle cx="396.1" cy="517.5" r="1.0" fill="#d2b6a2"/>
<circle cx="405.8" cy="502.1" r="0.9" fill="#d2b6a2"/>
<circle cx="452.8" cy="480.6" r="0.8" fill="#d2b6a2"/>
<circle cx="429.4" cy="491.0" r="0.7" fill="#eeedee"/>
<circle cx="374.9" cy="451.0" r="0.6" fill="#eeedee"/>
<circle cx="418.2" cy="517.9" r="0.4" fill="#d2b6a2"/>
<circle cx="416.0" cy="514.4" r="1.1" fill="#eeeeef"/>
<circle cx="399.8" cy="482.7" r="0.5" fill="#eeedee"/>
<circle cx="381.7" cy="476.3" r="1.1" fill="#e4d6cc"/>
<circle cx="415.9" cy="489.4" r="0.6" fill="#d8c0ae"/>
<circle cx="382.0" cy="469.8" r="0.4" fill="#eeedee"/>
<circle cx="462.9" cy="474.0" r="0.7" fill="#d2b6a2"/>
<circle cx="370.7" cy="450.1" r="0.8" fill="#e4d6cc"/>
<circle cx="468.3" cy="457.2" r="0.6" fill="#d2b6a2"/>
<circle cx="438.5" cy="502.5" r="0.4" fill="#eeedee"/>
<circle cx="442.9" cy="491.1" r="0.9" fill="#d8c0ae"/>
<circle cx="464.6" cy="500.9" r="0.5" fill="#d2b6a2"/>
<circle cx="404.0" cy="453.5" r="0.5" fill="#e4d6cc"/>
<circle cx="390.7" cy="498.3" r="0.9" fill="#d8c0ae"/>
<circle cx="411.6" cy="520.8" r="0.8" fill="#d8c0ae"/>
<circle cx="414.1" cy="499.0" r="0.4" fill="#eeedee"/>
<circle cx="424.6" cy="521.8" r="0.9" fill="#eeeeef"/>
<circle cx="467.6" cy="501.6" r="1.1" fill="#eeedee"/>
<circle cx="418.3" cy="517.8" r="0.9" fill="#d8c0ae"/>
<circle cx="435.1" cy="485.4" r="0.4" fill="#d8c0ae"/>
<circle cx="456.0" cy="481.5" r="1.1" fill="#d8c0ae"/>
<circle cx="468.8" cy="462.9" r="0.9" fill="#eeeeef"/>
<circle cx="384.9" cy="465.8" r="1.0" fill="#d2b6a2"/>
<circle cx="373.8" cy="521.5" r="0.9" fill="#eeedee"/>
<circle cx="458.5" cy="464.4" r="0.8" fill="#d8c0ae"/>
<circle cx="403.6" cy="479.9" r="0.8" fill="#e4d6cc"/>
<circle cx="378.8" cy="449.4" r="1.0" fill="#d2b6a2"/>
<circle cx="462.4" cy="522.6" r="0.5" fill="#eeeeef"/>
<circle cx="398.5" cy="455.0" r="1.1" fill="#d2b6a2"/>
<circle cx="398.6" cy="458.1" r="0.8" fill="#d8c0ae"/>
<circle cx="441.0" cy="507.7" r="0.9" fill="#eeeeef"/>
<circle cx="394.6" cy="485.0" r="0.4" fill="#eeedee"/>
<circle cx="386.2" cy="469.7" r="1.1" fill="#d2b6a2"/>
<circle cx="372.1" cy="505.5" r="1.0" fill="#e4d6cc"/>
<circle cx="425.4" cy="514.9" r="0.9" fill="#eeedee"/>
<circle cx="412.9" cy="509.0" r="1.0" fill="#d8c0ae"/>
<circle cx="441.4" cy="468.3" r="0.8" fill="#e4d6cc"/>
<circle cx="399.6" cy="471.2" r="0.6" fill="#eeedee"/>
<circle cx="438.6" cy="469.7" r="0.8" fill="#d8c0ae"/>
<circle cx="445.6" cy="450.6" r="0.4" fill="#d8c0ae"/>
<circle cx="378.5" cy="475.0" r="1.2" fill="#d2b6a2"/>
<circle cx="431.6" cy="465.6" r="0.5" fill="#e4d6cc"/>
<circle cx="386.4" cy="475.0" r="0.9" fill="#eeedee"/>
<circle cx="455.2" cy="502.4" r="0.6" fill="#d8c0ae"/>
<circle cx="430.9" cy="495.2" r="0.8" fill="#eeedee"/>
<circle cx="467.5" cy="507.4" r="0.7" fill="#d8c0ae"/>
<circle cx="413.3" cy="465.4" r="0.7" fill="#eeeeef"/>
<circle cx="412.8" cy="505.4" r="0.8" fill="#eeedee"/>
<circle cx="471.0" cy="492.7" r="0.5" fill="#d8c0ae"/>
<circle cx="457.8" cy="499.3" r="1.2" fill="#eeedee"/>
<circle cx="367.8" cy="491.3" r="1.0" fill="#e4d6cc"/>
<circle cx="403.2" cy="482.9" r="0.6" fill="#eeedee"/>
<circle cx="386.3" cy="490.2" r="1.0" fill="#d2b6a2"/>
<circle cx="450.7" cy="475.7" r="1.1" fill="#eeedee"/>
<circle cx="437.2" cy="515.8" r="0.9" fill="#d8c0ae"/>
<circle cx="408.3" cy="459.1" r="0.8" fill="#eeedee"/>
<circle cx="368.4" cy="461.1" r="1.0" fill="#d8c0ae"/>
<circle cx="395.2" cy="516.7" r="0.8" fill="#d2b6a2"/>
<circle cx="416.0" cy="488.1" r="1.0" fill="#d8c0ae"/>
<circle cx="405.6" cy="449.2" r="0.9" fill="#eeeeef"/>
<circle cx="432.6" cy="508.8" r="0.7" fill="#d8c0ae"/>
<circle cx="367.2" cy="471.6" r="0.8" fill="#e4d6cc"/>
<circle cx="424.3" cy="499.7" r="1.2" fill="#e4d6cc"/>
<circle cx="454.0" cy="517.0" r="0.9" fill="#eeeeef"/>
<circle cx="423.3" cy="507.7" r="1.2" fill="#d2b6a2"/>
<circle cx="366.4" cy="505.6" r="0.6" fill="#eeedee"/>
<circle cx="372.8" cy="455.0" r="0.9" fill="#d2b6a2"/>
<circle cx="459.2" cy="518.2" r="0.6" fill="#e4d6cc"/>
<circle cx="466.5" cy="468.8" r="0.5" fill="#eeedee"/>
<circle cx="447.1" cy="498.1" r="1.1" fill="#d2b6a2"/>
<circle cx="439.9" cy="510.6" r="0.9" fill="#eeeeef"/>
<circle cx="387.2" cy="486.8" r="0.6" fill="#d8c0ae"/>
<circle cx="471.5" cy="488.8" r="1.2" fill="#e4d6cc"/>
<circle cx="438.1" cy="476.5" r="1.1" fill="#eeeeef"/>
<circle cx="464.4" cy="494.0" r="0.7" fill="#e4d6cc"/>
<circle cx="457.0" cy="514.4" r="0.6" fill="#d2b6a2"/>
<circle cx="375.2" cy="470.3" r="1.0" fill="#d2b6a2"/>
<circle cx="372.8" cy="518.9" r="0.9" fill="#d8c0ae"/>
<circle cx="448.6" cy="465.1" r="0.9" fill="#d8c0ae"/>
<circle cx="433.2" cy="495.9" r="1.0" fill="#eeeeef"/>
<circle cx="410.1" cy="480.0" r="0.9" fill="#eeeeef"/>
<circle cx="391.1" cy="479.5" r="0.9" fill="#d8c0ae"/>
<circle cx="470.6" cy="462.4" r="0.5" fill="#d8c0ae"/>
<circle cx="396.8" cy="489.6" r="0.5" fill="#eeeeef"/>
<circle cx="385.2" cy="492.6" r="1.0" fill="#d2b6a2"/>
<circle cx="371.0" cy="484.4" r="1.2" fill="#eeeeef"/>
<circle cx="399.3" cy="511.5" r="1.1" fill="#e4d6cc"/>
<circle cx="389.4" cy="500.1" r="1.1" fill="#e4d6cc"/>
<circle cx="364.4" cy="498.3" r="0.5" fill="#d8c0ae"/>
<circle cx="380.9" cy="494.1" r="0.9" fill="#d8c0ae"/>
<circle cx="412.8" cy="472.4" r="1.0" fill="#eeedee"/>
<circle cx="465.9" cy="519.4" r="0.7" fill="#d8c0ae"/>
<circle cx="453.8" cy="463.0" r="0.7" fill="#d2b6a2"/>
<circle cx="414.7" cy="498.9" r="0.6" fill="#d8c0ae"/>
<circle cx="467.9" cy="483.0" r="0.5" fill="#d8c0ae"/>
<circle cx="429.9" cy="476.2" r="0.8" fill="#d8c0ae"/>
<circle cx="470.2" cy="518.5" r="0.8" fill="#d8c0ae"/>
<circle cx="467.4" cy="501.3" r="0.5" fill="#d8c0ae"/>
<circle cx="416.9" cy="474.7" r="1.1" fill="#eeedee"/>
<circle cx="406.3" cy="470.0" r="0.9" fill="#e4d6cc"/>
<circle cx="448.6" cy="455.1" r="0.6" fill="#d8c0ae"/>
<circle cx="401.3" cy="511.3" r="0.7" fill="#eeeeef"/>
<circle cx="388.5" cy="521.6" r="0.9" fill="#d2b6a2"/>
<circle cx="372.3" cy="468.6" r="0.8" fill="#d8c0ae"/>
<circle cx="411.8" cy="461.8" r="1.1" fill="#e4d6cc"/>
<circle cx="391.2" cy="482.0" r="1.0" fill="#eeedee"/>
<circle cx="364.8" cy="505.3" r="1.0" fill="#d2b6a2"/>
<circle cx="366.5" cy="490.2" r="1.1" fill="#e4d6cc"/>
<circle cx="372.8" cy="520.5" r="1.2" fill="#eeedee"/>
<circle cx="412.9" cy="483.5" r="1.2" fill="#d8c0ae"/>
<circle cx="430.1" cy="510.7" r="0.8" fill="#e4d6cc"/>
<circle cx="370.0" cy="477.6" r="0.7" fill="#eeeeef"/>
<circle cx="429.5" cy="515.4" r="0.9" fill="#eeeeef"/>
<circle cx="368.2" cy="450.3" r="1.0" fill="#e4d6cc"/>
<circle cx="454.9" cy="480.5" r="0.4" fill="#e4d6cc"/>
<circle cx="454.0" cy="460.8" r="0.5" fill="#d2b6a2"/>
<circle cx="450.2" cy="479.8" r="1.2" fill="#d8c0ae"/>
<circle cx="388.1" cy="479.7" r="0.5" fill="#d2b6a2"/>
<circle cx="404.2" cy="448.7" r="1.0" fill="#d8c0ae"/>
<circle cx="447.7" cy="454.2" r="0.4" fill="#e4d6cc"/>
<circle cx="409.3" cy="459.6" r="1.0" fill="#d8c0ae"/>
<circle cx="418.6" cy="472.0" r="0.5" fill="#e4d6cc"/>
<circle cx="390.2" cy="516.7" r="0.4" fill="#eeeeef"/>
<circle cx="384.5" cy="480.3" r="0.5" fill="#d2b6a2"/>
<circle cx="436.2" cy="473.3" r="0.5" fill="#eeedee"/>
<circle cx="421.3" cy="520.7" r="0.5" fill="#eeeeef"/>
<circle cx="376.4" cy="496.2" r="0.6" fill="#d2b6a2"/>
<circle cx="464.0" cy="489.1" r="1.2" fill="#e4d6cc"/>
<circle cx="390.7" cy="490.6" r="0.4" fill="#d2b6a2"/>
<circle cx="365.6" cy="477.0" r="0.8" fill="#eeedee"/>
<circle cx="441.9" cy="449.1" r="0.7" fill="#eeedee"/>
<circle cx="419.7" cy="493.7" r="0.4" fill="#d2b6a2"/>
<circle cx="419.3" cy="451.3" r="1.1" fill="#e4d6cc"/>
<circle cx="449.7" cy="489.8" r="0.8" fill="#e4d6cc"/>
<circle cx="436.3" cy="517.0" r="0.9" fill="#d2b6a2"/>
<circle cx="394.5" cy="491.7" r="1.2" fill="#eeeeef"/>
<circle cx="473.0" cy="470.9" r="0.9" fill="#eeedee"/>
<circle cx="439.3" cy="496.3" r="1.0" fill="#d8c0ae"/>
<circle cx="422.4" cy="477.3" r="0.6" fill="#eeeeef"/>
<circle cx="424.9" cy="510.0" r="0.8" fill="#eeedee"/>
<circle cx="371.2" cy="448.8" r="0.6" fill="#eeeeef"/>
<circle cx="414.2" cy="452.9" r="0.5" fill="#d8c0ae"/>
<circle cx="461.7" cy="476.2" r="0.6" fill="#d2b6a2"/>
<circle cx="394.6" cy="506.6" r="0.6" fill="#d8c0ae"/>
<circle cx="455.5" cy="494.9" r="0.5" fill="#e4d6cc"/>
<circle cx="451.1" cy="500.5" r="1.1" fill="#eeeeef"/>
<circle cx="412.5" cy="515.0" r="0.9" fill="#eeedee"/>
<circle cx="426.5" cy="515.3" r="0.8" fill="#d2b6a2"/>
<circle cx="365.3" cy="451.7" r="0.8" fill="#eeeeef"/>
<circle cx="460.1" cy="451.4" r="0.7" fill="#eeeeef"/>
<circle cx="409.6" cy="487.9" r="0.9" fill="#e4d6cc"/>
<circle cx="388.6" cy="518.8" r="1.0" fill="#d8c0ae"/>
<circle cx="443.4" cy="492.3" r="0.5" fill="#d8c0ae"/>
<circle cx="414.9" cy="496.6" r="1.0" fill="#eeeeef"/>
<circle cx="371.8" cy="496.2" r="0.5" fill="#d2b6a2"/>
<circle cx="447.3" cy="467.7" r="0.6" fill="#d2b6a2"/>
<circle cx="461.0" cy="472.4" r="0.8" fill="#e4d6cc"/>
<circle cx="381.3" cy="464.5" r="0.7" fill="#d2b6a2"/>
<circle cx="431.5" cy="482.4" r="0.7" fill="#eeedee"/>
<circle cx="372.9" cy="480.0" r="0.8" fill="#eeeeef"/>
<circle cx="407.7" cy="463.1" r="0.5" fill="#e4d6cc"/>
<circle cx="419.5" cy="517.8" r="1.1" fill="#d2b6a2"/>
<circle cx="380.2" cy="468.3" r="0.8" fill="#e4d6cc"/>
<circle cx="468.9" cy="464.6" r="0.9" fill="#eeedee"/>
<circle cx="410.4" cy="506.6" r="0.6" fill="#d2b6a2"/>
<circle cx="376.1" cy="467.7" r="1.1" fill="#d2b6a2"/>
<circle cx="421.0" cy="484.6" r="1.2" fill="#d8c0ae"/>
<circle cx="377.0" cy="505.5" r="0.5" fill="#d2b6a2"/>
<circle cx="460.1" cy="469.6" r="0.5" fill="#eeeeef"/>
<circle cx="449.7" cy="488.7" r="0.9" fill="#eeedee"/>
<circle cx="443.9" cy="467.8" r="1.1" fill="#e4d6cc"/>
<circle cx="461.4" cy="471.6" r="1.0" fill="#d2b6a2"/>
<circle cx="409.4" cy="512.9" r="0.5" fill="#d8c0ae"/>
<circle cx="371.8" cy="451.4" r="1.0" fill="#d8c0ae"/>
<circle cx="462.9" cy="486.0" r="0.8" fill="#d8c0ae"/>
<circle cx="372.1" cy="479.7" r="0.8" fill="#eeeeef"/>
<circle cx="435.9" cy="499.0" r="1.1" fill="#d2b6a2"/>
<circle cx="468.4" cy="483.0" r="0.5" fill="#d8c0ae"/>
<circle cx="391.3" cy="494.1" r="0.5" fill="#d8c0ae"/>
<circle cx="472.9" cy="488.7" r="0.5" fill="#e4d6cc"/>
<circle cx="397.9" cy="482.1" r="0.4" fill="#e4d6cc"/>
<circle cx="461.3" cy="521.2" r="0.7" fill="#eeedee"/>
<circle cx="434.0" cy="516.6" r="1.1" fill="#d2b6a2"/>
<circle cx="442.5" cy="453.8" r="0.4" fill="#d2b6a2"/>
<circle cx="467.6" cy="483.0" r="0.8" fill="#e4d6cc"/>
<circle cx="452.1" cy="495.6" r="0.6" fill="#d2b6a2"/>
<circle cx="446.1" cy="467.5" r="0.7" fill="#e4d6cc"/>
<circle cx="442.4" cy="455.8" r="0.6" fill="#eeeeef"/>
<circle cx="440.7" cy="502.5" r="0.8" fill="#d8c0ae"/>
<circle cx="390.0" cy="467.0" r="1.0" fill="#d8c0ae"/>
<circle cx="392.5" cy="482.9" r="1.0" fill="#eeedee"/>
<circle cx="417.2" cy="470.6" r="0.9" fill="#d2b6a2"/>
<circle cx="441.0" cy="488.7" r="0.5" fill="#eeeeef"/>
<circle cx="448.3" cy="473.4" r="0.8" fill="#eeeeef"/>
<circle cx="456.9" cy="513.3" r="1.1" fill="#eeeeef"/>
<circle cx="395.3" cy="473.2" r="0.5" fill="#d2b6a2"/>
<circle cx="410.4" cy="479.2" r="0.6" fill="#eeedee"/>
<circle cx="385.6" cy="519.0" r="0.4" fill="#d8c0ae"/>
<circle cx="468.1" cy="471.7" r="0.9" fill="#e4d6cc"/>
<circle cx="410.5" cy="510.6" r="0.7" fill="#e4d6cc"/>
<circle cx="444.8" cy="485.9" r="1.0" fill="#eeeeef"/>
<circle cx="365.8" cy="491.2" r="0.8" fill="#d8c0ae"/>
<circle cx="417.4" cy="483.0" r="0.4" fill="#d2b6a2"/>
<circle cx="423.1" cy="484.0" r="1.0" fill="#d8c0ae"/>
<circle cx="382.8" cy="461.2" r="0.6" fill="#eeeeef"/>
<circle cx="455.5" cy="496.7" r="0.7" fill="#e4d6cc"/>
<circle cx="459.3" cy="496.3" r="0.6" fill="#d8c0ae"/>
<circle cx="390.2" cy="453.5" r="0.7" fill="#eeeeef"/>
<circle cx="428.3" cy="465.0" r="0.7" fill="#d8c0ae"/>
<circle cx="429.9" cy="504.6" r="1.0" fill="#e4d6cc"/>
<circle cx="444.2" cy="514.6" r="1.1" fill="#eeeeef"/>
<circle cx="380.4" cy="452.7" r="0.6" fill="#d8c0ae"/>
<circle cx="385.1" cy="461.3" r="1.1" fill="#e4d6cc"/>
<circle cx="415.9" cy="469.9" r="0.4" fill="#d8c0ae"/>
<circle cx="451.8" cy="505.4" r="0.8" fill="#eeeeef"/>
<circle cx="432.3" cy="493.3" r="0.6" fill="#eeeeef"/>
<circle cx="435.9" cy="481.4" r="0.6" fill="#eeeeef"/>
<circle cx="371.5" cy="473.7" r="0.8" fill="#d8c0ae"/>
<circle cx="461.9" cy="461.3" r="0.4" fill="#e4d6cc"/>
<circle cx="411.4" cy="470.7" r="0.7" fill="#e4d6cc"/>
<circle cx="449.2" cy="457.0" r="1.0" fill="#e4d6cc"/>
<circle cx="388.1" cy="478.3" r="0.5" fill="#e4d6cc"/>
<circle cx="470.0" cy="468.8" r="1.0" fill="#eeeeef"/>
<circle cx="440.5" cy="512.2" r="1.0" fill="#d2b6a2"/>
<circle cx="460.1" cy="516.5" r="1.1" fill="#e4d6cc"/>
<circle cx="463.3" cy="490.0" r="1.0" fill="#e4d6cc"/>
<circle cx="386.5" cy="491.6" r="0.6" fill="#d8c0ae"/>
<circle cx="422.9" cy="510.8" r="0.9" fill="#d2b6a2"/>
<circle cx="442.2" cy="480.6" r="0.9" fill="#eeedee"/>
<circle cx="384.3" cy="488.8" r="1.2" fill="#e4d6cc"/>
<circle cx="446.0" cy="500.4" r="1.2" fill="#e4d6cc"/>
<circle cx="456.0" cy="472.7" r="0.8" fill="#d8c0ae"/>
<circle cx="404.7" cy="521.7" r="0.7" fill="#eeeeef"/>
<circle cx="461.7" cy="468.1" r="0.8" fill="#eeeeef"/>
<circle cx="465.4" cy="493.6" r="0.7" fill="#eeeeef"/>
<circle cx="407.5" cy="489.9" r="0.6" fill="#d8c0ae"/>
<circle cx="396.6" cy="509.0" r="1.0" fill="#d8c0ae"/>
<circle cx="417.5" cy="454.7" r="0.7" fill="#eeeeef"/>
<circle cx="373.1" cy="472.6" r="0.7" fill="#eeedee"/>
<circle cx="458.5" cy="506.2" r="0.9" fill="#d2b6a2"/>
<circle cx="450.0" cy="517.2" r="1.0" fill="#d8c0ae"/>
<circle cx="460.1" cy="499.0" r="0.4" fill="#d8c0ae"/>
<circle cx="420.7" cy="483.3" r="0.6" fill="#e4d6cc"/>
<circle cx="410.9" cy="494.1" r="0.5" fill="#eeeeef"/>
<circle cx="438.4" cy="466.5" r="1.1" fill="#d2b6a2"/>
<circle cx="429.2" cy="453.9" r="0.6" fill="#e4d6cc"/>
<circle cx="374.8" cy="474.1" r="0.5" fill="#e4d6cc"/>
<circle cx="401.9" cy="464.0" r="0.8" fill="#d8c0ae"/>
<circle cx="375.0" cy="512.4" r="0.4" fill="#d2b6a2"/>
<circle cx="470.5" cy="500.4" r="0.9" fill="#d8c0ae"/>
<circle cx="462.1" cy="471.4" r="1.1" fill="#e4d6cc"/>
<circle cx="419.5" cy="474.2" r="0.5" fill="#eeeeef"/>
<circle cx="420.4" cy="513.9" r="0.9" fill="#e4d6cc"/>
<circle cx="431.9" cy="478.5" r="0.5" fill="#e4d6cc"/>
<circle cx="371.2" cy="472.4" r="0.6" fill="#d8c0ae"/>
<circle cx="404.4" cy="493.2" r="0.5" fill="#eeeeef"/>
<circle cx="365.2" cy="459.1" r="0.4" fill="#d2b6a2"/>
<circle cx="376.2" cy="504.5" r="0.5" fill="#d8c0ae"/>
<circle cx="373.2" cy="494.9" r="0.7" fill="#d2b6a2"/>
<circle cx="389.7" cy="480.6" r="0.5" fill="#d2b6a2"/>
<circle cx="400.8" cy="499.9" r="0.9" fill="#eeeeef"/>
<circle cx="407.7" cy="483.0" r="1.1" fill="#e4d6cc"/>
<circle cx="383.7" cy="483.7" r="1.1" fill="#d2b6a2"/>
<circle cx="373.9" cy="480.9" r="0.7" fill="#d2b6a2"/>
<circle cx="450.5" cy="518.4" r="0.7" fill="#d8c0ae"/>
<circle cx="458.5" cy="522.4" r="0.5" fill="#eeedee"/>
<circle cx="452.3" cy="488.7" r="0.6" fill="#d2b6a2"/>
<circle cx="383.3" cy="479.0" r="0.7" fill="#e4d6cc"/>
<circle cx="385.6" cy="460.0" r="0.8" fill="#eeeeef"/>
<circle cx="377.2" cy="476.5" r="1.1" fill="#eeedee"/>
<circle cx="436.8" cy="466.6" r="1.1" fill="#e4d6cc"/>
<circle cx="437.7" cy="450.4" r="1.0" fill="#d8c0ae"/>
<circle cx="397.9" cy="473.6" r="0.7" fill="#eeeeef"/>
<circle cx="457.5" cy="449.4" r="0.8" fill="#eeedee"/>
<circle cx="394.3" cy="487.5" r="1.1" fill="#d8c0ae"/>
<circle cx="473.5" cy="473.0" r="0.6" fill="#d2b6a2"/>
<circle cx="414.4" cy="450.9" r="1.0" fill="#d8c0ae"/>
<circle cx="376.2" cy="499.9" r="0.6" fill="#d8c0ae"/>
<circle cx="371.4" cy="456.6" r="1.1" fill="#eeeeef"/>
<circle cx="456.2" cy="506.5" r="0.7" fill="#d2b6a2"/>
<circle cx="449.8" cy="471.2" r="0.5" fill="#e4d6cc"/>
<circle cx="443.5" cy="484.9" r="1.0" fill="#d8c0ae"/>
<circle cx="415.9" cy="465.7" r="1.0" fill="#d8c0ae"/>
<circle cx="444.7" cy="516.1" r="0.6" fill="#eeeeef"/>
<circle cx="437.4" cy="455.7" r="0.4" fill="#e4d6cc"/>
<circle cx="392.8" cy="482.4" r="1.0" fill="#d8c0ae"/>
<circle cx="466.0" cy="472.2" r="1.2" fill="#eeedee"/>
<circle cx="417.8" cy="510.5" r="0.9" fill="#d8c0ae"/>
<circle cx="399.7" cy="477.6" r="0.6" fill="#d2b6a2"/>
<circle cx="387.9" cy="510.8" r="0.6" fill="#eeeeef"/>
<circle cx="380.7" cy="449.2" r="0.6" fill="#eeeeef"/>
<circle cx="464.4" cy="490.3" r="0.6" fill="#d8c0ae"/>
<circle cx="386.8" cy="497.7" r="0.6" fill="#eeeeef"/>
<circle cx="456.9" cy="458.8" r="0.5" fill="#eeedee"/>
<circle cx="429.4" cy="500.7" r="0.8" fill="#eeeeef"/>
<circle cx="460.2" cy="495.1" r="0.5" fill="#d2b6a2"/>
<circle cx="384.8" cy="483.0" r="0.9" fill="#eeeeef"/>
<circle cx="438.7" cy="495.9" r="0.8" fill="#eeeeef"/>
<circle cx="421.7" cy="510.7" r="0.4" fill="#d2b6a2"/>
<circle cx="382.4" cy="460.3" r="0.7" fill="#d2b6a2"/>
<circle cx="456.5" cy="511.6" r="0.9" fill="#eeeeef"/>
<circle cx="378.9" cy="481.6" r="0.9" fill="#eeeeef"/>
<circle cx="445.8" cy="493.7" r="1.1" fill="#d8c0ae"/>
<circle cx="384.1" cy="489.0" r="0.6" fill="#eeedee"/>
<circle cx="382.0" cy="478.2" r="0.5" fill="#d2b6a2"/>
<circle cx="402.9" cy="500.0" r="0.6" fill="#eeeeef"/>
<circle cx="430.7" cy="518.4" r="0.8" fill="#e4d6cc"/>
<circle cx="392.6" cy="484.1" r="1.2" fill="#e4d6cc"/>
<circle cx="408.9" cy="514.6" r="1.2" fill="#e4d6cc"/>
<circle cx="371.0" cy="521.7" r="0.9" fill="#e4d6cc"/>
<circle cx="369.1" cy="485.9" r="0.7" fill="#d2b6a2"/>
<circle cx="439.5" cy="475.8" r="1.0" fill="#eeeeef"/>
<circle cx="438.7" cy="460.6" r="1.0" fill="#e4d6cc"/>
<circle cx="442.3" cy="500.7" r="0.9" fill="#eeedee"/>
<circle cx="450.7" cy="497.4" r="1.0" fill="#d2b6a2"/>
<circle cx="389.2" cy="485.0" r="1.1" fill="#eeeeef"/>
<circle cx="383.6" cy="508.6" r="1.2" fill="#e4d6cc"/>
<circle cx="413.0" cy="490.5" r="0.7" fill="#eeedee"/>
<circle cx="442.8" cy="519.4" r="0.5" fill="#d8c0ae"/>
<circle cx="413.3" cy="483.2" r="1.1" fill="#d8c0ae"/>
<circle cx="380.3" cy="484.6" r="0.9" fill="#eeeeef"/>
<circle cx="379.6" cy="456.8" r="1.1" fill="#d8c0ae"/>
<circle cx="371.3" cy="480.1" r="1.2" fill="#eeedee"/>
<circle cx="447.4" cy="473.2" r="0.8" fill="#e4d6cc"/>
<circle cx="437.7" cy="495.7" r="1.0" fill="#d2b6a2"/>
<circle cx="471.0" cy="485.1" r="1.1" fill="#e4d6cc"/>
<circle cx="462.6" cy="472.5" r="0.7" fill="#eeeeef"/>
<circle cx="419.2" cy="451.6" r="0.8" fill="#eeedee"/>
<circle cx="392.1" cy="520.5" r="1.0" fill="#eeedee"/>
<circle cx="390.8" cy="498.0" r="0.8" fill="#eeeeef"/>
<circle cx="465.6" cy="465.8" r="0.6" fill="#e4d6cc"/>
<circle cx="404.3" cy="448.5" r="1.0" fill="#d8c0ae"/>
<circle cx="390.3" cy="469.8" r="1.2" fill="#eeedee"/>
<circle cx="403.2" cy="467.0" r="0.5" fill="#d2b6a2"/>
<circle cx="425.7" cy="467.2" r="0.8" fill="#eeeeef"/>
<circle cx="393.8" cy="459.2" r="0.5" fill="#d8c0ae"/>
<circle cx="397.3" cy="459.3" r="0.7" fill="#eeedee"/>
<circle cx="468.4" cy="451.7" r="0.7" fill="#e4d6cc"/>
<circle cx="376.8" cy="510.3" r="1.0" fill="#eeeeef"/>
<circle cx="445.4" cy="508.6" r="0.7" fill="#d8c0ae"/>
<circle cx="425.9" cy="458.8" r="0.7" fill="#eeedee"/>
<circle cx="470.3" cy="512.7" r="0.5" fill="#d2b6a2"/>
<circle cx="411.2" cy="487.1" r="0.8" fill="#e4d6cc"/>
<circle cx="445.5" cy="522.0" r="0.6" fill="#d8c0ae"/>
<circle cx="449.8" cy="466.6" r="0.5" fill="#e4d6cc"/>
<circle cx="428.4" cy="496.0" r="0.9" fill="#eeeeef"/>
<circle cx="421.9" cy="498.4" r="0.8" fill="#e4d6cc"/>
<circle cx="404.6" cy="459.4" r="0.4" fill="#d8c0ae"/>
<circle cx="432.2" cy="479.1" r="0.7" fill="#e4d6cc"/>
<circle cx="389.9" cy="471.7" r="0.6" fill="#e4d6cc"/>
<circle cx="389.2" cy="484.7" r="0.5" fill="#d2b6a2"/>
<circle cx="373.6" cy="514.5" r="0.8" fill="#eeeeef"/>
<circle cx="472.9" cy="480.5" r="1.1" fill="#e4d6cc"/>
<circle cx="437.3" cy="452.2" r="0.8" fill="#e4d6cc"/>
<circle cx="460.1" cy="459.6" r="0.6" fill="#d2b6a2"/>
<circle cx="371.2" cy="487.2" r="0.6" fill="#eeedee"/>
<circle cx="468.3" cy="520.3" r="0.9" fill="#e4d6cc"/>
<circle cx="459.3" cy="481.5" r="1.1" fill="#eeedee"/>
<circle cx="417.3" cy="514.2" r="0.5" fill="#d2b6a2"/>
<circle cx="415.1" cy="498.0" r="1.1" fill="#d2b6a2"/>
<circle cx="467.1" cy="502.4" r="0.8" fill="#d8c0ae"/>
<circle cx="436.8" cy="476.0" r="0.9" fill="#d2b6a2"/>
<circle cx="368.5" cy="474.3" r="1.0" fill="#d2b6a2"/>
<circle cx="457.8" cy="476.7" r="0.7" fill="#e4d6cc"/>
<circle cx="393.6" cy="479.0" r="0.9" fill="#eeedee"/>
<circle cx="447.0" cy="517.6" r="0.7" fill="#d8c0ae"/>
<circle cx="369.1" cy="506.1" r="1.0" fill="#e4d6cc"/>
<circle cx="431.9" cy="483.8" r="0.7" fill="#d8c0ae"/>
<circle cx="385.6" cy="464.8" r="0.9" fill="#d8c0ae"/>
<circle cx="405.8" cy="471.8" r="0.7" fill="#eeedee"/>
<circle cx="409.6" cy="469.2" r="0.8" fill="#d2b6a2"/>
<circle cx="383.0" cy="514.0" r="1.0" fill="#d8c0ae"/>
<circle cx="400.3" cy="455.0" r="0.7" fill="#e4d6cc"/>
<circle cx="397.0" cy="470.9" r="0.7" fill="#eeeeef"/>
<circle cx="441.0" cy="505.2" r="0.8" fill="#eeedee"/>
<circle cx="468.4" cy="481.0" r="1.1" fill="#d2b6a2"/>
<circle cx="432.7" cy="492.2" r="0.6" fill="#eeeeef"/>
<circle cx="410.1" cy="460.1" r="1.0" fill="#d8c0ae"/>
<circle cx="427.4" cy="500.3" r="1.1" fill="#d8c0ae"/>
<circle cx="459.4" cy="490.0" r="0.9" fill="#e4d6cc"/>
<circle cx="462.2" cy="457.0" r="0.6" fill="#eeeeef"/>
<circle cx="473.1" cy="462.1" r="1.2" fill="#eeeeef"/>
<circle cx="399.3" cy="500.3" r="0.9" fill="#eeedee"/>
<circle cx="442.4" cy="458.8" r="0.6" fill="#e4d6cc"/>
<circle cx="432.3" cy="503.1" r="1.0" fill="#d2b6a2"/>
<circle cx="398.8" cy="451.1" r="0.9" fill="#d2b6a2"/>
<circle cx="416.1" cy="490.1" r="0.6" fill="#eeedee"/>
<circle cx="372.6" cy="456.6" r="0.5" fill="#eeeeef"/>
<circle cx="409.1" cy="496.4" r="1.1" fill="#d8c0ae"/>
<circle cx="472.9" cy="485.3" r="0.4" fill="#e4d6cc"/>
<circle cx="430.4" cy="472.3" r="0.6" fill="#eeeeef"/>
<circle cx="457.4" cy="521.9" r="0.6" fill="#eeeeef"/>
<circle cx="468.5" cy="501.1" r="0.5" fill="#e4d6cc"/>
<circle cx="444.7" cy="474.4" r="0.9" fill="#eeedee"/>
<circle cx="429.7" cy="465.9" r="0.7" fill="#d8c0ae"/>
<circle cx="378.7" cy="504.8" r="1.1" fill="#eeedee"/>
<circle cx="412.7" cy="454.1" r="0.5" fill="#d8c0ae"/>
<circle cx="421.4" cy="464.0" r="1.2" fill="#eeeeef"/>
<circle cx="389.4" cy="502.7" r="0.8" fill="#e4d6cc"/>
<circle cx="418.9" cy="456.6" r="0.8" fill="#eeedee"/>
<circle cx="431.1" cy="515.9" r="1.1" fill="#eeeeef"/>
<circle cx="366.2" cy="458.8" r="0.9" fill="#e4d6cc"/>
<circle cx="379.0" cy="451.0" r="0.7" fill="#d8c0ae"/>
<circle cx="473.0" cy="492.2" r="0.9" fill="#e4d6cc"/>
<circle cx="418.2" cy="509.0" r="1.1" fill="#d2b6a2"/>
<circle cx="416.6" cy="518.1" r="0.5" fill="#e4d6cc"/>
<circle cx="443.7" cy="518.4" r="0.6" fill="#d8c0ae"/>
<circle cx="453.1" cy="488.0" r="0.7" fill="#eeedee"/>
<circle cx="437.4" cy="496.1" r="0.7" fill="#d8c0ae"/>
<circle cx="407.1" cy="457.7" r="0.5" fill="#d8c0ae"/>
<circle cx="457.7" cy="459.3" r="1.1" fill="#eeedee"/>
<circle cx="465.6" cy="480.9" r="0.7" fill="#d2b6a2"/>
<circle cx="430.1" cy="462.7" r="0.5" fill="#eeedee"/>
<circle cx="437.1" cy="520.8" r="0.6" fill="#d2b6a2"/>
<circle cx="444.6" cy="515.6" r="0.7" fill="#eeeeef"/>
<circle cx="460.5" cy="472.3" r="0.9" fill="#eeedee"/>
<circle cx="380.6" cy="463.5" r="0.4" fill="#eeedee"/>
<circle cx="364.3" cy="476.2" r="0.8" fill="#d2b6a2"/>
<circle cx="418.5" cy="482.0" r="0.9" fill="#d8c0ae"/>
<circle cx="399.1" cy="491.6" r="0.4" fill="#eeeeef"/>
<circle cx="461.6" cy="453.2" r="0.9" fill="#d8c0ae"/>
<circle cx="454.8" cy="455.6" r="0.8" fill="#d8c0ae"/>
<circle cx="463.0" cy="511.4" r="1.1" fill="#eeeeef"/>
<circle cx="431.2" cy="511.9" r="0.7" fill="#eeedee"/>
<circle cx="376.7" cy="505.2" r="0.8" fill="#eeedee"/>
<circle cx="394.0" cy="475.5" r="0.8" fill="#eeeeef"/>
<circle cx="387.3" cy="521.6" r="1.1" fill="#eeedee"/>
<circle cx="377.9" cy="492.3" r="0.4" fill="#e4d6cc"/>
<circle cx="460.8" cy="517.5" r="0.6" fill="#e4d6cc"/>
<circle cx="388.6" cy="488.9" r="1.1" fill="#e4d6cc"/>
<circle cx="381.4" cy="477.0" r="0.5" fill="#d2b6a2"/>
<circle cx="423.3" cy="499.7" r="1.2" fill="#d2b6a2"/>
<circle cx="404.1" cy="510.4" r="0.5" fill="#d2b6a2"/>
<circle cx="411.7" cy="460.9" r="1.0" fill="#eeedee"/>
<circle cx="370.2" cy="520.4" r="0.8" fill="#eeeeef"/>
<circle cx="473.8" cy="507.8" r="1.1" fill="#d8c0ae"/>
<circle cx="470.9" cy="457.5" r="0.6" fill="#eeedee"/>
<circle cx="449.2" cy="468.3" r="1.2" fill="#e4d6cc"/>
<circle cx="466.6" cy="465.4" r="1.0" fill="#e4d6cc"/>
<circle cx="389.9" cy="461.5" r="0.6" fill="#eeedee"/>
<circle cx="447.6" cy="475.8" r="1.0" fill="#eeedee"/>
<circle cx="411.4" cy="450.8" r="0.7" fill="#d2b6a2"/>
<circle cx="389.3" cy="456.7" r="1.0" fill="#d8c0ae"/>
<circle cx="445.0" cy="491.3" r="1.0" fill="#d2b6a2"/>
<circle cx="439.8" cy="493.2" r="1.0" fill="#d2b6a2"/>
<circle cx="414.9" cy="485.2" r="0.5" fill="#eeeeef"/>
<circle cx="443.6" cy="510.2" r="0.8" fill="#eeeeef"/>
<circle cx="468.1" cy="522.6" r="1.2" fill="#d2b6a2"/>
<circle cx="369.0" cy="453.9" r="0.7" fill="#d2b6a2"/>
<circle cx="404.8" cy="522.4" r="0.5" fill="#eeedee"/>
<circle cx="391.7" cy="457.9" r="1.2" fill="#eeedee"/>
<circle cx="372.8" cy="454.4" r="0.9" fill="#d2b6a2"/>
<circle cx="378.6" cy="510.3" r="1.1" fill="#eeeeef"/>
<circle cx="444.1" cy="502.6" r="0.9" fill="#d2b6a2"/>
<circle cx="377.2" cy="469.6" r="0.7" fill="#e4d6cc"/>
<circle cx="452.2" cy="495.2" r="0.5" fill="#d8c0ae"/>
<circle cx="471.4" cy="475.8" r="0.8" fill="#eeedee"/>
<circle cx="393.5" cy="460.6" r="0.7" fill="#d2b6a2"/>
<circle cx="466.0" cy="493.6" r="1.0" fill="#d2b6a2"/>
<circle cx="372.9" cy="473.1" r="1.1" fill="#e4d6cc"/>
<circle cx="439.9" cy="495.3" r="1.1" fill="#eeeeef"/>
<circle cx="430.0" cy="477.0" r="1.1" fill="#eeeeef"/>
<circle cx="396.7" cy="450.6" r="0.8" fill="#e4d6cc"/>
<circle cx="366.1" cy="485.4" r="0.9" fill="#d8c0ae"/>
<circle cx="400.4" cy="466.2" r="0.8" fill="#e4d6cc"/>
<circle cx="397.0" cy="483.4" r="1.0" fill="#e4d6cc"/>
<circle cx="402.5" cy="494.4" r="0.5" fill="#eeeeef"/>
<circle cx="461.5" cy="467.7" r="0.5" fill="#eeedee"/>
<circle cx="464.1" cy="500.5" r="0.6" fill="#eeedee"/>
<circle cx="418.3" cy="481.9" r="1.2" fill="#eeedee"/>
<circle cx="409.8" cy="487.5" r="0.5" fill="#eeedee"/>
<circle cx="451.0" cy="492.3" r="1.0" fill="#d8c0ae"/>
<circle cx="472.3" cy="463.9" r="0.9" fill="#e4d6cc"/>
<circle cx="471.9" cy="494.1" r="0.5" fill="#d8c0ae"/>
<circle cx="412.8" cy="500.8" r="1.1" fill="#eeedee"/>
<circle cx="443.2" cy="482.2" r="0.9" fill="#d2b6a2"/>
<circle cx="371.2" cy="500.4" r="1.0" fill="#eeedee"/>
<circle cx="443.0" cy="481.1" r="0.8" fill="#d2b6a2"/>
<circle cx="372.4" cy="459.3" r="1.0" fill="#d2b6a2"/>
<circle cx="467.2" cy="459.5" r="0.5" fill="#d8c0ae"/>
<circle cx="392.8" cy="512.6" r="0.6" fill="#eeedee"/>
<circle cx="448.2" cy="506.4" r="0.7" fill="#e4d6cc"/>
<circle cx="418.2" cy="477.8" r="0.6" fill="#e4d6cc"/>
<circle cx="391.2" cy="449.1" r="0.4" fill="#eeedee"/>
<path d="M426.4,472.7 L426.1,473.1 L425.7,473.6 L425.4,474.1 L425.2,474.6 L425.0,475.2 L424.9,475.8 L424.8,476.4 L424.8,476.9 L424.8,477.5 L424.9,478.1 L425.0,478.7 L425.2,479.2 L425.5,479.7 L427.6,483.5 L427.9,484.0 L428.2,484.5 L428.6,484.9 L429.0,485.3 L429.5,485.6 L430.0,485.9 L430.5,486.2 L431.0,486.4 L431.6,486.5 L443.7,489.1 L444.3,489.2 L444.9,489.3 L445.5,489.2 L446.1,489.2 L446.7,489.0 L447.2,488.8 L447.8,488.6 L448.3,488.3 L448.8,487.9 L449.2,487.5 L449.6,487.0 L450.0,486.6 L450.3,486.0 L452.8,481.1 L453.1,480.6 L453.3,480.0 L453.4,479.4 L453.5,478.8 L453.5,478.3 L453.5,477.7 L453.4,477.1 L453.2,476.5 L453.0,475.9 L452.8,475.4 L452.5,474.9 L452.1,474.4 L451.7,474.0 L451.2,473.6 L440.9,465.5 L440.4,465.1 L439.9,464.8 L439.4,464.6 L438.8,464.4 L438.2,464.3 L437.7,464.2 L437.1,464.2 L436.5,464.2 L435.9,464.3 L435.3,464.5 L434.8,464.7 L434.3,464.9 L433.8,465.3 L433.3,465.6 L432.9,466.0Z" fill="#ebebed"/>
<path d="M427.9,509.7 L428.1,510.2 L428.5,510.6 L428.8,511.1 L429.2,511.5 L429.7,511.9 L430.1,512.2 L430.7,512.5 L431.2,512.7 L431.7,512.9 L432.3,513.0 L432.9,513.1 L433.5,513.1 L434.0,513.0 L434.6,512.9 L435.2,512.8 L435.7,512.6 L436.2,512.3 L436.7,512.0 L437.2,511.6 L437.6,511.2 L445.7,502.8 L446.1,502.4 L446.4,501.9 L446.7,501.4 L447.0,500.9 L447.2,500.4 L447.3,499.8 L447.4,499.2 L447.4,498.6 L447.4,498.1 L447.3,497.5 L447.2,496.9 L447.0,496.4 L446.7,495.9 L446.4,495.4 L446.1,494.9 L445.7,494.5 L445.3,494.1 L444.8,493.7 L444.3,493.4 L443.8,493.2 L443.2,493.0 L442.7,492.8 L433.7,490.9 L433.2,490.8 L432.6,490.7 L432.0,490.8 L431.4,490.8 L430.8,491.0 L430.2,491.2 L429.7,491.4 L429.2,491.7 L428.7,492.1 L428.2,492.5 L427.8,492.9 L427.5,493.4 L427.2,493.9 L426.9,494.5 L425.0,499.1 L424.8,499.7 L424.7,500.3 L424.6,501.0 L424.6,501.6 L424.6,502.2 L424.7,502.8 L424.9,503.4 L425.2,504.0Z" fill="#ececee"/>
<path d="M370.1,489.4 L369.7,489.7 L369.3,490.1 L368.9,490.4 L368.6,490.9 L368.3,491.3 L368.0,491.8 L367.8,492.3 L367.7,492.8 L367.6,493.3 L367.6,493.8 L367.6,494.4 L367.7,494.9 L367.8,495.4 L367.9,495.9 L368.2,496.4 L368.4,496.8 L368.8,497.3 L369.1,497.7 L369.5,498.0 L369.9,498.3 L378.0,503.7 L378.4,504.0 L378.9,504.2 L379.4,504.4 L379.9,504.5 L380.5,504.6 L381.0,504.6 L381.6,504.5 L382.1,504.4 L382.4,504.4 L382.8,504.2 L383.3,504.1 L383.8,503.8 L384.2,503.6 L384.6,503.3 L385.0,502.9 L385.3,502.5 L385.6,502.1 L387.9,498.6 L388.2,498.1 L388.4,497.7 L388.6,497.2 L388.7,496.7 L388.8,496.2 L388.8,495.7 L388.8,495.2 L388.7,494.7 L388.6,494.2 L388.4,493.7 L388.2,493.2 L388.0,492.8 L387.7,492.4 L387.3,492.0 L387.0,491.6 L386.6,491.3 L386.1,491.1 L379.2,487.1 L378.7,486.9 L378.2,486.7 L377.7,486.5 L377.2,486.4 L376.7,486.4 L376.2,486.4 L375.7,486.5 L375.2,486.6 L374.7,486.7 L374.2,486.9 L373.8,487.2Z" fill="#e9e9ec"/>
<path d="M376.2,511.4 L376.3,510.9 L376.4,510.4 L376.4,509.9 L376.4,509.4 L376.3,508.9 L376.2,508.4 L376.0,508.0 L375.8,507.5 L375.5,507.1 L375.2,506.7 L374.9,506.3 L374.5,506.0 L374.1,505.7 L371.0,503.6 L370.6,503.4 L370.1,503.1 L369.6,503.0 L369.2,502.9 L368.7,502.8 L368.2,502.8 L367.7,502.8 L367.2,502.9 L366.7,503.0 L366.2,503.1 L365.8,503.4 L365.4,503.6 L365.0,503.9 L364.6,504.2 L364.2,504.6 L364.0,505.0 L363.7,505.4 L363.5,505.9 L363.3,506.4 L363.2,506.8 L363.1,507.3 L363.1,507.8 L363.1,518.6 L363.1,519.1 L363.2,519.6 L363.3,520.1 L363.5,520.6 L363.7,521.0 L364.0,521.4 L364.3,521.8 L364.6,522.2 L365.0,522.5 L365.4,522.8 L365.8,523.1 L366.2,523.3 L366.7,523.5 L367.2,523.6 L367.7,523.7 L368.2,523.7 L368.7,523.7 L369.2,523.7 L369.7,523.6 L370.1,523.5 L370.6,523.3 L371.1,523.1 L371.5,522.8 L371.9,522.5 L372.3,522.2 L372.6,521.8 L372.9,521.4 L373.1,521.0 L373.4,520.6 L373.5,520.1Z" fill="#ebebed"/>
<path d="M455.5,472.1 L455.9,472.5 L456.4,472.7 L457.0,473.0 L457.5,473.2 L458.1,473.3 L458.7,473.4 L459.2,473.4 L459.8,473.4 L460.4,473.3 L461.0,473.1 L471.2,470.0 L471.7,469.8 L472.2,469.5 L472.7,469.2 L473.2,468.9 L473.7,468.5 L474.0,468.1 L474.4,467.6 L474.7,467.1 L474.9,466.6 L475.1,466.0 L475.3,465.4 L475.4,464.9 L475.4,464.3 L475.4,453.4 L475.4,452.8 L475.3,452.2 L475.1,451.7 L474.9,451.1 L474.7,450.6 L474.4,450.1 L474.0,449.6 L473.6,449.2 L473.2,448.8 L472.7,448.4 L472.2,448.1 L471.7,447.9 L471.1,447.7 L470.6,447.5 L470.0,447.4 L469.4,447.4 L444.3,447.4 L443.7,447.4 L443.2,447.5 L442.6,447.7 L442.0,447.9 L441.5,448.1 L441.0,448.4 L440.5,448.8 L440.1,449.2 L439.7,449.6 L439.3,450.1 L439.0,450.6 L438.8,451.1 L438.6,451.7 L438.4,452.3 L438.4,452.8 L438.3,453.4 L438.3,455.7 L438.4,456.3 L438.5,456.9 L438.6,457.5 L438.8,458.1 L439.1,458.6 L439.4,459.1 L439.8,459.6 L440.2,460.0 L440.6,460.4Z" fill="#ececee"/>
<path d="M475.4,480.8 L475.4,480.2 L475.3,479.6 L475.1,479.1 L474.9,478.5 L474.7,478.0 L474.4,477.5 L474.0,477.0 L473.6,476.5 L473.2,476.2 L472.7,475.8 L472.2,475.5 L471.7,475.2 L471.1,475.1 L470.6,474.9 L470.0,474.8 L469.4,474.8 L468.8,474.8 L468.2,474.9 L467.6,475.1 L461.3,477.0 L460.7,477.2 L460.2,477.5 L459.7,477.8 L459.2,478.2 L458.8,478.6 L458.4,479.0 L458.0,479.5 L457.7,480.0 L452.2,490.5 L452.0,491.1 L451.8,491.7 L451.6,492.3 L451.6,492.9 L451.6,493.5 L451.6,494.1 L451.7,494.7 L452.2,496.5 L452.3,497.0 L452.5,497.6 L452.8,498.1 L453.1,498.6 L453.5,499.0 L453.9,499.5 L454.3,499.8 L454.8,500.2 L466.2,507.3 L466.7,507.6 L467.2,507.8 L467.8,508.0 L468.4,508.2 L468.9,508.2 L469.5,508.2 L470.1,508.2 L470.7,508.1 L471.2,508.0 L471.8,507.8 L472.3,507.5 L472.8,507.2 L473.3,506.8 L473.7,506.4 L474.1,506.0 L474.4,505.5 L474.7,505.0 L475.0,504.5 L475.1,504.0 L475.3,503.4 L475.4,502.8 L475.4,502.2Z" fill="#ebebed"/>
<path d="M391.1,489.5 L391.6,489.8 L392.1,490.0 L392.6,490.1 L393.1,490.2 L393.7,490.3 L394.2,490.2 L394.8,490.2 L395.3,490.1 L395.9,489.9 L396.4,489.7 L396.8,489.4 L397.3,489.1 L397.7,488.8 L398.1,488.4 L398.4,487.9 L398.8,487.5 L399.0,487.0 L402.0,480.5 L402.3,480.0 L402.4,479.5 L402.5,478.9 L402.6,478.4 L402.6,477.8 L402.5,477.3 L402.4,476.7 L402.2,476.2 L402.0,475.7 L401.8,475.2 L401.5,474.7 L401.1,474.3 L400.7,473.9 L400.3,473.6 L399.8,473.3 L399.3,473.0 L398.8,472.8 L398.3,472.6 L397.7,472.5 L397.2,472.5 L386.1,472.0 L385.6,472.0 L385.0,472.1 L384.5,472.2 L384.0,472.3 L383.5,472.5 L383.0,472.8 L382.5,473.1 L382.1,473.4 L381.7,473.8 L381.4,474.2 L381.1,474.6 L380.8,475.1 L380.6,475.6 L380.4,476.1 L379.8,478.1 L379.7,478.7 L379.7,479.2 L379.6,479.7 L379.7,480.3 L379.7,480.8 L379.9,481.3 L380.1,481.8 L380.3,482.3 L380.5,482.8 L380.9,483.2 L381.2,483.6 L381.6,484.0 L382.0,484.3 L382.5,484.6Z" fill="#ebebed"/>
<path d="M387.7,510.8 L387.4,510.5 L387.1,510.2 L386.7,509.9 L386.3,509.7 L385.9,509.5 L385.5,509.4 L385.0,509.3 L384.6,509.3 L384.1,509.2 L383.7,509.3 L383.2,509.4 L382.8,509.5 L382.4,509.6 L382.0,509.8 L381.6,510.1 L381.2,510.3 L380.9,510.6 L380.6,511.0 L380.4,511.3 L380.1,511.7 L379.9,512.1 L379.8,512.5 L378.2,517.7 L378.1,518.1 L378.0,518.6 L378.0,519.0 L378.0,519.5 L378.1,519.9 L378.2,520.4 L378.4,520.8 L378.6,521.2 L378.8,521.6 L379.1,522.0 L379.4,522.3 L379.7,522.6 L380.1,522.9 L380.5,523.1 L380.9,523.3 L381.3,523.5 L381.8,523.6 L382.2,523.7 L382.7,523.7 L388.8,523.7 L389.3,523.7 L389.8,523.6 L390.2,523.5 L390.7,523.3 L391.1,523.1 L391.5,522.9 L391.8,522.6 L392.2,522.3 L392.5,521.9 L392.8,521.6 L393.0,521.2 L393.2,520.7 L393.3,520.3 L393.4,519.8 L393.5,519.4 L393.5,518.9 L393.5,518.4 L393.4,518.0 L393.2,517.5 L393.1,517.1 L392.9,516.7 L392.6,516.3 L392.3,515.9Z" fill="#ebebed"/>
<path d="M440.7,513.5 L440.3,514.0 L439.9,514.4 L439.6,514.9 L439.4,515.5 L439.2,516.0 L439.1,516.6 L439.0,517.2 L439.0,517.8 L439.0,518.3 L439.1,518.9 L439.2,519.5 L439.4,520.0 L439.7,520.6 L440.0,521.1 L440.4,521.5 L440.8,522.0 L441.2,522.4 L441.7,522.7 L442.2,523.0 L442.7,523.2 L443.2,523.4 L443.8,523.6 L444.4,523.7 L445.0,523.7 L464.3,523.7 L464.9,523.7 L465.5,523.6 L466.1,523.4 L466.6,523.2 L467.1,523.0 L467.7,522.7 L468.1,522.3 L468.6,521.9 L469.0,521.5 L469.3,521.0 L469.6,520.5 L469.9,519.9 L470.1,519.4 L470.2,518.8 L470.3,518.2 L470.3,517.6 L470.3,517.0 L470.2,516.4 L470.0,515.8 L469.8,515.3 L469.5,514.8 L469.2,514.3 L468.8,513.8 L468.4,513.3 L468.0,513.0 L467.5,512.6 L455.5,505.1 L455.0,504.8 L454.4,504.6 L453.9,504.4 L453.3,504.2 L452.7,504.2 L452.2,504.2 L451.6,504.2 L451.0,504.3 L450.4,504.4 L449.9,504.7 L449.4,504.9 L448.9,505.2 L448.4,505.6 L448.0,506.0Z" fill="#e9e9ec"/>
<path d="M406.1,467.2 L406.2,467.8 L406.4,468.4 L406.6,468.9 L406.8,469.5 L407.1,470.0 L407.4,470.5 L407.8,470.9 L408.3,471.3 L408.8,471.7 L409.3,472.0 L409.8,472.3 L410.4,472.5 L410.9,472.6 L411.5,472.7 L417.4,473.3 L418.0,473.3 L418.6,473.3 L419.2,473.2 L419.8,473.0 L420.3,472.8 L420.9,472.6 L421.4,472.3 L421.9,471.9 L422.3,471.5 L432.9,460.5 L433.3,460.1 L433.6,459.6 L433.9,459.1 L434.1,458.6 L434.3,458.1 L434.4,457.5 L434.5,456.9 L434.6,456.3 L434.5,453.4 L434.5,452.8 L434.4,452.2 L434.3,451.6 L434.1,451.1 L433.8,450.6 L433.5,450.0 L433.2,449.6 L432.8,449.1 L432.3,448.8 L431.9,448.4 L431.4,448.1 L430.8,447.9 L430.3,447.7 L429.7,447.5 L429.1,447.4 L428.5,447.4 L411.0,447.4 L410.5,447.4 L409.9,447.5 L409.3,447.7 L408.8,447.8 L408.2,448.1 L407.7,448.4 L407.3,448.7 L406.8,449.1 L406.4,449.6 L406.1,450.0 L405.8,450.5 L405.5,451.0 L405.3,451.6 L405.2,452.1 L405.1,452.7 L405.0,453.3 L405.1,453.9Z" fill="#ebebed"/>
<path d="M418.8,513.8 L419.2,513.8 L419.6,513.7 L420.0,513.6 L420.4,513.5 L420.8,513.3 L421.1,513.1 L421.5,512.9 L421.8,512.6 L422.1,512.3 L422.3,512.0 L422.6,511.6 L422.7,511.3 L422.9,510.9 L423.0,510.5 L423.1,510.1 L423.1,509.7 L423.1,509.3 L423.1,508.9 L423.0,508.4 L422.9,508.1 L422.7,507.7 L421.8,505.9 L421.6,505.5 L421.4,505.2 L421.1,504.8 L420.8,504.5 L420.5,504.3 L420.1,504.0 L419.8,503.8 L419.4,503.7 L418.9,503.5 L418.5,503.5 L418.1,503.4 L411.9,503.2 L411.5,503.2 L411.1,503.3 L410.7,503.4 L410.3,503.5 L409.9,503.7 L409.6,503.9 L409.2,504.1 L408.9,504.4 L408.6,504.7 L408.3,505.0 L408.1,505.3 L407.9,505.7 L407.8,506.1 L407.6,506.5 L407.1,508.5 L407.1,508.9 L407.0,509.3 L407.0,509.8 L407.1,510.2 L407.2,510.6 L407.3,511.0 L407.5,511.4 L407.7,511.8 L407.9,512.1 L408.2,512.5 L408.5,512.8 L408.9,513.0 L409.2,513.3 L409.6,513.4 L410.0,513.6 L410.4,513.7 L410.9,513.8 L411.3,513.8Z" fill="#e9e9ec"/>
<path d="M379.6,465.4 L379.9,465.8 L380.3,466.3 L380.7,466.7 L381.2,467.0 L381.7,467.3 L382.2,467.6 L382.7,467.8 L383.3,468.0 L383.8,468.1 L384.4,468.1 L395.7,468.6 L396.3,468.6 L396.9,468.5 L397.5,468.4 L398.0,468.2 L398.6,468.0 L399.1,467.7 L399.6,467.4 L400.1,467.0 L400.5,466.5 L400.8,466.1 L401.2,465.6 L401.4,465.0 L401.6,464.5 L401.8,463.9 L401.9,463.3 L401.9,462.7 L401.9,462.1 L401.2,452.9 L401.1,452.3 L401.0,451.7 L400.8,451.2 L400.5,450.6 L400.2,450.1 L399.9,449.6 L399.5,449.2 L399.0,448.8 L398.6,448.4 L398.0,448.1 L397.5,447.9 L396.9,447.7 L396.4,447.5 L395.8,447.4 L395.2,447.4 L379.0,447.4 L378.5,447.4 L377.9,447.5 L377.3,447.7 L376.8,447.8 L376.2,448.1 L375.7,448.4 L375.3,448.7 L374.8,449.1 L374.4,449.6 L374.1,450.0 L373.8,450.5 L373.5,451.0 L373.3,451.6 L373.2,452.2 L373.1,452.7 L373.0,453.3 L373.1,453.9 L373.1,454.5 L373.3,455.0 L373.5,455.6 L373.7,456.1 L374.0,456.6Z" fill="#ececee"/>
<path d="M374.1,463.9 L373.8,463.4 L373.4,463.0 L373.0,462.6 L372.5,462.2 L372.0,461.9 L371.5,461.7 L370.9,461.4 L370.3,461.3 L369.8,461.2 L369.2,461.2 L368.6,461.2 L368.0,461.3 L367.4,461.4 L366.9,461.6 L366.3,461.9 L365.8,462.2 L365.3,462.5 L364.9,462.9 L364.5,463.3 L364.1,463.8 L363.8,464.3 L363.6,464.9 L363.4,465.4 L363.2,466.0 L363.1,466.6 L363.1,467.2 L363.1,478.5 L363.1,479.1 L363.2,479.7 L363.3,480.2 L363.5,480.8 L363.8,481.3 L364.1,481.8 L364.4,482.3 L364.8,482.7 L365.2,483.1 L365.7,483.5 L366.2,483.8 L366.7,484.0 L367.2,484.2 L367.8,484.4 L368.4,484.5 L368.9,484.5 L369.5,484.5 L370.1,484.5 L370.6,484.3 L371.2,484.2 L371.7,483.9 L372.2,483.6 L372.8,483.3 L373.2,483.0 L373.7,482.6 L374.1,482.3 L374.4,481.8 L374.7,481.4 L375.0,480.9 L375.2,480.4 L375.4,479.8 L377.4,472.8 L377.5,472.2 L377.6,471.7 L377.6,471.1 L377.6,470.5 L377.5,470.0 L377.4,469.4 L377.2,468.9 L377.0,468.4 L376.7,467.9Z" fill="#e9e9ec"/>
<path d="M402.8,487.8 L402.6,488.3 L402.5,488.9 L402.3,489.4 L402.3,490.0 L402.3,490.6 L402.3,491.1 L402.4,491.7 L402.6,492.2 L402.8,492.8 L403.0,493.3 L403.3,493.7 L403.7,494.2 L406.2,497.2 L406.6,497.6 L407.0,498.0 L407.4,498.4 L407.9,498.7 L408.4,498.9 L408.9,499.1 L409.5,499.2 L410.0,499.3 L410.6,499.4 L416.5,499.6 L417.1,499.6 L417.7,499.5 L418.3,499.4 L418.9,499.2 L419.4,498.9 L420.0,498.6 L420.5,498.3 L420.9,497.9 L421.3,497.4 L421.7,496.9 L422.0,496.4 L422.3,495.9 L424.5,490.4 L424.7,489.8 L424.8,489.3 L424.9,488.7 L424.9,488.1 L424.9,487.5 L424.8,486.9 L424.7,486.3 L424.4,485.8 L424.2,485.2 L421.4,480.1 L421.1,479.6 L420.7,479.1 L420.3,478.7 L419.9,478.3 L419.4,478.0 L418.9,477.7 L418.4,477.5 L417.8,477.3 L417.3,477.1 L416.7,477.0 L412.5,476.6 L412.0,476.6 L411.4,476.6 L410.8,476.7 L410.3,476.8 L409.7,477.0 L409.2,477.2 L408.7,477.5 L408.3,477.8 L407.8,478.2 L407.4,478.6 L407.1,479.1 L406.8,479.5 L406.5,480.0Z" fill="#ececee"/>
<path d="M401.0,496.9 L400.7,496.6 L400.3,496.3 L399.9,496.0 L399.5,495.7 L399.1,495.5 L398.6,495.4 L398.2,495.3 L397.7,495.2 L397.2,495.2 L396.8,495.2 L396.3,495.3 L395.8,495.4 L395.4,495.6 L395.0,495.8 L394.6,496.0 L394.2,496.3 L393.8,496.6 L393.5,497.0 L393.3,497.4 L390.0,502.3 L389.8,502.7 L389.6,503.2 L389.4,503.6 L389.3,504.1 L389.2,504.6 L389.2,505.1 L389.3,505.6 L389.4,506.0 L389.5,506.5 L389.7,506.9 L389.9,507.4 L390.2,507.8 L390.5,508.2 L394.5,512.6 L394.8,513.0 L395.2,513.3 L395.5,513.5 L396.0,513.8 L396.4,513.9 L396.9,514.1 L397.3,514.2 L397.8,514.2 L398.3,514.2 L398.7,514.2 L399.2,514.1 L399.7,514.0 L400.1,513.8 L400.5,513.5 L400.9,513.3 L401.3,513.0 L401.6,512.6 L401.9,512.3 L402.2,511.9 L402.4,511.5 L402.6,511.0 L402.7,510.6 L404.3,504.0 L404.4,503.6 L404.5,503.1 L404.5,502.7 L404.4,502.2 L404.3,501.8 L404.2,501.3 L404.1,500.9 L403.9,500.5 L403.6,500.1 L403.4,499.8Z" fill="#e9e9ec"/>
<circle cx="445.5" cy="453" r="1.1" fill="#4a3c3c"/>
<circle cx="416.5" cy="479.5" r="1.1" fill="#4a3c3c"/>
<circle cx="421" cy="482.5" r="1.1" fill="#4a3c3c"/>
<circle cx="423.5" cy="484.5" r="1.1" fill="#4a3c3c"/>
<circle cx="416" cy="487" r="1.1" fill="#4a3c3c"/>
<circle cx="386" cy="499" r="1.1" fill="#4a3c3c"/>
<circle cx="402.5" cy="506" r="1.1" fill="#4a3c3c"/>
<circle cx="380" cy="472" r="1.1" fill="#4a3c3c"/>
<circle cx="440" cy="470" r="1.1" fill="#4a3c3c"/>
<circle cx="462" cy="470" r="1.1" fill="#4a3c3c"/>
</g>
<text x="419" y="443.2" font-size="7.9" text-anchor="middle" fill="#151515" font-weight="normal" textLength="15.7" lengthAdjust="spacingAndGlyphs"  stroke="#151515" stroke-width="0.12">PU.1</text>
<rect x="0.5" y="0.5" width="519" height="529" fill="none" stroke="#646464" stroke-width="1"/>
</svg></body></html>
